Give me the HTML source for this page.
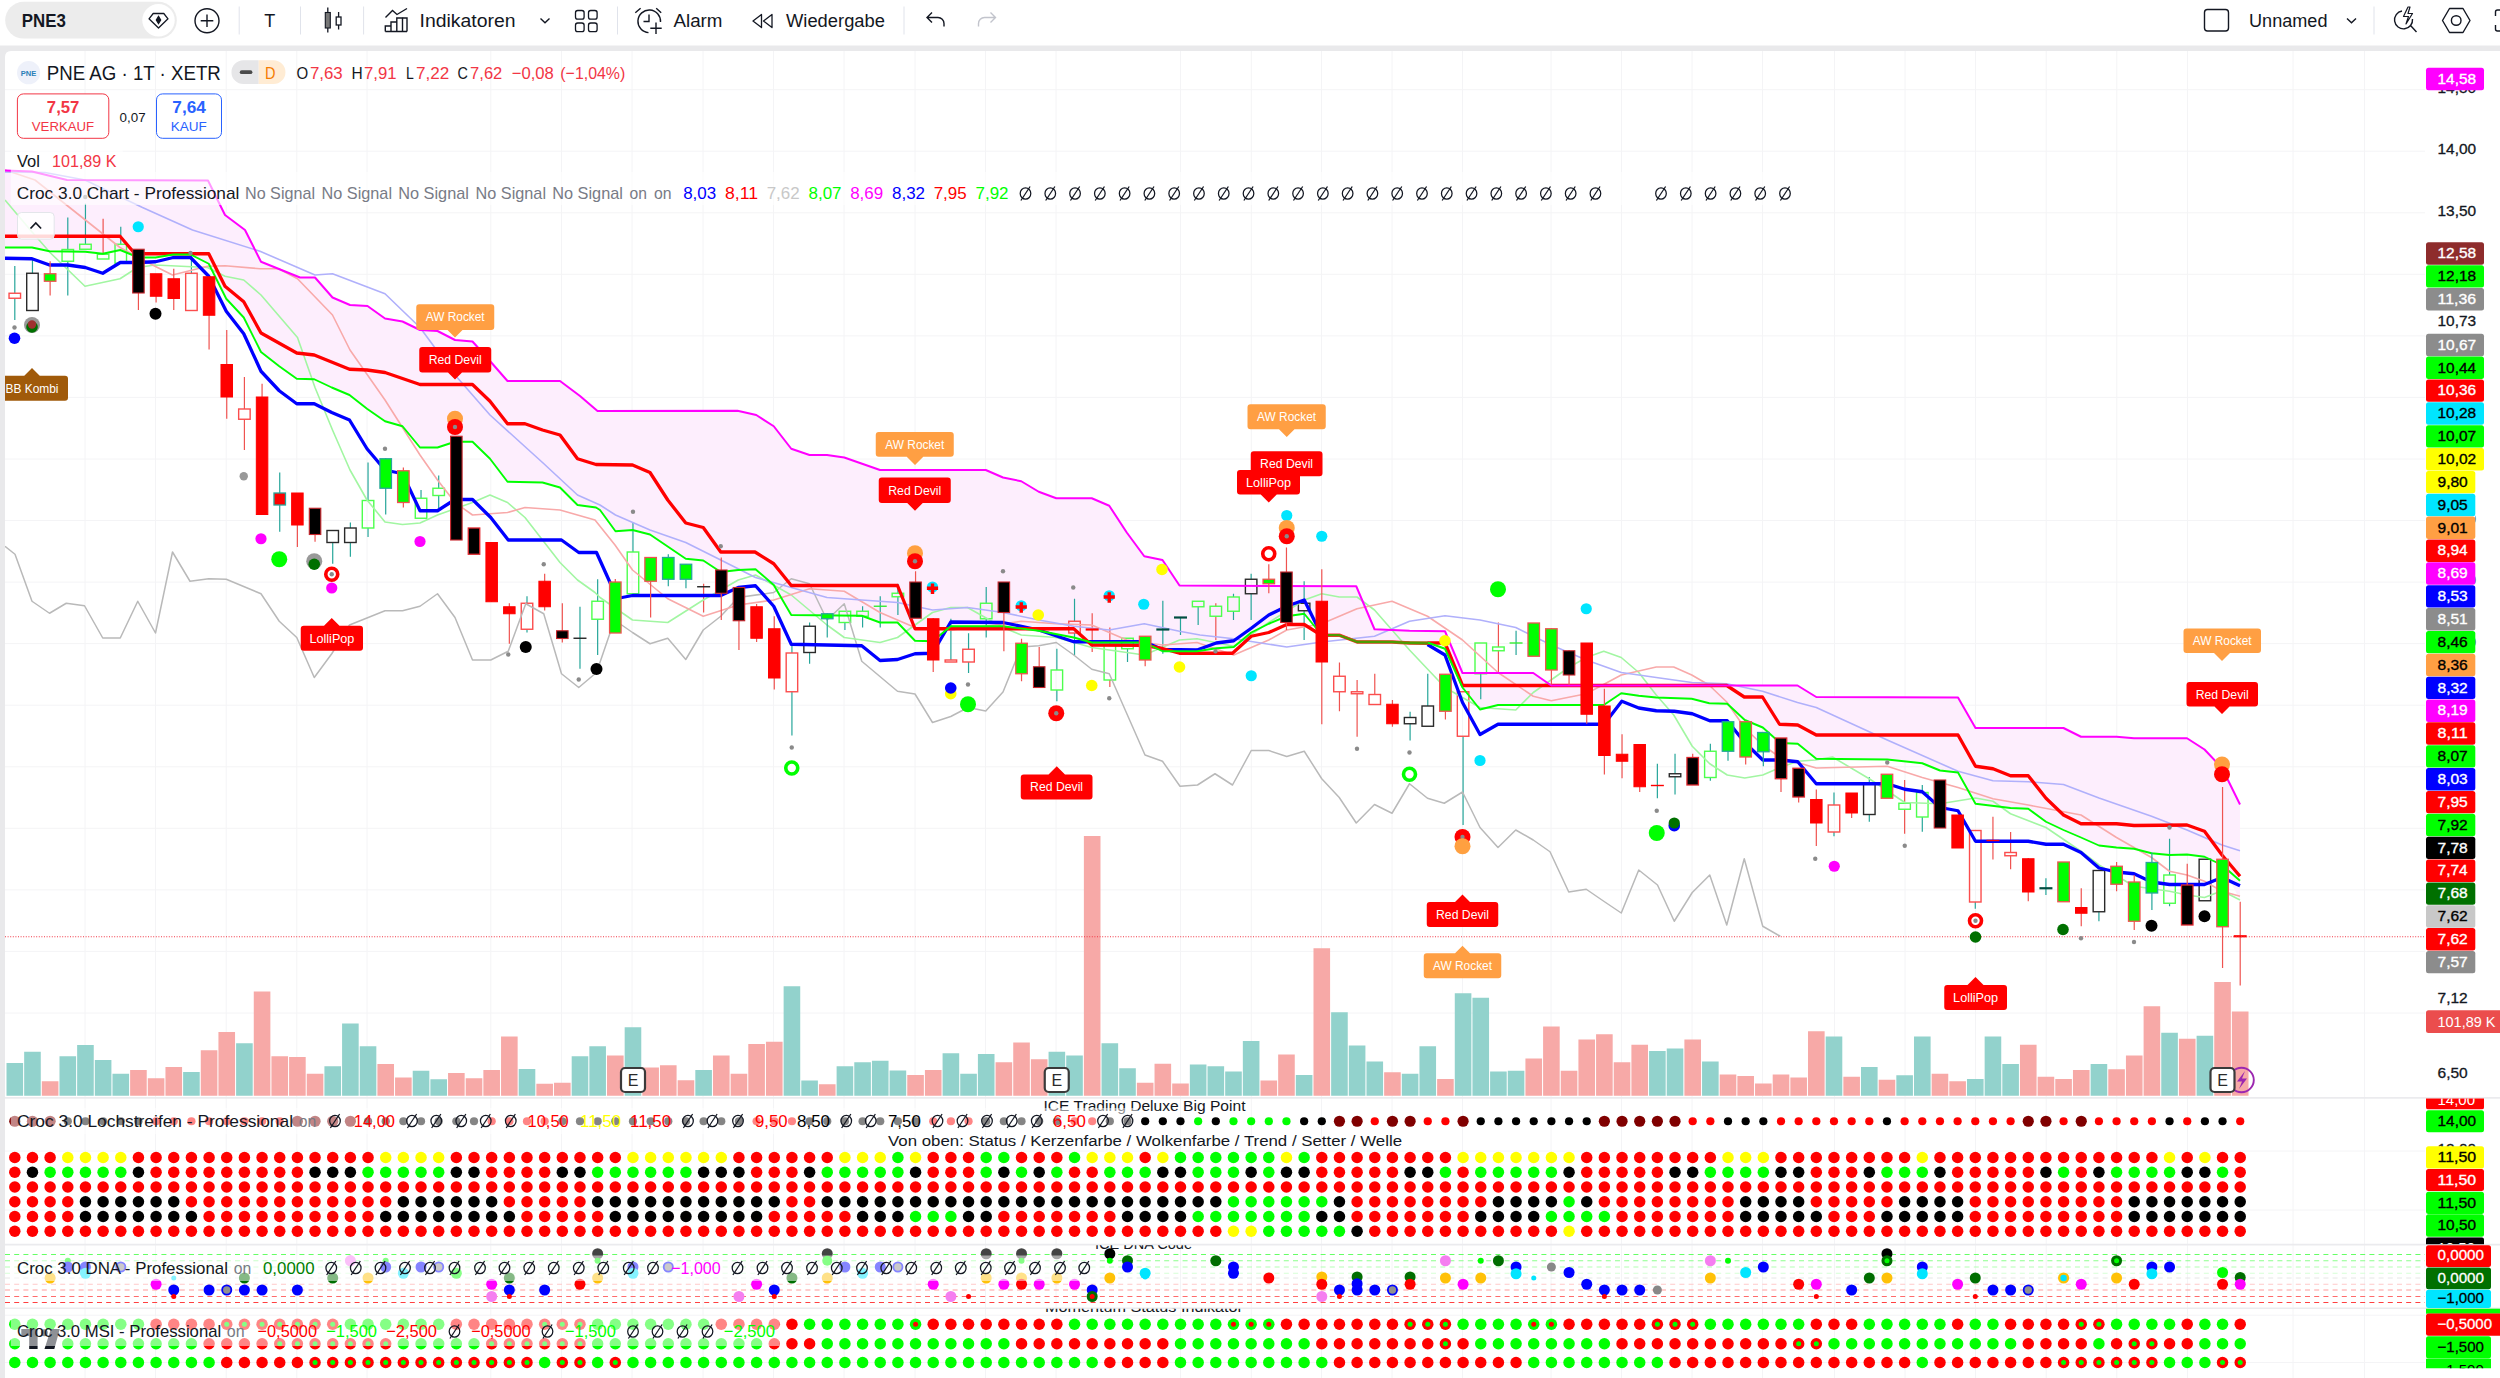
<!DOCTYPE html>
<html><head><meta charset="utf-8"><title>PNE3</title><style>html,body{margin:0;padding:0;background:#fff;overflow:hidden}svg{display:block}svg text{font-family:"Liberation Sans",sans-serif}</style></head><body><svg width="2500" height="1378" viewBox="0 0 2500 1378" font-family='"Liberation Sans", sans-serif' shape-rendering="auto">
<rect width="2500" height="1378" fill="#e9e9eb"/>
<rect width="2500" height="45.5" fill="#ffffff"/>
<path d="M5 1378 V57 Q5 51 11 51 H2500 V1378 Z" fill="#ffffff"/>
<defs><clipPath id="cp"><rect x="5" y="51" width="2420" height="1327"/></clipPath><clipPath id="cpm"><rect x="5" y="51" width="2420" height="1046"/></clipPath></defs>
<path d="M85.0 51V1378M155.5 51V1378M226.2 51V1378M296.8 51V1378M367.0 51V1378M490.8 51V1378M561.5 51V1378M632.0 51V1378M703.0 51V1378M773.5 51V1378M844.0 51V1378M915.0 51V1378M985.5 51V1378M1056.0 51V1378M1180.5 51V1378M1251.3 51V1378M1321.5 51V1378M1392.0 51V1378M1462.5 51V1378M1551.0 51V1378M1621.5 51V1378M1692.0 51V1378M1762.5 51V1378M1834.5 51V1378M1905.0 51V1378M1975.5 51V1378M2046.2 51V1378M2116.8 51V1378M2187.5 51V1378M2293.0 51V1378M2364.5 51V1378M5 89.7H2425M5 151.2H2425M5 212.8H2425M5 274.3H2425M5 335.9H2425M5 397.4H2425M5 459.0H2425M5 520.5H2425M5 582.1H2425M5 643.6H2425M5 705.2H2425M5 766.8H2425M5 828.3H2425M5 889.9H2425M5 951.4H2425M5 1013.0H2425M5 1151.0H2425M5 1210.0H2425M5 1315.2H2425M5 1362.5H2425" stroke="#f4f4f6" stroke-width="1" fill="none"/>
<g clip-path="url(#cpm)">
<polygon points="5.00,170.50 8.86,170.64 12.71,170.79 16.57,170.93 20.43,171.07 24.29,171.21 28.14,171.36 32.00,171.50 35.25,172.29 38.50,173.08 41.75,173.87 45.00,174.66 47.25,175.20 49.50,175.75 53.00,176.60 56.50,177.45 60.00,178.30 63.50,179.15 67.00,180.00 70.60,180.01 74.20,180.03 77.80,180.04 81.40,180.05 85.00,180.06 85.25,180.06 88.75,180.08 92.25,180.09 95.75,180.10 99.25,180.11 102.75,180.13 106.20,180.14 109.65,180.15 113.10,180.16 116.55,180.18 120.00,180.19 120.25,180.19 123.94,180.20 127.62,180.21 131.31,180.23 135.00,180.24 138.25,180.25 140.38,180.26 142.50,180.27 145.75,180.28 149.00,180.29 152.25,180.30 155.50,180.31 159.05,180.33 162.60,180.34 166.15,180.35 169.70,180.36 173.25,180.38 176.70,180.39 180.15,180.40 183.60,180.41 187.05,180.43 190.50,180.44 192.50,180.45 196.38,180.46 200.25,180.47 204.12,180.49 208.00,180.50 208.75,182.02 212.00,188.62 215.25,195.21 218.50,201.81 221.75,208.40 225.00,215.00 226.25,215.94 229.75,218.56 233.25,221.19 236.75,223.81 240.25,226.44 243.75,229.06 245.00,230.00 248.75,237.44 252.50,244.88 256.25,252.32 260.00,259.77 261.00,261.75 264.65,263.22 268.30,264.70 271.95,266.17 275.60,267.65 279.25,269.12 282.75,270.53 286.25,271.95 289.75,273.36 293.25,274.77 296.75,276.19 300.00,277.50 303.56,277.50 307.12,277.50 310.69,277.50 314.25,277.50 315.00,277.50 318.35,281.33 321.70,285.16 325.05,288.99 328.40,292.81 331.75,296.64 332.50,297.50 335.90,298.96 339.30,300.41 342.70,301.87 346.10,303.33 349.50,304.79 350.00,305.00 353.40,305.19 356.80,305.39 360.20,305.58 363.60,305.78 367.00,305.97 367.50,306.00 371.00,308.50 374.50,311.00 378.00,313.50 381.50,316.00 385.00,318.50 388.50,319.10 392.00,319.70 395.50,320.30 399.00,320.90 402.50,321.50 406.00,323.20 409.50,324.90 413.00,326.60 416.50,328.30 420.00,330.00 423.50,330.20 427.00,330.40 430.50,330.60 434.00,330.80 437.50,331.00 441.00,332.80 444.50,334.60 448.00,336.40 451.50,338.20 455.00,340.00 458.50,340.30 462.00,340.60 465.50,340.90 469.00,341.20 472.50,341.50 476.00,345.40 479.50,349.30 483.00,353.20 486.50,357.10 490.00,361.00 493.50,365.00 497.00,369.00 500.50,373.00 504.00,377.00 507.50,381.00 511.00,381.00 514.50,381.00 518.00,381.00 521.50,381.00 525.00,381.00 528.50,381.00 532.00,381.00 535.50,381.00 539.00,381.00 542.50,381.00 546.00,381.00 549.50,381.00 553.00,381.00 556.50,381.00 560.00,381.00 563.50,383.62 567.00,386.25 570.50,388.88 574.00,391.50 577.50,394.12 580.00,396.00 583.20,398.74 586.40,401.49 589.60,404.23 592.80,406.97 596.00,409.71 597.50,411.00 600.00,411.00 603.88,410.99 607.75,410.98 611.62,410.97 615.50,410.97 618.90,410.96 622.30,410.96 625.70,410.95 629.10,410.94 632.50,410.94 636.00,410.93 639.50,410.93 643.00,410.92 646.50,410.91 650.00,410.91 653.55,410.90 657.10,410.89 660.65,410.89 664.20,410.88 667.75,410.87 671.35,410.87 674.95,410.86 678.55,410.86 682.15,410.85 685.75,410.84 689.25,410.84 692.75,410.83 696.25,410.82 699.75,410.82 703.25,410.81 706.75,410.80 710.25,410.80 713.75,410.79 717.25,410.79 720.75,410.78 724.10,410.77 727.45,410.77 730.80,410.76 734.15,410.76 737.50,410.75 738.25,410.92 741.60,411.68 744.95,412.44 748.30,413.20 751.65,413.96 755.00,414.72 755.50,414.83 756.25,415.00 759.75,417.25 763.25,419.50 766.75,421.75 770.25,424.00 773.75,426.25 777.25,430.75 780.75,435.25 784.25,439.75 787.75,444.25 791.25,448.75 794.90,450.00 798.55,451.25 802.20,452.50 805.85,453.75 809.50,455.00 813.00,455.00 816.50,455.00 820.00,455.00 823.50,455.00 827.00,455.00 830.45,455.50 833.90,456.00 837.35,456.50 840.80,457.00 844.25,457.50 847.75,458.72 851.25,459.95 854.75,461.17 858.25,462.40 861.75,463.62 865.40,464.90 869.05,466.17 872.70,467.45 876.35,468.72 880.00,470.00 883.50,470.00 887.00,470.00 890.50,470.00 894.00,470.00 897.50,470.00 901.00,470.00 904.50,470.00 908.00,470.00 911.50,470.00 915.00,470.00 918.50,470.00 922.00,470.00 925.50,470.00 929.00,470.00 932.50,470.00 936.15,470.00 939.80,470.00 943.45,470.00 947.10,470.00 950.75,470.00 954.10,470.00 957.45,470.00 960.80,470.00 964.15,470.00 967.50,470.00 971.15,470.00 974.80,470.00 978.45,470.00 982.10,470.00 985.75,470.00 989.20,471.50 992.65,473.00 996.10,474.50 999.55,476.00 1003.00,477.50 1006.65,478.25 1010.30,479.00 1013.95,479.75 1017.60,480.50 1021.25,481.25 1024.75,483.35 1028.25,485.45 1031.75,487.55 1035.25,489.65 1038.75,491.75 1042.25,493.05 1045.75,494.35 1049.25,495.65 1052.75,496.95 1056.25,498.25 1059.75,498.25 1063.25,498.25 1066.75,498.25 1070.25,498.25 1073.75,498.25 1077.35,498.25 1080.95,498.25 1084.55,498.25 1088.15,498.25 1091.75,498.25 1095.25,499.75 1098.75,501.25 1102.25,502.75 1105.75,504.25 1109.25,505.75 1112.75,511.10 1116.25,516.45 1119.75,521.80 1123.25,527.15 1126.75,532.50 1130.25,537.25 1133.75,542.00 1137.25,546.75 1140.75,551.50 1144.25,556.25 1147.90,557.00 1151.55,557.75 1155.20,558.50 1158.85,559.25 1162.50,560.00 1165.90,565.10 1169.30,570.20 1172.70,575.30 1176.10,580.40 1179.50,585.50 1183.00,585.51 1186.50,585.53 1190.00,585.54 1193.50,585.56 1197.00,585.57 1200.00,585.59 1203.25,585.60 1206.50,585.61 1209.75,585.63 1213.00,585.64 1216.25,585.66 1219.50,585.67 1222.75,585.68 1226.00,585.70 1229.25,585.71 1232.50,585.72 1233.75,585.73 1237.25,585.75 1240.75,585.76 1244.25,585.77 1247.75,585.79 1251.25,585.80 1254.75,585.82 1258.25,585.83 1261.75,585.85 1265.25,585.86 1268.75,585.88 1272.35,585.89 1275.95,585.91 1279.55,585.92 1283.15,585.94 1286.75,585.96 1290.25,585.97 1293.75,585.98 1297.25,586.00 1300.75,586.01 1304.25,586.03 1307.75,586.04 1311.25,586.06 1314.75,586.07 1318.25,586.09 1321.75,586.10 1325.25,586.12 1328.75,586.13 1332.25,586.15 1335.75,586.16 1339.25,586.18 1342.65,586.19 1346.05,586.21 1349.45,586.22 1352.85,586.24 1356.25,586.25 1357.00,588.02 1360.50,596.26 1364.00,604.51 1367.50,612.76 1371.00,621.00 1374.50,629.25 1378.00,629.40 1381.50,629.55 1385.00,629.70 1388.50,629.85 1392.00,630.00 1395.50,630.15 1399.00,630.30 1402.50,630.45 1406.00,630.60 1409.50,630.75 1413.10,630.80 1416.70,630.85 1420.30,630.90 1423.90,630.95 1427.50,631.00 1431.00,631.05 1434.50,631.10 1438.00,631.15 1441.50,631.20 1445.00,631.25 1448.50,639.60 1452.00,647.95 1455.50,656.30 1459.00,664.65 1462.50,673.00 1466.00,673.00 1469.50,673.00 1473.00,673.00 1476.50,673.00 1480.00,673.00 1483.60,673.00 1487.20,673.00 1490.80,673.00 1494.40,673.00 1498.00,673.00 1501.55,673.00 1505.10,673.00 1508.65,673.00 1512.20,673.00 1515.75,673.00 1519.25,673.00 1522.75,673.00 1526.25,673.00 1529.75,673.00 1533.25,673.00 1536.85,675.50 1540.45,678.00 1544.05,680.50 1547.65,683.00 1551.25,685.50 1555.14,685.50 1559.03,685.50 1562.92,685.50 1566.81,685.50 1570.69,685.50 1574.58,685.50 1578.47,685.50 1582.36,685.50 1586.25,685.50 1589.75,685.50 1593.25,685.50 1596.75,685.50 1600.25,685.50 1603.75,685.50 1607.25,685.50 1610.75,685.50 1614.25,685.50 1617.75,685.50 1621.25,685.50 1624.75,685.50 1628.25,685.50 1631.75,685.50 1635.25,685.50 1638.75,685.50 1642.25,685.50 1645.75,685.50 1649.25,685.50 1652.75,685.50 1656.25,685.50 1660.19,685.50 1664.14,685.50 1668.08,685.50 1672.03,685.50 1675.97,685.50 1679.92,685.50 1683.86,685.50 1687.81,685.50 1691.75,685.50 1695.25,685.50 1698.75,685.50 1702.25,685.50 1705.75,685.50 1709.25,685.50 1712.75,685.50 1716.25,685.50 1719.75,685.50 1723.25,685.50 1726.75,685.50 1727.25,685.50 1730.65,685.50 1734.05,685.50 1737.45,685.50 1740.85,685.50 1744.25,685.50 1744.75,685.50 1748.30,685.50 1751.85,685.50 1755.40,685.50 1758.95,685.50 1762.50,685.50 1762.75,685.50 1766.10,685.50 1769.45,685.50 1772.80,685.50 1776.15,685.50 1779.50,685.50 1780.25,685.50 1783.70,685.50 1787.15,685.50 1790.60,685.50 1794.05,685.50 1797.50,685.50 1797.75,685.65 1801.45,687.92 1805.15,690.19 1808.85,692.46 1812.55,694.73 1816.25,697.00 1820.19,697.01 1824.14,697.03 1828.08,697.04 1832.03,697.06 1835.97,697.07 1839.92,697.08 1843.86,697.10 1847.81,697.11 1851.75,697.13 1855.69,697.14 1859.64,697.15 1863.58,697.17 1867.53,697.18 1871.47,697.19 1875.42,697.21 1879.36,697.22 1883.31,697.24 1887.25,697.25 1891.14,697.26 1895.03,697.28 1898.92,697.29 1902.81,697.31 1906.69,697.32 1910.58,697.33 1914.47,697.35 1918.36,697.36 1922.25,697.37 1925.80,697.39 1929.35,697.40 1932.90,697.41 1936.45,697.42 1940.00,697.44 1943.60,697.45 1947.20,697.46 1950.80,697.47 1954.40,697.49 1958.00,697.50 1961.50,703.60 1965.00,709.70 1968.50,715.80 1972.00,721.90 1975.50,728.00 1979.00,728.00 1982.50,728.00 1986.00,728.00 1989.50,728.00 1993.00,728.00 1996.50,728.00 2000.00,728.00 2003.50,728.00 2007.00,728.00 2010.50,728.00 2014.05,728.00 2017.60,728.00 2021.15,728.00 2024.70,728.00 2028.25,728.00 2031.80,728.00 2035.35,728.00 2038.90,728.00 2042.45,728.00 2046.00,728.00 2049.50,728.00 2053.00,728.00 2056.50,728.00 2060.00,728.00 2063.50,728.00 2067.00,729.75 2070.50,731.50 2074.00,733.25 2077.50,735.00 2081.00,736.75 2084.60,736.75 2088.20,736.75 2091.80,736.75 2095.40,736.75 2099.00,736.75 2102.50,736.75 2106.00,736.75 2109.50,736.75 2113.00,736.75 2116.50,736.75 2120.00,737.05 2123.50,737.35 2127.00,737.65 2130.50,737.95 2134.00,738.25 2137.50,738.25 2141.00,738.25 2144.50,738.25 2148.00,738.25 2151.50,738.25 2155.10,738.25 2158.70,738.25 2162.30,738.25 2165.90,738.25 2169.50,738.25 2173.00,738.25 2176.50,738.25 2180.00,738.25 2183.50,738.25 2187.00,738.25 2190.50,740.50 2194.00,742.75 2197.50,745.00 2201.00,747.25 2204.50,749.50 2208.00,753.20 2211.50,756.90 2215.00,760.60 2218.50,764.30 2222.00,768.00 2225.60,775.30 2229.20,782.60 2232.80,789.90 2236.40,797.20 2240.00,804.50 2240.00,900.00 2236.40,893.00 2232.80,886.00 2229.20,879.00 2225.60,872.00 2222.00,865.00 2218.50,863.35 2215.00,861.70 2211.50,860.05 2208.00,858.40 2204.50,856.75 2201.00,856.30 2197.50,855.85 2194.00,855.40 2190.50,854.95 2187.00,854.50 2183.50,854.60 2180.00,854.70 2176.50,854.80 2173.00,854.90 2169.50,855.00 2165.90,854.65 2162.30,854.30 2158.70,853.95 2155.10,853.60 2151.50,853.25 2148.00,852.35 2144.50,851.45 2141.00,850.55 2137.50,849.65 2134.00,848.75 2130.50,848.50 2127.00,848.25 2123.50,848.00 2120.00,847.75 2116.50,847.50 2113.00,847.10 2109.50,846.70 2106.00,846.30 2102.50,845.90 2099.00,845.50 2095.40,843.90 2091.80,842.30 2088.20,840.70 2084.60,839.10 2081.00,837.50 2077.50,836.00 2074.00,834.50 2070.50,833.00 2067.00,831.50 2063.50,830.00 2060.00,828.35 2056.50,826.70 2053.00,825.05 2049.50,823.40 2046.00,821.75 2042.45,819.15 2038.90,816.55 2035.35,813.95 2031.80,811.35 2028.25,808.75 2024.70,808.60 2021.15,808.45 2017.60,808.30 2014.05,808.15 2010.50,808.00 2007.00,807.58 2003.50,807.15 2000.00,806.73 1996.50,806.30 1993.00,805.88 1989.50,805.45 1986.00,805.02 1982.50,804.60 1979.00,804.17 1975.50,803.75 1972.00,797.50 1968.50,791.25 1965.00,785.00 1961.50,778.75 1958.00,772.50 1954.40,772.10 1950.80,771.70 1947.20,771.30 1943.60,770.90 1940.00,770.50 1936.45,769.05 1932.90,767.60 1929.35,766.15 1925.80,764.70 1922.25,763.25 1918.36,762.83 1914.47,762.42 1910.58,762.00 1906.69,761.58 1902.81,761.17 1898.92,760.75 1895.03,760.33 1891.14,759.92 1887.25,759.50 1883.31,759.46 1879.36,759.42 1875.42,759.38 1871.47,759.33 1867.53,759.29 1863.58,759.25 1859.64,759.21 1855.69,759.17 1851.75,759.12 1847.81,759.08 1843.86,759.04 1839.92,759.00 1835.97,758.96 1832.03,758.92 1828.08,758.88 1824.14,758.83 1820.19,758.79 1816.25,758.75 1812.55,755.75 1808.85,752.75 1805.15,749.75 1801.45,746.75 1797.75,743.75 1797.50,743.74 1794.05,743.59 1790.60,743.44 1787.15,743.30 1783.70,743.15 1780.25,743.00 1779.50,742.34 1776.15,739.37 1772.80,736.40 1769.45,733.43 1766.10,730.47 1762.75,727.50 1762.50,727.40 1758.95,725.92 1755.40,724.44 1751.85,722.96 1748.30,721.48 1744.75,720.00 1744.25,719.54 1740.85,716.38 1737.45,713.22 1734.05,710.06 1730.65,706.91 1727.25,703.75 1726.75,703.74 1723.25,703.64 1719.75,703.54 1716.25,703.44 1712.75,703.35 1709.25,703.25 1705.75,702.35 1702.25,701.45 1698.75,700.55 1695.25,699.65 1691.75,698.75 1687.81,698.61 1683.86,698.47 1679.92,698.33 1675.97,698.19 1672.03,698.06 1668.08,697.92 1664.14,697.78 1660.19,697.64 1656.25,697.50 1652.75,697.15 1649.25,696.80 1645.75,696.45 1642.25,696.10 1638.75,695.75 1635.25,695.25 1631.75,694.75 1628.25,694.25 1624.75,693.75 1621.25,693.25 1617.75,695.60 1614.25,697.95 1610.75,700.30 1607.25,702.65 1603.75,705.00 1600.25,705.00 1596.75,705.00 1593.25,705.00 1589.75,705.00 1586.25,705.00 1582.36,705.00 1578.47,705.00 1574.58,705.00 1570.69,705.00 1566.81,705.00 1562.92,705.00 1559.03,705.00 1555.14,705.00 1551.25,705.00 1547.65,705.00 1544.05,705.00 1540.45,705.00 1536.85,705.00 1533.25,705.00 1529.75,705.00 1526.25,705.00 1522.75,705.00 1519.25,705.00 1515.75,705.00 1512.20,705.00 1508.65,705.00 1505.10,705.00 1501.55,705.00 1498.00,705.00 1494.40,705.90 1490.80,706.80 1487.20,707.70 1483.60,708.60 1480.00,709.50 1476.50,705.10 1473.00,700.70 1469.50,696.30 1466.00,691.90 1462.50,687.50 1459.00,679.75 1455.50,672.00 1452.00,664.25 1448.50,656.50 1445.00,648.75 1441.50,647.50 1438.00,646.25 1434.50,645.00 1431.00,643.75 1427.50,642.50 1423.90,642.44 1420.30,642.37 1416.70,642.31 1413.10,642.24 1409.50,642.18 1406.00,642.12 1402.50,642.06 1399.00,641.99 1395.50,641.93 1392.00,641.87 1388.50,641.81 1385.00,641.75 1381.50,641.68 1378.00,641.62 1374.50,641.56 1371.00,641.50 1367.50,641.44 1364.00,641.37 1360.50,641.31 1357.00,641.25 1356.25,640.99 1352.85,639.79 1349.45,638.59 1346.05,637.39 1342.65,636.20 1339.25,635.00 1335.75,635.00 1332.25,635.00 1328.75,635.00 1325.25,635.00 1321.75,635.00 1318.25,630.75 1314.75,626.50 1311.25,622.25 1307.75,618.00 1304.25,613.75 1300.75,614.25 1297.25,614.75 1293.75,615.25 1290.25,615.75 1286.75,616.25 1283.15,617.75 1279.55,619.25 1275.95,620.75 1272.35,622.25 1268.75,623.75 1265.25,625.50 1261.75,627.25 1258.25,629.00 1254.75,630.75 1251.25,632.50 1247.75,635.40 1244.25,638.30 1240.75,641.20 1237.25,644.10 1233.75,647.00 1232.50,647.09 1229.25,647.32 1226.00,647.55 1222.75,647.79 1219.50,648.02 1216.25,648.25 1213.00,648.76 1209.75,649.26 1206.50,649.77 1203.25,650.28 1200.00,650.78 1197.00,651.25 1193.50,651.25 1190.00,651.25 1186.50,651.25 1183.00,651.25 1179.50,651.25 1176.10,651.25 1172.70,651.25 1169.30,651.25 1165.90,651.25 1162.50,651.25 1158.85,649.50 1155.20,647.75 1151.55,646.00 1147.90,644.25 1144.25,642.50 1140.75,642.50 1137.25,642.50 1133.75,642.50 1130.25,642.50 1126.75,642.50 1123.25,642.50 1119.75,642.50 1116.25,642.50 1112.75,642.50 1109.25,642.50 1105.75,642.50 1102.25,642.50 1098.75,642.50 1095.25,642.50 1091.75,642.50 1088.15,641.50 1084.55,640.50 1080.95,639.50 1077.35,638.50 1073.75,637.50 1070.25,636.83 1066.75,636.15 1063.25,635.48 1059.75,634.80 1056.25,634.12 1052.75,633.45 1049.25,632.77 1045.75,632.10 1042.25,631.42 1038.75,630.75 1035.25,630.31 1031.75,629.87 1028.25,629.43 1024.75,628.99 1021.25,628.55 1017.60,628.09 1013.95,627.63 1010.30,627.17 1006.65,626.71 1003.00,626.25 999.55,626.25 996.10,626.25 992.65,626.25 989.20,626.25 985.75,626.25 982.10,626.25 978.45,626.25 974.80,626.25 971.15,626.25 967.50,626.25 964.15,626.25 960.80,626.25 957.45,626.25 954.10,626.25 950.75,626.25 947.10,629.25 943.45,632.25 939.80,635.25 936.15,638.25 932.50,641.25 929.00,641.15 925.50,641.05 922.00,640.95 918.50,640.85 915.00,640.75 911.50,637.10 908.00,633.45 904.50,629.80 901.00,626.15 897.50,622.50 894.00,622.50 890.50,622.50 887.00,622.50 883.50,622.50 880.00,622.50 876.35,621.15 872.70,619.80 869.05,618.45 865.40,617.10 861.75,615.75 858.25,615.71 854.75,615.68 851.25,615.64 847.75,615.60 844.25,615.56 840.80,615.53 837.35,615.49 833.90,615.45 830.45,615.42 827.00,615.38 823.50,615.34 820.00,615.31 816.50,615.27 813.00,615.23 809.50,615.19 805.85,615.16 802.20,615.12 798.55,615.08 794.90,615.04 791.25,615.00 787.75,609.00 784.25,603.00 780.75,597.00 777.25,591.00 773.75,585.00 770.25,581.98 766.75,578.96 763.25,575.94 759.75,572.92 756.25,569.90 755.50,569.25 755.00,569.27 751.65,569.42 748.30,569.56 744.95,569.71 741.60,569.85 738.25,570.00 737.50,570.09 734.15,570.47 730.80,570.85 727.45,571.23 724.10,571.62 720.75,572.00 717.25,569.70 713.75,567.40 710.25,565.10 706.75,562.80 703.25,560.50 699.75,560.15 696.25,559.80 692.75,559.45 689.25,559.10 685.75,558.75 682.15,556.31 678.55,553.87 674.95,551.42 671.35,548.98 667.75,546.54 664.20,544.13 660.65,541.72 657.10,539.32 653.55,536.91 650.00,534.50 646.50,533.60 643.00,532.70 639.50,531.80 636.00,530.90 632.50,530.00 629.10,530.25 625.70,530.50 622.30,530.75 618.90,531.00 615.50,531.25 611.62,525.94 607.75,520.62 603.88,515.31 600.00,510.00 597.50,508.44 596.00,507.50 592.80,507.07 589.60,506.64 586.40,506.20 583.20,505.77 580.00,505.34 577.50,505.00 574.00,501.50 570.50,498.00 567.00,494.50 563.50,491.00 560.00,487.50 556.50,486.50 553.00,485.50 549.50,484.50 546.00,483.50 542.50,482.50 539.00,482.43 535.50,482.35 532.00,482.27 528.50,482.20 525.00,482.12 521.50,482.05 518.00,481.98 514.50,481.90 511.00,481.82 507.50,481.75 504.00,477.15 500.50,472.55 497.00,467.95 493.50,463.35 490.00,458.75 486.50,455.35 483.00,451.95 479.50,448.55 476.00,445.15 472.50,441.75 469.00,441.75 465.50,441.75 462.00,441.75 458.50,441.75 455.00,441.75 451.50,442.90 448.00,444.05 444.50,445.20 441.00,446.35 437.50,447.50 434.00,447.50 430.50,447.50 427.00,447.50 423.50,447.50 420.00,447.50 416.50,443.25 413.00,439.00 409.50,434.75 406.00,430.50 402.50,426.25 399.00,425.25 395.50,424.25 392.00,423.25 388.50,422.25 385.00,421.25 381.50,418.82 378.00,416.39 374.50,413.96 371.00,411.53 367.50,409.10 367.00,408.75 363.60,406.08 360.20,403.41 356.80,400.74 353.40,398.06 350.00,395.39 349.50,395.00 346.10,393.56 342.70,392.13 339.30,390.69 335.90,389.25 332.50,387.82 331.75,387.50 328.40,385.92 325.05,384.34 321.70,382.76 318.35,381.18 315.00,379.60 314.25,379.25 310.69,379.15 307.12,379.05 303.56,378.94 300.00,378.84 296.75,378.75 293.25,376.25 289.75,373.75 286.25,371.25 282.75,368.75 279.25,366.25 275.60,363.40 271.95,360.55 268.30,357.70 264.65,354.85 261.00,352.00 260.00,350.00 256.25,342.50 252.50,335.00 248.75,327.50 245.00,320.00 243.75,317.50 240.25,313.75 236.75,310.00 233.25,306.25 229.75,302.50 226.25,298.75 225.00,296.25 221.75,289.75 218.50,283.25 215.25,276.75 212.00,270.25 208.75,263.75 208.00,263.37 204.12,261.41 200.25,259.44 196.38,257.48 192.50,255.51 190.50,254.50 187.05,254.50 183.60,254.50 180.15,254.50 176.70,254.50 173.25,254.50 169.70,255.10 166.15,255.70 162.60,256.30 159.05,256.90 155.50,257.50 152.25,257.50 149.00,257.50 145.75,257.50 142.50,257.50 140.38,257.50 138.25,257.50 135.00,256.15 131.31,254.61 127.62,253.07 123.94,251.54 120.25,250.00 120.00,250.05 116.55,250.79 113.10,251.53 109.65,252.27 106.20,253.01 102.75,253.75 99.25,253.35 95.75,252.95 92.25,252.55 88.75,252.15 85.25,251.75 85.00,251.75 81.40,251.70 77.80,251.65 74.20,251.60 70.60,251.55 67.00,251.49 63.50,251.45 60.00,251.40 56.50,251.35 53.00,251.30 49.50,251.25 47.25,250.77 45.00,250.29 41.75,249.59 38.50,248.89 35.25,248.20 32.00,247.50 28.14,247.50 24.29,247.50 20.43,247.50 16.57,247.50 12.71,247.50 8.86,247.50 5.00,247.50" fill="#fdeefd"/>
<rect x="6.50" y="1063.00" width="16.6" height="32.75" fill="#92d2cc"/>
<rect x="24.16" y="1051.75" width="16.6" height="44.00" fill="#92d2cc"/>
<rect x="41.82" y="1081.25" width="16.6" height="14.50" fill="#f7a9a7"/>
<rect x="59.49" y="1056.25" width="16.6" height="39.50" fill="#92d2cc"/>
<rect x="77.15" y="1045.00" width="16.6" height="50.75" fill="#92d2cc"/>
<rect x="94.81" y="1060.00" width="16.6" height="35.75" fill="#92d2cc"/>
<rect x="112.47" y="1073.75" width="16.6" height="22.00" fill="#92d2cc"/>
<rect x="130.13" y="1070.00" width="16.6" height="25.75" fill="#f7a9a7"/>
<rect x="147.80" y="1078.25" width="16.6" height="17.50" fill="#f7a9a7"/>
<rect x="165.46" y="1067.00" width="16.6" height="28.75" fill="#f7a9a7"/>
<rect x="183.12" y="1072.00" width="16.6" height="23.75" fill="#92d2cc"/>
<rect x="200.78" y="1050.25" width="16.6" height="45.50" fill="#f7a9a7"/>
<rect x="218.44" y="1032.00" width="16.6" height="63.75" fill="#f7a9a7"/>
<rect x="236.11" y="1043.25" width="16.6" height="52.50" fill="#92d2cc"/>
<rect x="253.77" y="991.50" width="16.6" height="104.25" fill="#f7a9a7"/>
<rect x="271.43" y="1056.25" width="16.6" height="39.50" fill="#f7a9a7"/>
<rect x="289.09" y="1057.00" width="16.6" height="38.75" fill="#f7a9a7"/>
<rect x="306.75" y="1073.75" width="16.6" height="22.00" fill="#f7a9a7"/>
<rect x="324.42" y="1066.25" width="16.6" height="29.50" fill="#92d2cc"/>
<rect x="342.08" y="1023.50" width="16.6" height="72.25" fill="#92d2cc"/>
<rect x="359.74" y="1046.25" width="16.6" height="49.50" fill="#92d2cc"/>
<rect x="377.40" y="1064.00" width="16.6" height="31.75" fill="#f7a9a7"/>
<rect x="395.06" y="1077.50" width="16.6" height="18.25" fill="#f7a9a7"/>
<rect x="412.73" y="1070.75" width="16.6" height="25.00" fill="#92d2cc"/>
<rect x="430.39" y="1079.25" width="16.6" height="16.50" fill="#92d2cc"/>
<rect x="448.05" y="1073.00" width="16.6" height="22.75" fill="#f7a9a7"/>
<rect x="465.71" y="1078.25" width="16.6" height="17.50" fill="#f7a9a7"/>
<rect x="483.37" y="1070.00" width="16.6" height="25.75" fill="#f7a9a7"/>
<rect x="501.04" y="1036.50" width="16.6" height="59.25" fill="#f7a9a7"/>
<rect x="518.70" y="1069.00" width="16.6" height="26.75" fill="#92d2cc"/>
<rect x="536.36" y="1083.75" width="16.6" height="12.00" fill="#f7a9a7"/>
<rect x="554.02" y="1082.75" width="16.6" height="13.00" fill="#f7a9a7"/>
<rect x="571.68" y="1056.25" width="16.6" height="39.50" fill="#92d2cc"/>
<rect x="589.35" y="1046.25" width="16.6" height="49.50" fill="#92d2cc"/>
<rect x="607.01" y="1055.50" width="16.6" height="40.25" fill="#f7a9a7"/>
<rect x="624.67" y="1027.25" width="16.6" height="68.50" fill="#92d2cc"/>
<rect x="642.33" y="1067.50" width="16.6" height="28.25" fill="#f7a9a7"/>
<rect x="659.99" y="1065.25" width="16.6" height="30.50" fill="#f7a9a7"/>
<rect x="677.66" y="1080.25" width="16.6" height="15.50" fill="#f7a9a7"/>
<rect x="695.32" y="1070.00" width="16.6" height="25.75" fill="#92d2cc"/>
<rect x="712.98" y="1055.50" width="16.6" height="40.25" fill="#f7a9a7"/>
<rect x="730.64" y="1073.75" width="16.6" height="22.00" fill="#f7a9a7"/>
<rect x="748.30" y="1044.00" width="16.6" height="51.75" fill="#f7a9a7"/>
<rect x="765.97" y="1041.75" width="16.6" height="54.00" fill="#f7a9a7"/>
<rect x="783.63" y="986.25" width="16.6" height="109.50" fill="#92d2cc"/>
<rect x="801.29" y="1080.50" width="16.6" height="15.25" fill="#92d2cc"/>
<rect x="818.95" y="1084.25" width="16.6" height="11.50" fill="#f7a9a7"/>
<rect x="836.61" y="1066.25" width="16.6" height="29.50" fill="#92d2cc"/>
<rect x="854.28" y="1062.25" width="16.6" height="33.50" fill="#92d2cc"/>
<rect x="871.94" y="1060.75" width="16.6" height="35.00" fill="#92d2cc"/>
<rect x="889.60" y="1070.50" width="16.6" height="25.25" fill="#92d2cc"/>
<rect x="907.26" y="1075.00" width="16.6" height="20.75" fill="#f7a9a7"/>
<rect x="924.92" y="1070.00" width="16.6" height="25.75" fill="#f7a9a7"/>
<rect x="942.59" y="1053.25" width="16.6" height="42.50" fill="#92d2cc"/>
<rect x="960.25" y="1073.75" width="16.6" height="22.00" fill="#92d2cc"/>
<rect x="977.91" y="1054.00" width="16.6" height="41.75" fill="#92d2cc"/>
<rect x="995.57" y="1062.25" width="16.6" height="33.50" fill="#f7a9a7"/>
<rect x="1013.23" y="1042.50" width="16.6" height="53.25" fill="#f7a9a7"/>
<rect x="1030.90" y="1059.25" width="16.6" height="36.50" fill="#f7a9a7"/>
<rect x="1048.56" y="1051.75" width="16.6" height="44.00" fill="#92d2cc"/>
<rect x="1066.22" y="1055.50" width="16.6" height="40.25" fill="#92d2cc"/>
<rect x="1083.88" y="836.00" width="16.6" height="259.75" fill="#f7a9a7"/>
<rect x="1101.54" y="1043.25" width="16.6" height="52.50" fill="#92d2cc"/>
<rect x="1119.21" y="1068.25" width="16.6" height="27.50" fill="#92d2cc"/>
<rect x="1136.87" y="1082.75" width="16.6" height="13.00" fill="#f7a9a7"/>
<rect x="1154.53" y="1063.75" width="16.6" height="32.00" fill="#f7a9a7"/>
<rect x="1172.19" y="1083.50" width="16.6" height="12.25" fill="#f7a9a7"/>
<rect x="1189.85" y="1064.50" width="16.6" height="31.25" fill="#92d2cc"/>
<rect x="1207.52" y="1066.25" width="16.6" height="29.50" fill="#92d2cc"/>
<rect x="1225.18" y="1071.50" width="16.6" height="24.25" fill="#92d2cc"/>
<rect x="1242.84" y="1041.00" width="16.6" height="54.75" fill="#92d2cc"/>
<rect x="1260.50" y="1080.50" width="16.6" height="15.25" fill="#f7a9a7"/>
<rect x="1278.16" y="1054.50" width="16.6" height="41.25" fill="#f7a9a7"/>
<rect x="1295.83" y="1075.00" width="16.6" height="20.75" fill="#92d2cc"/>
<rect x="1313.49" y="948.25" width="16.6" height="147.50" fill="#f7a9a7"/>
<rect x="1331.15" y="1012.25" width="16.6" height="83.50" fill="#92d2cc"/>
<rect x="1348.81" y="1045.50" width="16.6" height="50.25" fill="#92d2cc"/>
<rect x="1366.47" y="1061.50" width="16.6" height="34.25" fill="#92d2cc"/>
<rect x="1384.14" y="1072.25" width="16.6" height="23.50" fill="#f7a9a7"/>
<rect x="1401.80" y="1073.75" width="16.6" height="22.00" fill="#92d2cc"/>
<rect x="1419.46" y="1046.25" width="16.6" height="49.50" fill="#92d2cc"/>
<rect x="1437.12" y="1079.00" width="16.6" height="16.75" fill="#f7a9a7"/>
<rect x="1454.78" y="993.25" width="16.6" height="102.50" fill="#92d2cc"/>
<rect x="1472.45" y="997.75" width="16.6" height="98.00" fill="#92d2cc"/>
<rect x="1490.11" y="1071.50" width="16.6" height="24.25" fill="#92d2cc"/>
<rect x="1507.77" y="1070.75" width="16.6" height="25.00" fill="#92d2cc"/>
<rect x="1525.43" y="1058.50" width="16.6" height="37.25" fill="#f7a9a7"/>
<rect x="1543.09" y="1026.50" width="16.6" height="69.25" fill="#f7a9a7"/>
<rect x="1560.76" y="1070.75" width="16.6" height="25.00" fill="#f7a9a7"/>
<rect x="1578.42" y="1039.50" width="16.6" height="56.25" fill="#f7a9a7"/>
<rect x="1596.08" y="1034.25" width="16.6" height="61.50" fill="#f7a9a7"/>
<rect x="1613.74" y="1062.25" width="16.6" height="33.50" fill="#f7a9a7"/>
<rect x="1631.40" y="1044.75" width="16.6" height="51.00" fill="#f7a9a7"/>
<rect x="1649.07" y="1051.00" width="16.6" height="44.75" fill="#92d2cc"/>
<rect x="1666.73" y="1048.50" width="16.6" height="47.25" fill="#92d2cc"/>
<rect x="1684.39" y="1039.50" width="16.6" height="56.25" fill="#f7a9a7"/>
<rect x="1702.05" y="1061.50" width="16.6" height="34.25" fill="#92d2cc"/>
<rect x="1719.71" y="1074.50" width="16.6" height="21.25" fill="#f7a9a7"/>
<rect x="1737.38" y="1076.00" width="16.6" height="19.75" fill="#f7a9a7"/>
<rect x="1755.04" y="1083.50" width="16.6" height="12.25" fill="#f7a9a7"/>
<rect x="1772.70" y="1074.50" width="16.6" height="21.25" fill="#f7a9a7"/>
<rect x="1790.36" y="1077.50" width="16.6" height="18.25" fill="#f7a9a7"/>
<rect x="1808.02" y="1031.25" width="16.6" height="64.50" fill="#f7a9a7"/>
<rect x="1825.69" y="1036.50" width="16.6" height="59.25" fill="#92d2cc"/>
<rect x="1843.35" y="1076.75" width="16.6" height="19.00" fill="#f7a9a7"/>
<rect x="1861.01" y="1067.00" width="16.6" height="28.75" fill="#92d2cc"/>
<rect x="1878.67" y="1079.75" width="16.6" height="16.00" fill="#f7a9a7"/>
<rect x="1896.33" y="1075.25" width="16.6" height="20.50" fill="#92d2cc"/>
<rect x="1914.00" y="1036.50" width="16.6" height="59.25" fill="#92d2cc"/>
<rect x="1931.66" y="1073.75" width="16.6" height="22.00" fill="#f7a9a7"/>
<rect x="1949.32" y="1081.25" width="16.6" height="14.50" fill="#f7a9a7"/>
<rect x="1966.98" y="1079.00" width="16.6" height="16.75" fill="#92d2cc"/>
<rect x="1984.64" y="1036.50" width="16.6" height="59.25" fill="#92d2cc"/>
<rect x="2002.31" y="1064.00" width="16.6" height="31.75" fill="#92d2cc"/>
<rect x="2019.97" y="1044.75" width="16.6" height="51.00" fill="#f7a9a7"/>
<rect x="2037.63" y="1076.75" width="16.6" height="19.00" fill="#f7a9a7"/>
<rect x="2055.29" y="1079.00" width="16.6" height="16.75" fill="#f7a9a7"/>
<rect x="2072.95" y="1070.00" width="16.6" height="25.75" fill="#f7a9a7"/>
<rect x="2090.62" y="1064.00" width="16.6" height="31.75" fill="#92d2cc"/>
<rect x="2108.28" y="1069.25" width="16.6" height="26.50" fill="#f7a9a7"/>
<rect x="2125.94" y="1055.50" width="16.6" height="40.25" fill="#f7a9a7"/>
<rect x="2143.60" y="1006.25" width="16.6" height="89.50" fill="#f7a9a7"/>
<rect x="2161.26" y="1032.75" width="16.6" height="63.00" fill="#92d2cc"/>
<rect x="2178.93" y="1038.75" width="16.6" height="57.00" fill="#f7a9a7"/>
<rect x="2196.59" y="1035.75" width="16.6" height="60.00" fill="#92d2cc"/>
<rect x="2214.25" y="982.00" width="16.6" height="113.75" fill="#f7a9a7"/>
<rect x="2231.91" y="1011.50" width="16.6" height="84.25" fill="#f7a9a7"/>
<path d="M14.80 266.00V293.25" stroke="#26a69a" stroke-width="1.2"/>
<path d="M14.80 298.25V320.00" stroke="#26a69a" stroke-width="1.2"/>
<path d="M32.46 260.00V273.25" stroke="#26a69a" stroke-width="1.2"/>
<path d="M67.79 217.50V249.50" stroke="#26a69a" stroke-width="1.2"/>
<path d="M67.79 261.25V295.50" stroke="#26a69a" stroke-width="1.2"/>
<path d="M85.45 203.75V244.25" stroke="#26a69a" stroke-width="1.2"/>
<path d="M103.11 218.75V254.25" stroke="#ef5350" stroke-width="1.2"/>
<path d="M120.77 226.75V244.25" stroke="#26a69a" stroke-width="1.2"/>
<path d="M191.42 253.75V273.25" stroke="#26a69a" stroke-width="1.2"/>
<path d="M244.41 377.00V409.00" stroke="#ef5350" stroke-width="1.2"/>
<path d="M244.41 419.25V450.00" stroke="#ef5350" stroke-width="1.2"/>
<path d="M332.72 542.50V563.75" stroke="#26a69a" stroke-width="1.2"/>
<path d="M350.38 522.50V528.00" stroke="#26a69a" stroke-width="1.2"/>
<path d="M350.38 542.50V556.75" stroke="#26a69a" stroke-width="1.2"/>
<path d="M368.04 462.50V500.50" stroke="#26a69a" stroke-width="1.2"/>
<path d="M368.04 528.00V537.00" stroke="#26a69a" stroke-width="1.2"/>
<path d="M421.03 490.00V498.25" stroke="#26a69a" stroke-width="1.2"/>
<path d="M438.69 475.50V488.25" stroke="#26a69a" stroke-width="1.2"/>
<path d="M438.69 495.50V508.00" stroke="#26a69a" stroke-width="1.2"/>
<path d="M527.00 596.25V603.25" stroke="#26a69a" stroke-width="1.2"/>
<path d="M527.00 629.25V632.50" stroke="#26a69a" stroke-width="1.2"/>
<path d="M579.98 606.75V668.75" stroke="#26a69a" stroke-width="1.2"/>
<path d="M597.65 579.25V601.25" stroke="#26a69a" stroke-width="1.2"/>
<path d="M597.65 619.25V655.00" stroke="#26a69a" stroke-width="1.2"/>
<path d="M632.97 522.50V552.00" stroke="#26a69a" stroke-width="1.2"/>
<path d="M703.62 583.75V612.50" stroke="#ef5350" stroke-width="1.2"/>
<path d="M791.93 645.00V653.00" stroke="#26a69a" stroke-width="1.2"/>
<path d="M791.93 691.75V735.50" stroke="#26a69a" stroke-width="1.2"/>
<path d="M809.59 622.50V626.25" stroke="#26a69a" stroke-width="1.2"/>
<path d="M809.59 652.50V663.75" stroke="#26a69a" stroke-width="1.2"/>
<path d="M844.91 622.50V630.00" stroke="#26a69a" stroke-width="1.2"/>
<path d="M862.58 606.25V611.25" stroke="#26a69a" stroke-width="1.2"/>
<path d="M862.58 616.25V627.50" stroke="#26a69a" stroke-width="1.2"/>
<path d="M880.24 596.25V627.50" stroke="#26a69a" stroke-width="1.2"/>
<path d="M897.90 583.75V593.25" stroke="#26a69a" stroke-width="1.2"/>
<path d="M897.90 596.75V615.00" stroke="#26a69a" stroke-width="1.2"/>
<path d="M950.89 618.75V660.00" stroke="#26a69a" stroke-width="1.2"/>
<path d="M968.55 633.25V649.25" stroke="#26a69a" stroke-width="1.2"/>
<path d="M968.55 662.00V673.00" stroke="#26a69a" stroke-width="1.2"/>
<path d="M986.21 587.00V603.25" stroke="#26a69a" stroke-width="1.2"/>
<path d="M986.21 618.75V637.50" stroke="#26a69a" stroke-width="1.2"/>
<path d="M1056.86 648.75V670.00" stroke="#26a69a" stroke-width="1.2"/>
<path d="M1056.86 690.00V701.25" stroke="#26a69a" stroke-width="1.2"/>
<path d="M1074.52 598.75V621.25" stroke="#26a69a" stroke-width="1.2"/>
<path d="M1074.52 633.00V655.00" stroke="#26a69a" stroke-width="1.2"/>
<path d="M1092.18 613.25V652.00" stroke="#ef5350" stroke-width="1.2"/>
<path d="M1109.84 627.50V645.00" stroke="#ef5350" stroke-width="1.2"/>
<path d="M1109.84 680.00V687.00" stroke="#ef5350" stroke-width="1.2"/>
<path d="M1127.51 648.75V662.00" stroke="#26a69a" stroke-width="1.2"/>
<path d="M1162.83 600.75V653.75" stroke="#26a69a" stroke-width="1.2"/>
<path d="M1180.49 617.00V635.00" stroke="#26a69a" stroke-width="1.2"/>
<path d="M1198.15 606.75V625.00" stroke="#26a69a" stroke-width="1.2"/>
<path d="M1215.82 603.25V606.25" stroke="#ef5350" stroke-width="1.2"/>
<path d="M1215.82 616.25V640.00" stroke="#ef5350" stroke-width="1.2"/>
<path d="M1233.48 593.75V597.00" stroke="#26a69a" stroke-width="1.2"/>
<path d="M1233.48 611.25V620.00" stroke="#26a69a" stroke-width="1.2"/>
<path d="M1251.14 573.75V579.25" stroke="#26a69a" stroke-width="1.2"/>
<path d="M1251.14 593.75V620.00" stroke="#26a69a" stroke-width="1.2"/>
<path d="M1304.13 581.25V603.25" stroke="#26a69a" stroke-width="1.2"/>
<path d="M1304.13 610.75V640.00" stroke="#26a69a" stroke-width="1.2"/>
<path d="M1339.45 662.50V676.25" stroke="#ef5350" stroke-width="1.2"/>
<path d="M1339.45 691.75V711.25" stroke="#ef5350" stroke-width="1.2"/>
<path d="M1357.11 680.00V691.75" stroke="#ef5350" stroke-width="1.2"/>
<path d="M1357.11 693.75V736.75" stroke="#ef5350" stroke-width="1.2"/>
<path d="M1374.77 673.75V694.50" stroke="#ef5350" stroke-width="1.2"/>
<path d="M1410.10 711.75V717.50" stroke="#26a69a" stroke-width="1.2"/>
<path d="M1410.10 723.75V740.50" stroke="#26a69a" stroke-width="1.2"/>
<path d="M1427.76 673.75V706.00" stroke="#26a69a" stroke-width="1.2"/>
<path d="M1463.08 691.00V691.75" stroke="#26a69a" stroke-width="1.2"/>
<path d="M1463.08 736.25V825.00" stroke="#26a69a" stroke-width="1.2"/>
<path d="M1480.75 673.75V699.25" stroke="#26a69a" stroke-width="1.2"/>
<path d="M1498.41 622.50V647.00" stroke="#ef5350" stroke-width="1.2"/>
<path d="M1498.41 650.75V672.50" stroke="#ef5350" stroke-width="1.2"/>
<path d="M1516.07 630.75V655.00" stroke="#26a69a" stroke-width="1.2"/>
<path d="M1657.37 763.75V798.25" stroke="#26a69a" stroke-width="1.2"/>
<path d="M1675.03 753.75V773.75" stroke="#26a69a" stroke-width="1.2"/>
<path d="M1675.03 776.75V794.50" stroke="#26a69a" stroke-width="1.2"/>
<path d="M1710.35 743.75V751.25" stroke="#26a69a" stroke-width="1.2"/>
<path d="M1710.35 777.50V780.75" stroke="#26a69a" stroke-width="1.2"/>
<path d="M1833.99 792.50V805.00" stroke="#26a69a" stroke-width="1.2"/>
<path d="M1833.99 832.00V836.25" stroke="#26a69a" stroke-width="1.2"/>
<path d="M1869.31 777.00V783.75" stroke="#26a69a" stroke-width="1.2"/>
<path d="M1869.31 814.50V821.75" stroke="#26a69a" stroke-width="1.2"/>
<path d="M1904.63 780.00V803.25" stroke="#ef5350" stroke-width="1.2"/>
<path d="M1904.63 809.25V833.75" stroke="#ef5350" stroke-width="1.2"/>
<path d="M1922.30 785.00V792.50" stroke="#26a69a" stroke-width="1.2"/>
<path d="M1922.30 817.00V831.75" stroke="#26a69a" stroke-width="1.2"/>
<path d="M1975.28 902.00V908.75" stroke="#26a69a" stroke-width="1.2"/>
<path d="M1992.94 816.75V859.50" stroke="#ef5350" stroke-width="1.2"/>
<path d="M2010.61 832.00V852.50" stroke="#ef5350" stroke-width="1.2"/>
<path d="M2010.61 855.75V869.25" stroke="#ef5350" stroke-width="1.2"/>
<path d="M2045.93 878.25V895.00" stroke="#26a69a" stroke-width="1.2"/>
<path d="M2098.92 911.75V921.25" stroke="#26a69a" stroke-width="1.2"/>
<path d="M2169.56 838.75V875.00" stroke="#26a69a" stroke-width="1.2"/>
<path d="M2169.56 903.25V906.25" stroke="#26a69a" stroke-width="1.2"/>
<path d="M2240.21 901.75V985.50" stroke="#ef5350" stroke-width="1.2"/>
<rect x="9.05" y="293.25" width="11.50" height="5.00" fill="none" stroke="#fb4d4d" stroke-width="1.4"/>
<rect x="26.71" y="273.25" width="11.50" height="37.25" fill="none" stroke="#2a2a2a" stroke-width="1.4"/>
<rect x="62.04" y="249.50" width="11.50" height="11.75" fill="none" stroke="#4dff4d" stroke-width="1.4"/>
<rect x="79.70" y="244.25" width="11.50" height="5.00" fill="none" stroke="#4dff4d" stroke-width="1.4"/>
<rect x="97.36" y="254.25" width="11.50" height="4.75" fill="none" stroke="#4dff4d" stroke-width="1.4"/>
<rect x="115.02" y="244.25" width="11.50" height="19.00" fill="none" stroke="#4dff4d" stroke-width="1.4"/>
<rect x="185.67" y="273.25" width="11.50" height="37.25" fill="none" stroke="#fb4d4d" stroke-width="1.4"/>
<rect x="238.66" y="409.00" width="11.50" height="10.25" fill="none" stroke="#fb4d4d" stroke-width="1.4"/>
<rect x="326.97" y="530.50" width="11.50" height="12.00" fill="none" stroke="#2a2a2a" stroke-width="1.4"/>
<rect x="344.63" y="528.00" width="11.50" height="14.50" fill="none" stroke="#2a2a2a" stroke-width="1.4"/>
<rect x="362.29" y="500.50" width="11.50" height="27.50" fill="none" stroke="#4dff4d" stroke-width="1.4"/>
<rect x="415.28" y="498.25" width="11.50" height="20.00" fill="none" stroke="#4dff4d" stroke-width="1.4"/>
<rect x="432.94" y="488.25" width="11.50" height="7.25" fill="none" stroke="#4dff4d" stroke-width="1.4"/>
<rect x="521.25" y="603.25" width="11.50" height="26.00" fill="none" stroke="#fb4d4d" stroke-width="1.4"/>
<rect x="591.90" y="601.25" width="11.50" height="18.00" fill="none" stroke="#4dff4d" stroke-width="1.4"/>
<rect x="627.22" y="552.00" width="11.50" height="41.75" fill="none" stroke="#4dff4d" stroke-width="1.4"/>
<rect x="786.18" y="653.00" width="11.50" height="38.75" fill="none" stroke="#fb4d4d" stroke-width="1.4"/>
<rect x="803.84" y="626.25" width="11.50" height="26.25" fill="none" stroke="#2a2a2a" stroke-width="1.4"/>
<rect x="839.16" y="611.25" width="11.50" height="11.25" fill="none" stroke="#4dff4d" stroke-width="1.4"/>
<rect x="856.83" y="611.25" width="11.50" height="5.00" fill="none" stroke="#4dff4d" stroke-width="1.4"/>
<rect x="892.15" y="593.25" width="11.50" height="3.50" fill="none" stroke="#4dff4d" stroke-width="1.4"/>
<rect x="945.14" y="660.00" width="11.50" height="2.00" fill="none" stroke="#fb4d4d" stroke-width="1.4"/>
<rect x="962.80" y="649.25" width="11.50" height="12.75" fill="none" stroke="#fb4d4d" stroke-width="1.4"/>
<rect x="980.46" y="603.25" width="11.50" height="15.50" fill="none" stroke="#4dff4d" stroke-width="1.4"/>
<rect x="1051.11" y="670.00" width="11.50" height="20.00" fill="none" stroke="#4dff4d" stroke-width="1.4"/>
<rect x="1068.77" y="621.25" width="11.50" height="11.75" fill="none" stroke="#fb4d4d" stroke-width="1.4"/>
<rect x="1104.09" y="645.00" width="11.50" height="35.00" fill="none" stroke="#4dff4d" stroke-width="1.4"/>
<rect x="1121.76" y="638.25" width="11.50" height="10.50" fill="none" stroke="#4dff4d" stroke-width="1.4"/>
<rect x="1192.40" y="601.25" width="11.50" height="5.50" fill="none" stroke="#4dff4d" stroke-width="1.4"/>
<rect x="1210.07" y="606.25" width="11.50" height="10.00" fill="none" stroke="#4dff4d" stroke-width="1.4"/>
<rect x="1227.73" y="597.00" width="11.50" height="14.25" fill="none" stroke="#4dff4d" stroke-width="1.4"/>
<rect x="1245.39" y="579.25" width="11.50" height="14.50" fill="none" stroke="#2a2a2a" stroke-width="1.4"/>
<rect x="1298.38" y="603.25" width="11.50" height="7.50" fill="none" stroke="#2a2a2a" stroke-width="1.4"/>
<rect x="1333.70" y="676.25" width="11.50" height="15.50" fill="none" stroke="#fb4d4d" stroke-width="1.4"/>
<rect x="1351.36" y="691.75" width="11.50" height="2.00" fill="none" stroke="#fb4d4d" stroke-width="1.4"/>
<rect x="1369.02" y="694.50" width="11.50" height="10.00" fill="none" stroke="#fb4d4d" stroke-width="1.4"/>
<rect x="1404.35" y="717.50" width="11.50" height="6.25" fill="none" stroke="#2a2a2a" stroke-width="1.4"/>
<rect x="1422.01" y="706.00" width="11.50" height="20.25" fill="none" stroke="#2a2a2a" stroke-width="1.4"/>
<rect x="1457.33" y="691.75" width="11.50" height="44.50" fill="none" stroke="#fb4d4d" stroke-width="1.4"/>
<rect x="1475.00" y="643.00" width="11.50" height="30.75" fill="none" stroke="#4dff4d" stroke-width="1.4"/>
<rect x="1492.66" y="647.00" width="11.50" height="3.75" fill="none" stroke="#4dff4d" stroke-width="1.4"/>
<rect x="1669.28" y="773.75" width="11.50" height="3.00" fill="none" stroke="#2a2a2a" stroke-width="1.4"/>
<rect x="1704.60" y="751.25" width="11.50" height="26.25" fill="none" stroke="#4dff4d" stroke-width="1.4"/>
<rect x="1828.24" y="805.00" width="11.50" height="27.00" fill="none" stroke="#fb4d4d" stroke-width="1.4"/>
<rect x="1863.56" y="783.75" width="11.50" height="30.75" fill="none" stroke="#2a2a2a" stroke-width="1.4"/>
<rect x="1898.88" y="803.25" width="11.50" height="6.00" fill="none" stroke="#4dff4d" stroke-width="1.4"/>
<rect x="1916.55" y="792.50" width="11.50" height="24.50" fill="none" stroke="#4dff4d" stroke-width="1.4"/>
<rect x="1969.53" y="830.50" width="11.50" height="71.50" fill="none" stroke="#fb4d4d" stroke-width="1.4"/>
<rect x="2004.86" y="852.50" width="11.50" height="3.25" fill="none" stroke="#fb4d4d" stroke-width="1.4"/>
<rect x="2093.17" y="870.50" width="11.50" height="41.25" fill="none" stroke="#2a2a2a" stroke-width="1.4"/>
<rect x="2163.81" y="875.00" width="11.50" height="28.25" fill="none" stroke="#4dff4d" stroke-width="1.4"/>
<rect x="2199.14" y="859.25" width="11.50" height="41.50" fill="none" stroke="#2a2a2a" stroke-width="1.4"/>
<polyline points="5.00,546.25 15.00,554.25 32.00,601.25 49.50,613.25 66.25,603.25 84.50,605.75 102.75,638.00 120.25,638.00 137.75,601.25 155.50,633.00 172.50,552.00 190.00,581.25 208.75,578.75 226.25,579.25 261.00,593.75 279.25,621.25 296.75,637.50 314.25,677.50 331.75,653.75 349.50,625.00 385.00,610.75 402.50,610.75 420.00,606.25 437.50,593.75 455.00,617.50 472.50,660.00 490.75,660.00 508.25,651.25 525.75,603.75 543.75,613.75 561.50,673.75 578.75,687.50 596.50,672.50 614.50,620.00 632.50,632.50 650.00,643.75 667.75,638.25 685.75,659.50 703.25,630.00 720.75,616.25 738.25,597.50 773.75,592.50 791.25,578.75 809.50,583.75 827.00,620.00 844.25,603.75 861.75,661.25 897.50,691.25 915.00,694.00 932.50,722.50 950.75,716.50 968.00,707.50 985.75,711.00 1003.00,692.00 1021.25,647.00 1038.75,645.75 1056.25,642.50 1073.75,655.00 1091.75,669.25 1109.25,673.75 1145.00,755.00 1162.50,761.25 1180.00,786.25 1197.50,785.00 1215.00,773.75 1232.50,785.00 1251.25,750.50 1268.75,750.50 1286.75,756.50 1304.25,751.25 1321.75,778.75 1339.25,797.50 1356.25,823.00 1374.50,804.50 1392.00,813.25 1409.50,783.75 1427.50,798.25 1444.25,803.25 1462.50,792.00 1480.00,827.50 1498.00,847.50 1515.75,830.00 1533.25,840.00 1550.00,851.75 1568.75,892.00 1586.25,889.25 1603.75,901.25 1621.25,913.00 1638.75,870.00 1657.50,885.00 1674.25,921.25 1692.25,892.50 1709.75,875.00 1726.75,925.00 1744.25,858.75 1762.75,926.25 1780.25,936.25" fill="none" stroke="#b9b9b9" stroke-width="1.5" stroke-linejoin="round" stroke-linecap="butt"/>
<polyline points="5.00,200.00 32.50,232.50 50.00,252.50 85.00,286.25 120.00,278.75 137.50,267.50 155.00,265.00 207.50,267.50 225.00,276.25 243.75,280.00 261.00,295.00 297.50,337.50 315.00,387.50 332.50,430.00 350.00,470.00 367.00,500.00 385.00,522.00 402.50,524.50 420.00,523.00 437.50,515.00 472.50,502.50 490.00,495.00 507.50,502.50 525.00,517.50 542.50,540.00 560.00,562.50 577.50,580.00 595.00,592.50 600.00,597.50 632.50,620.00 667.75,622.50 703.25,600.00 738.25,580.00 755.50,575.00 791.25,595.00 827.00,625.00 844.25,637.50 880.00,642.50 897.50,637.50 932.50,612.50 950.75,607.50 967.50,607.50 1003.00,627.50 1021.25,635.00 1056.25,637.50 1091.75,647.50 1126.75,652.50 1144.25,655.00 1179.50,640.00 1197.00,638.75 1233.75,646.25 1268.75,622.50 1304.25,600.00 1321.75,593.75 1339.25,597.00 1357.00,597.00 1374.50,610.00 1409.50,650.00 1445.00,687.50 1480.00,707.50 1515.75,710.00 1533.25,692.50 1568.75,667.50 1586.25,657.50 1603.75,651.25 1621.25,657.50 1638.75,672.50 1656.25,695.00 1673.75,715.00 1692.25,746.25 1709.75,763.75 1727.25,775.00 1744.75,778.00 1762.75,775.00 1780.25,767.50 1797.75,761.25 1815.25,760.00 1832.50,757.00 1869.25,778.75 1904.75,802.50 1940.00,803.75 1975.50,798.00 1993.00,801.25 2010.50,813.75 2046.00,827.50 2081.00,851.25 2099.00,865.00 2134.00,886.25 2169.50,891.25 2187.00,895.00 2204.50,897.50 2222.00,890.75 2240.00,900.00" fill="none" stroke="#a2f6a2" stroke-width="1.6" stroke-linejoin="round" stroke-linecap="butt"/>
<polyline points="5.00,170.00 35.00,180.00 120.00,247.50 155.00,266.25 172.50,275.00 207.50,266.25 225.00,265.75 260.00,268.75 278.75,268.75 297.50,278.75 332.50,315.00 350.00,350.00 385.00,400.00 402.50,427.50 420.00,455.00 437.50,480.00 455.00,502.50 472.50,515.00 507.50,512.50 525.00,507.50 560.00,510.00 595.00,520.00 615.00,545.00 632.50,570.00 667.75,598.75 703.25,616.25 738.25,605.00 773.75,600.00 809.50,588.75 844.25,591.25 880.00,612.50 915.00,627.50 950.75,630.00 985.75,626.25 1021.25,621.25 1056.25,623.75 1091.75,625.00 1126.75,640.00 1162.50,645.00 1197.00,642.50 1233.75,655.00 1268.75,640.00 1286.75,630.00 1321.75,623.75 1357.00,608.75 1392.00,601.25 1427.50,616.25 1462.50,640.00 1498.00,672.50 1533.25,696.25 1551.25,700.75 1586.25,693.75 1621.25,675.00 1656.25,667.00 1673.75,667.00 1691.75,675.00 1709.00,685.00 1726.75,702.00 1744.75,728.00 1762.50,745.00 1780.25,757.50 1816.25,768.00 1887.25,766.25 1922.25,777.50 1958.00,787.50 1993.00,798.75 2028.25,805.00 2081.00,815.00 2116.50,837.50 2151.50,857.50 2169.50,871.25 2187.00,875.00 2204.50,881.25 2222.00,891.25 2240.00,896.25" fill="none" stroke="#f8a9a9" stroke-width="1.6" stroke-linejoin="round" stroke-linecap="butt"/>
<polyline points="5.00,172.00 45.00,172.50 85.00,180.00 142.50,207.50 192.50,230.00 260.00,251.25 315.00,275.00 332.50,273.75 385.00,293.75 420.00,327.50 455.00,375.00 490.00,415.00 542.50,462.50 577.50,495.00 600.00,505.00 615.50,515.00 650.00,530.00 685.75,542.50 720.75,560.00 755.50,577.50 791.25,587.50 827.00,597.50 861.75,600.00 897.50,602.50 932.50,610.00 967.50,607.50 1003.00,612.50 1038.75,620.00 1073.75,626.25 1109.25,630.00 1144.25,623.75 1179.50,631.25 1200.00,635.00 1233.75,638.75 1286.75,647.00 1321.75,642.00 1374.50,636.25 1409.50,621.25 1445.00,615.75 1480.00,620.00 1515.75,627.50 1551.25,645.00 1586.25,660.00 1621.25,672.50 1656.25,677.50 1691.75,682.50 1726.75,683.75 1762.50,691.25 1797.50,702.50 1816.25,707.50 1887.25,740.00 1958.00,771.25 1993.00,780.75 2028.25,781.75 2063.50,784.50 2099.00,798.00 2151.50,816.25 2187.00,830.00 2222.00,845.00 2240.00,850.75" fill="none" stroke="#b0b0fb" stroke-width="1.6" stroke-linejoin="round" stroke-linecap="butt"/>
<polyline points="5.00,258.25 32.00,258.75 49.50,265.00 67.75,265.00 85.25,267.50 102.75,273.25 120.25,262.50 138.25,262.50 155.50,261.75 173.25,257.50 190.50,257.50 208.75,276.25 226.25,311.25 243.75,333.75 261.00,371.25 279.25,390.75 296.75,403.75 314.25,403.75 331.75,412.50 349.50,420.00 367.00,448.75 385.00,470.00 402.50,473.75 420.00,510.75 437.50,510.75 455.00,499.50 472.50,499.50 490.75,517.50 508.25,540.00 561.50,540.00 578.75,552.50 596.50,552.50 610.00,582.50 615.50,598.75 632.50,595.50 720.75,595.50 738.25,587.50 755.50,585.75 773.75,606.25 791.25,644.25 861.75,645.75 880.00,660.50 897.50,659.50 915.00,653.75 932.50,653.25 950.75,622.00 1003.00,622.50 1038.75,630.00 1073.75,641.75 1144.25,641.75 1162.50,649.50 1197.00,650.00 1216.25,643.00 1233.75,640.75 1251.25,628.25 1268.75,615.00 1286.75,606.25 1304.25,600.00 1321.75,635.50" fill="none" stroke="#0000ff" stroke-width="3.3" stroke-linejoin="round" stroke-linecap="butt"/>
<polyline points="1427.50,644.50 1445.00,655.00 1462.50,702.50 1480.00,734.50 1498.00,724.25 1604.00,724.25 1621.80,701.25 1638.75,708.00 1656.25,710.75 1674.25,711.25 1692.25,713.75 1709.75,720.75 1727.25,720.75 1744.75,742.50 1762.75,760.00 1780.25,760.00 1797.75,761.75 1816.25,783.75 1887.25,783.75 1904.75,789.25 1922.25,791.75 1940.00,807.50 1958.00,810.75 1975.50,841.25 2028.25,841.25 2046.00,844.25 2063.50,844.25 2081.00,852.50 2099.00,868.00 2116.50,872.00 2134.00,873.75 2151.50,882.00 2169.50,884.50 2204.50,884.50 2222.00,877.50 2240.00,885.75" fill="none" stroke="#0000ff" stroke-width="3.3" stroke-linejoin="round" stroke-linecap="butt"/>
<polyline points="5.00,236.25 120.00,236.25 135.00,253.75 208.75,253.75 225.00,286.25 243.75,301.75 261.00,333.00 296.75,353.00 314.25,355.00 349.50,369.25 367.00,370.00 385.00,372.50 420.00,384.50 472.50,384.50 490.00,401.25 507.50,423.75 525.00,423.75 542.50,430.00 560.00,435.00 577.50,458.75 596.00,464.50 632.50,465.00 650.00,472.50 667.75,500.00 685.75,523.00 703.25,527.50 720.75,552.00 755.00,552.00 773.75,563.75 791.25,585.50 897.50,585.50 915.00,628.75 1073.75,628.75 1091.75,645.00 1144.25,645.30 1162.50,648.50 1179.50,653.25 1232.50,653.25 1251.25,636.25 1268.75,632.50 1286.75,624.50 1304.25,624.50 1321.75,635.50" fill="none" stroke="#ff0000" stroke-width="3.3" stroke-linejoin="round" stroke-linecap="butt"/>
<polyline points="1427.50,643.00 1445.00,643.00 1462.50,685.50 1726.75,685.50 1744.25,697.00 1762.50,697.00 1779.50,724.25 1797.75,725.00 1816.25,735.00 1958.00,735.00 1975.50,766.25 1993.00,768.75 2010.50,775.75 2028.25,775.75 2046.00,798.25 2063.50,815.00 2081.00,823.75 2116.50,823.75 2134.00,825.50 2187.00,825.00 2204.50,831.25 2222.00,855.00 2240.00,876.25" fill="none" stroke="#ff0000" stroke-width="3.3" stroke-linejoin="round" stroke-linecap="butt"/>
<polyline points="5.00,247.50 32.00,247.50 49.50,251.25 85.25,251.75 102.75,253.75 120.25,250.00 138.25,257.50 155.50,257.50 173.25,254.50 190.50,254.50 208.75,263.75 226.25,298.75 243.75,317.50 261.00,352.00 279.25,366.25 296.75,378.75 314.25,379.25 331.75,387.50 349.50,395.00 367.00,408.75 385.00,421.25 402.50,426.25 420.00,447.50 437.50,447.50 455.00,441.75 472.50,441.75 490.00,458.75 507.50,481.75 542.50,482.50 560.00,487.50 577.50,505.00 596.00,507.50 600.00,510.00 615.50,531.25 632.50,530.00 650.00,534.50 685.75,558.75 703.25,560.50 720.75,572.00 738.25,570.00 755.50,569.25 773.75,585.00 791.25,615.00 861.75,615.75 880.00,622.50 897.50,622.50 915.00,640.75 932.50,641.25 950.75,626.25 1003.00,626.25 1038.75,630.75 1073.75,637.50 1091.75,642.50 1144.25,642.50 1162.50,651.25 1197.00,651.25 1216.25,648.25 1233.75,647.00 1251.25,632.50 1268.75,623.75 1286.75,616.25 1304.25,613.75 1321.75,635.00 1339.25,635.00 1357.00,641.25 1427.50,642.50 1445.00,648.75 1462.50,687.50 1480.00,709.50 1498.00,705.00 1603.75,705.00 1621.25,693.25 1638.75,695.75 1656.25,697.50 1691.75,698.75 1709.25,703.25 1727.25,703.75 1744.75,720.00 1762.75,727.50 1780.25,743.00 1797.75,743.75 1816.25,758.75 1887.25,759.50 1922.25,763.25 1940.00,770.50 1958.00,772.50 1975.50,803.75 2010.50,808.00 2028.25,808.75 2046.00,821.75 2063.50,830.00 2081.00,837.50 2099.00,845.50 2116.50,847.50 2134.00,848.75 2151.50,853.25 2169.50,855.00 2187.00,854.50 2204.50,856.75 2222.00,865.00 2240.00,880.75" fill="none" stroke="#00ff00" stroke-width="1.9" stroke-linejoin="round" stroke-linecap="butt"/>
<polyline points="1321.75,635.20 1339.25,635.20 1357.00,642.00 1392.00,642.00 1409.50,643.00 1428.00,643.30" fill="none" stroke="#ff3030" stroke-width="3.4" stroke-linejoin="round" stroke-linecap="butt"/>
<polyline points="1321.75,635.20 1339.25,635.20 1357.00,642.00 1392.00,642.00 1409.50,643.00 1428.00,643.30" fill="none" stroke="#4c9c00" stroke-width="2.3" stroke-linejoin="round" stroke-linecap="butt"/>
<polyline points="5.00,170.50 32.00,171.50 67.00,180.00 208.00,180.50 225.00,215.00 245.00,230.00 261.00,261.75 300.00,277.50 315.00,277.50 332.50,297.50 350.00,305.00 367.50,306.00 385.00,318.50 402.50,321.50 420.00,330.00 437.50,331.00 455.00,340.00 472.50,341.50 490.00,361.00 507.50,381.00 560.00,381.00 580.00,396.00 597.50,411.00 737.50,410.75 756.25,415.00 773.75,426.25 791.25,448.75 809.50,455.00 827.00,455.00 844.25,457.50 880.00,470.00 985.75,470.00 1003.00,477.50 1021.25,481.25 1038.75,491.75 1056.25,498.25 1091.75,498.25 1109.25,505.75 1126.75,532.50 1144.25,556.25 1162.50,560.00 1179.50,585.50 1356.25,586.25 1374.50,629.25 1409.50,630.75 1445.00,631.25 1462.50,673.00 1533.25,673.00 1551.25,685.50 1797.50,685.50 1816.25,697.00 1958.00,697.50 1975.50,728.00 2063.50,728.00 2081.00,736.75 2116.50,736.75 2134.00,738.25 2187.00,738.25 2204.50,749.50 2222.00,768.00 2240.00,804.50" fill="none" stroke="#ff00ff" stroke-width="2" stroke-linejoin="round" stroke-linecap="butt"/>
<path d="M50.12 261.25V295.50" stroke="#ef5350" stroke-width="1.2"/>
<path d="M138.43 293.00V310.00" stroke="#ef5350" stroke-width="1.2"/>
<path d="M156.10 296.00V302.50" stroke="#ef5350" stroke-width="1.2"/>
<path d="M173.76 268.75V310.00" stroke="#ef5350" stroke-width="1.2"/>
<path d="M209.08 315.00V349.50" stroke="#ef5350" stroke-width="1.2"/>
<path d="M226.74 330.00V418.75" stroke="#ef5350" stroke-width="1.2"/>
<path d="M262.07 383.75V397.00" stroke="#ef5350" stroke-width="1.2"/>
<path d="M279.73 472.50V531.75" stroke="#26a69a" stroke-width="1.2"/>
<path d="M297.39 525.00V547.00" stroke="#ef5350" stroke-width="1.2"/>
<path d="M315.05 534.00V541.75" stroke="#ef5350" stroke-width="1.2"/>
<path d="M385.70 458.00V514.50" stroke="#26a69a" stroke-width="1.2"/>
<path d="M403.36 467.50V507.50" stroke="#ef5350" stroke-width="1.2"/>
<path d="M456.35 436.00V540.00" stroke="#ef5350" stroke-width="1.2"/>
<path d="M474.01 528.00V554.00" stroke="#ef5350" stroke-width="1.2"/>
<path d="M491.67 542.00V602.00" stroke="#ef5350" stroke-width="1.2"/>
<path d="M509.34 603.25V643.75" stroke="#ef5350" stroke-width="1.2"/>
<path d="M544.66 573.75V610.50" stroke="#ef5350" stroke-width="1.2"/>
<path d="M562.32 603.25V642.50" stroke="#ef5350" stroke-width="1.2"/>
<path d="M615.31 579.00V633.00" stroke="#ef5350" stroke-width="1.2"/>
<path d="M650.63 557.00V617.50" stroke="#ef5350" stroke-width="1.2"/>
<path d="M668.29 554.25V586.25" stroke="#26a69a" stroke-width="1.2"/>
<path d="M685.96 564.00V588.25" stroke="#26a69a" stroke-width="1.2"/>
<path d="M721.28 557.50V620.00" stroke="#ef5350" stroke-width="1.2"/>
<path d="M738.94 587.00V650.00" stroke="#ef5350" stroke-width="1.2"/>
<path d="M756.60 604.00V642.00" stroke="#ef5350" stroke-width="1.2"/>
<path d="M774.27 616.25V689.50" stroke="#ef5350" stroke-width="1.2"/>
<path d="M827.25 613.00V637.50" stroke="#26a69a" stroke-width="1.2"/>
<path d="M915.56 571.25V618.00" stroke="#ef5350" stroke-width="1.2"/>
<path d="M933.22 618.00V672.00" stroke="#ef5350" stroke-width="1.2"/>
<path d="M1003.87 582.00V651.25" stroke="#ef5350" stroke-width="1.2"/>
<path d="M1021.53 638.75V681.25" stroke="#ef5350" stroke-width="1.2"/>
<path d="M1039.20 647.00V687.00" stroke="#ef5350" stroke-width="1.2"/>
<path d="M1145.17 636.00V666.25" stroke="#ef5350" stroke-width="1.2"/>
<path d="M1268.80 564.25V593.25" stroke="#ef5350" stroke-width="1.2"/>
<path d="M1286.46 547.50V630.00" stroke="#ef5350" stroke-width="1.2"/>
<path d="M1321.79 569.25V724.25" stroke="#ef5350" stroke-width="1.2"/>
<path d="M1392.44 700.00V726.75" stroke="#ef5350" stroke-width="1.2"/>
<path d="M1445.42 674.00V719.50" stroke="#ef5350" stroke-width="1.2"/>
<path d="M1533.73 623.00V656.00" stroke="#ef5350" stroke-width="1.2"/>
<path d="M1551.39 628.00V685.00" stroke="#ef5350" stroke-width="1.2"/>
<path d="M1569.06 650.00V685.00" stroke="#ef5350" stroke-width="1.2"/>
<path d="M1586.72 643.00V723.75" stroke="#ef5350" stroke-width="1.2"/>
<path d="M1604.38 688.75V774.50" stroke="#ef5350" stroke-width="1.2"/>
<path d="M1622.04 734.25V778.25" stroke="#ef5350" stroke-width="1.2"/>
<path d="M1639.70 744.00V792.00" stroke="#ef5350" stroke-width="1.2"/>
<path d="M1692.69 753.75V785.00" stroke="#ef5350" stroke-width="1.2"/>
<path d="M1728.01 721.00V760.75" stroke="#26a69a" stroke-width="1.2"/>
<path d="M1745.68 721.00V764.50" stroke="#ef5350" stroke-width="1.2"/>
<path d="M1763.34 732.00V766.25" stroke="#26a69a" stroke-width="1.2"/>
<path d="M1781.00 738.00V792.00" stroke="#ef5350" stroke-width="1.2"/>
<path d="M1798.66 768.00V802.50" stroke="#ef5350" stroke-width="1.2"/>
<path d="M1816.32 789.50V846.00" stroke="#ef5350" stroke-width="1.2"/>
<path d="M1851.65 793.00V818.00" stroke="#ef5350" stroke-width="1.2"/>
<path d="M1886.97 774.00V798.00" stroke="#ef5350" stroke-width="1.2"/>
<path d="M1939.96 780.00V828.00" stroke="#ef5350" stroke-width="1.2"/>
<path d="M1957.62 815.00V848.00" stroke="#ef5350" stroke-width="1.2"/>
<path d="M2028.27 858.00V901.25" stroke="#ef5350" stroke-width="1.2"/>
<path d="M2063.59 862.00V901.00" stroke="#ef5350" stroke-width="1.2"/>
<path d="M2081.25 888.25V926.25" stroke="#ef5350" stroke-width="1.2"/>
<path d="M2116.58 862.00V891.25" stroke="#ef5350" stroke-width="1.2"/>
<path d="M2134.24 875.00V930.00" stroke="#ef5350" stroke-width="1.2"/>
<path d="M2151.90 852.50V910.00" stroke="#26a69a" stroke-width="1.2"/>
<path d="M2187.23 863.75V925.00" stroke="#ef5350" stroke-width="1.2"/>
<path d="M2222.55 787.00V968.00" stroke="#ef5350" stroke-width="1.2"/>
<rect x="44.37" y="273.75" width="11.50" height="7.50" fill="#00ff00" stroke="#ef5350" stroke-width="1.3"/>
<rect x="132.68" y="249.25" width="11.50" height="43.75" fill="#000000" stroke="#c8262c" stroke-width="1.1"/>
<rect x="150.35" y="273.75" width="11.50" height="22.50" fill="#ff0000" stroke="#ff0000" stroke-width="1"/>
<rect x="168.01" y="278.75" width="11.50" height="19.75" fill="#ff0000" stroke="#ff0000" stroke-width="1"/>
<rect x="203.33" y="276.75" width="11.50" height="38.50" fill="#ff0000" stroke="#ff0000" stroke-width="1"/>
<rect x="220.99" y="364.50" width="11.50" height="32.50" fill="#ff0000" stroke="#ff0000" stroke-width="1"/>
<rect x="256.32" y="397.00" width="11.50" height="117.50" fill="#ff0000" stroke="#ff0000" stroke-width="1"/>
<rect x="273.98" y="493.00" width="11.50" height="12.00" fill="#ff0000" stroke="#26a69a" stroke-width="1.3"/>
<rect x="291.64" y="493.00" width="11.50" height="32.00" fill="#ff0000" stroke="#ff0000" stroke-width="1"/>
<rect x="309.30" y="508.25" width="11.50" height="26.25" fill="#000000" stroke="#c8262c" stroke-width="1.1"/>
<rect x="379.95" y="458.75" width="11.50" height="29.50" fill="#00ff00" stroke="#26a69a" stroke-width="1.3"/>
<rect x="397.61" y="470.75" width="11.50" height="31.75" fill="#00ff00" stroke="#ef5350" stroke-width="1.3"/>
<rect x="450.60" y="436.25" width="11.50" height="103.75" fill="#000000" stroke="#c8262c" stroke-width="1.1"/>
<rect x="468.26" y="528.00" width="11.50" height="26.25" fill="#000000" stroke="#e0282e" stroke-width="1.3"/>
<rect x="485.92" y="542.50" width="11.50" height="59.25" fill="#ff0000" stroke="#ff0000" stroke-width="1"/>
<rect x="503.59" y="606.75" width="11.50" height="7.00" fill="#ff0000" stroke="#ff0000" stroke-width="1"/>
<rect x="538.91" y="581.25" width="11.50" height="25.50" fill="#ff0000" stroke="#ff0000" stroke-width="1"/>
<rect x="556.57" y="630.75" width="11.50" height="7.75" fill="#000000" stroke="#c8262c" stroke-width="1.1"/>
<path d="M573.48 638.25H586.48" stroke="#222222" stroke-width="1.4"/>
<rect x="609.56" y="582.00" width="11.50" height="51.00" fill="#00ff00" stroke="#ef5350" stroke-width="1.3"/>
<rect x="644.88" y="557.50" width="11.50" height="23.75" fill="#00ff00" stroke="#ef5350" stroke-width="1.3"/>
<rect x="662.54" y="557.50" width="11.50" height="21.75" fill="#00ff00" stroke="#26a69a" stroke-width="1.3"/>
<rect x="680.21" y="564.25" width="11.50" height="15.00" fill="#00ff00" stroke="#26a69a" stroke-width="1.3"/>
<path d="M697.12 586.75H710.12" stroke="#222222" stroke-width="1.4"/>
<rect x="715.53" y="570.00" width="11.50" height="23.25" fill="#000000" stroke="#c8262c" stroke-width="1.1"/>
<rect x="733.19" y="587.50" width="11.50" height="33.25" fill="#000000" stroke="#c8262c" stroke-width="1.1"/>
<rect x="750.85" y="606.75" width="11.50" height="31.50" fill="#ff0000" stroke="#ff0000" stroke-width="1"/>
<rect x="768.52" y="628.75" width="11.50" height="49.25" fill="#ff0000" stroke="#ff0000" stroke-width="1"/>
<rect x="821.50" y="613.75" width="11.50" height="5.00" fill="#00ff00" stroke="#26a69a" stroke-width="1.3"/>
<path d="M873.74 606.25H886.74" stroke="#33ee33" stroke-width="1.4"/>
<rect x="909.81" y="582.00" width="11.50" height="36.25" fill="#000000" stroke="#c8262c" stroke-width="1.1"/>
<rect x="927.47" y="618.75" width="11.50" height="41.25" fill="#ff0000" stroke="#ff0000" stroke-width="1"/>
<rect x="998.12" y="582.00" width="11.50" height="30.50" fill="#000000" stroke="#c8262c" stroke-width="1.1"/>
<rect x="1015.78" y="643.25" width="11.50" height="30.50" fill="#00ff00" stroke="#ef5350" stroke-width="1.3"/>
<rect x="1033.45" y="666.75" width="11.50" height="20.75" fill="#000000" stroke="#c8262c" stroke-width="1.1"/>
<path d="M1085.68 629.50H1098.68" stroke="#ff0000" stroke-width="2.2"/>
<rect x="1139.42" y="636.25" width="11.50" height="23.75" fill="#00ff00" stroke="#ef5350" stroke-width="1.3"/>
<path d="M1156.33 629.50H1169.33" stroke="#004d40" stroke-width="2.2"/>
<path d="M1173.99 617.50H1186.99" stroke="#004d40" stroke-width="2.2"/>
<rect x="1263.05" y="579.25" width="11.50" height="4.50" fill="#00ff00" stroke="#ef5350" stroke-width="1.3"/>
<rect x="1280.71" y="572.00" width="11.50" height="50.50" fill="#000000" stroke="#c8262c" stroke-width="1.1"/>
<rect x="1316.04" y="601.25" width="11.50" height="60.75" fill="#ff0000" stroke="#ff0000" stroke-width="1"/>
<rect x="1386.69" y="704.25" width="11.50" height="19.50" fill="#ff0000" stroke="#ff0000" stroke-width="1"/>
<rect x="1439.67" y="674.25" width="11.50" height="37.00" fill="#00ff00" stroke="#ef5350" stroke-width="1.3"/>
<path d="M1509.57 643.00H1522.57" stroke="#33ee33" stroke-width="1.4"/>
<rect x="1527.98" y="623.00" width="11.50" height="33.25" fill="#00ff00" stroke="#ef5350" stroke-width="1.3"/>
<rect x="1545.64" y="628.75" width="11.50" height="41.25" fill="#00ff00" stroke="#ef5350" stroke-width="1.3"/>
<rect x="1563.31" y="650.75" width="11.50" height="24.25" fill="#000000" stroke="#c8262c" stroke-width="1.1"/>
<rect x="1580.97" y="643.00" width="11.50" height="71.25" fill="#ff0000" stroke="#ff0000" stroke-width="1"/>
<rect x="1598.63" y="706.00" width="11.50" height="49.50" fill="#ff0000" stroke="#ff0000" stroke-width="1"/>
<rect x="1616.29" y="754.25" width="11.50" height="7.00" fill="#ff0000" stroke="#ff0000" stroke-width="1"/>
<rect x="1633.95" y="744.50" width="11.50" height="42.25" fill="#ff0000" stroke="#ff0000" stroke-width="1"/>
<path d="M1650.87 785.50H1663.87" stroke="#ff0000" stroke-width="1.4"/>
<rect x="1686.94" y="757.50" width="11.50" height="27.50" fill="#000000" stroke="#e0282e" stroke-width="1.3"/>
<rect x="1722.26" y="721.75" width="11.50" height="29.50" fill="#00ff00" stroke="#26a69a" stroke-width="1.3"/>
<rect x="1739.93" y="721.75" width="11.50" height="35.25" fill="#00ff00" stroke="#ef5350" stroke-width="1.3"/>
<rect x="1757.59" y="732.50" width="11.50" height="19.25" fill="#00ff00" stroke="#26a69a" stroke-width="1.3"/>
<rect x="1775.25" y="738.00" width="11.50" height="40.75" fill="#000000" stroke="#e0282e" stroke-width="1.3"/>
<rect x="1792.91" y="768.25" width="11.50" height="28.75" fill="#000000" stroke="#e0282e" stroke-width="1.3"/>
<rect x="1810.57" y="799.50" width="11.50" height="23.50" fill="#ff0000" stroke="#ff0000" stroke-width="1"/>
<rect x="1845.90" y="793.00" width="11.50" height="20.00" fill="#ff0000" stroke="#ff0000" stroke-width="1"/>
<rect x="1881.22" y="774.25" width="11.50" height="24.00" fill="#00ff00" stroke="#ef5350" stroke-width="1.3"/>
<rect x="1934.21" y="780.00" width="11.50" height="48.00" fill="#000000" stroke="#c8262c" stroke-width="1.1"/>
<rect x="1951.87" y="815.00" width="11.50" height="33.00" fill="#ff0000" stroke="#ff0000" stroke-width="1"/>
<path d="M1986.44 840.50H1999.44" stroke="#ff0000" stroke-width="1.4"/>
<rect x="2022.52" y="858.75" width="11.50" height="33.25" fill="#ff0000" stroke="#ff0000" stroke-width="1"/>
<path d="M2039.43 888.25H2052.43" stroke="#004d40" stroke-width="2.2"/>
<rect x="2057.84" y="862.00" width="11.50" height="39.75" fill="#00ff00" stroke="#ef5350" stroke-width="1.3"/>
<rect x="2075.50" y="907.50" width="11.50" height="5.75" fill="#ff0000" stroke="#ff0000" stroke-width="1"/>
<rect x="2110.83" y="866.25" width="11.50" height="18.00" fill="#00ff00" stroke="#ef5350" stroke-width="1.3"/>
<rect x="2128.49" y="882.00" width="11.50" height="39.25" fill="#00ff00" stroke="#ef5350" stroke-width="1.3"/>
<rect x="2146.15" y="862.50" width="11.50" height="30.50" fill="#00ff00" stroke="#26a69a" stroke-width="1.3"/>
<rect x="2181.48" y="885.00" width="11.50" height="40.00" fill="#000000" stroke="#e0282e" stroke-width="1.3"/>
<rect x="2216.80" y="859.25" width="11.50" height="67.50" fill="#00ff00" stroke="#ef5350" stroke-width="1.3"/>
<path d="M2233.71 936.25H2246.71" stroke="#ff0000" stroke-width="2.2"/>
<path d="M5 936.75H2425" stroke="#f23645" stroke-width="1" stroke-dasharray="1 1.6"/>
</g>
<g clip-path="url(#cpm)">
<circle cx="14.50" cy="327.50" r="2.2" fill="#8a8a8a"/>
<circle cx="190.50" cy="253.00" r="2.2" fill="#8a8a8a"/>
<circle cx="85.25" cy="197.00" r="2.2" fill="#8a8a8a"/>
<circle cx="385.00" cy="448.75" r="2.2" fill="#8a8a8a"/>
<circle cx="543.75" cy="564.25" r="2.2" fill="#8a8a8a"/>
<circle cx="508.25" cy="654.50" r="2.2" fill="#8a8a8a"/>
<circle cx="578.75" cy="679.50" r="2.2" fill="#8a8a8a"/>
<circle cx="633.00" cy="511.75" r="2.2" fill="#8a8a8a"/>
<circle cx="720.75" cy="546.25" r="2.2" fill="#8a8a8a"/>
<circle cx="1003.00" cy="571.25" r="2.2" fill="#8a8a8a"/>
<circle cx="1073.25" cy="587.50" r="2.2" fill="#8a8a8a"/>
<circle cx="968.00" cy="684.50" r="2.2" fill="#8a8a8a"/>
<circle cx="1109.25" cy="698.25" r="2.2" fill="#8a8a8a"/>
<circle cx="1215.50" cy="651.25" r="2.2" fill="#8a8a8a"/>
<circle cx="791.75" cy="747.50" r="2.2" fill="#8a8a8a"/>
<circle cx="1357.00" cy="748.75" r="2.2" fill="#8a8a8a"/>
<circle cx="1409.50" cy="752.50" r="2.2" fill="#8a8a8a"/>
<circle cx="1656.75" cy="810.75" r="2.2" fill="#8a8a8a"/>
<circle cx="1815.25" cy="858.75" r="2.2" fill="#8a8a8a"/>
<circle cx="1887.25" cy="762.50" r="2.2" fill="#8a8a8a"/>
<circle cx="1904.75" cy="845.75" r="2.2" fill="#8a8a8a"/>
<circle cx="2081.00" cy="938.25" r="2.2" fill="#8a8a8a"/>
<circle cx="2134.00" cy="942.00" r="2.2" fill="#8a8a8a"/>
<circle cx="2169.50" cy="827.50" r="2.2" fill="#8a8a8a"/>
<circle cx="243.75" cy="476.25" r="4.2" fill="#999999"/>
<circle cx="138.25" cy="226.75" r="5.6" fill="#00e5ff"/>
<circle cx="1286.75" cy="515.50" r="5.6" fill="#00e5ff"/>
<circle cx="1321.75" cy="536.25" r="5.6" fill="#00e5ff"/>
<circle cx="1251.25" cy="675.75" r="5.6" fill="#00e5ff"/>
<circle cx="1586.25" cy="608.75" r="5.6" fill="#00e5ff"/>
<circle cx="1480.00" cy="760.50" r="5.6" fill="#00e5ff"/>
<circle cx="1143.75" cy="604.25" r="5.6" fill="#00e5ff"/>
<circle cx="932.50" cy="587.00" r="5.6" fill="#00e5ff"/>
<path d="M926.90 588.30H938.10M932.50 583.50V594.10" stroke="#ff0000" stroke-width="3.4"/>
<circle cx="1021.25" cy="605.75" r="5.6" fill="#00e5ff"/>
<path d="M1015.65 607.05H1026.85M1021.25 602.25V612.85" stroke="#ff0000" stroke-width="3.4"/>
<circle cx="1109.25" cy="595.75" r="5.6" fill="#00e5ff"/>
<path d="M1103.65 597.05H1114.85M1109.25 592.25V602.85" stroke="#ff0000" stroke-width="3.4"/>
<circle cx="155.50" cy="313.75" r="6" fill="#000000"/>
<circle cx="525.75" cy="647.00" r="6" fill="#000000"/>
<circle cx="596.50" cy="669.00" r="6" fill="#000000"/>
<circle cx="2151.50" cy="925.75" r="6" fill="#000000"/>
<circle cx="2204.50" cy="916.25" r="6" fill="#000000"/>
<circle cx="14.50" cy="338.25" r="5.8" fill="#0000ff"/>
<circle cx="950.75" cy="693.75" r="5.8" fill="#ffff00"/>
<circle cx="950.75" cy="688.00" r="5.8" fill="#0000ff"/>
<circle cx="1674.25" cy="825.75" r="5.8" fill="#0000ff"/>
<circle cx="1674.25" cy="823.00" r="5.6" fill="#007000"/>
<circle cx="32.00" cy="325.00" r="8" fill="#999999"/>
<circle cx="32.00" cy="327.00" r="5.8" fill="#007000"/>
<circle cx="32.00" cy="324.50" r="4.2" fill="#a03030"/>
<circle cx="314.25" cy="561.25" r="8" fill="#999999"/>
<circle cx="314.25" cy="564.25" r="5.8" fill="#007000"/>
<circle cx="279.25" cy="559.25" r="8" fill="#00ff00"/>
<circle cx="968.00" cy="704.25" r="8" fill="#00ff00"/>
<circle cx="1498.00" cy="589.25" r="8" fill="#00ff00"/>
<circle cx="1656.75" cy="833.00" r="8" fill="#00ff00"/>
<circle cx="261.00" cy="538.75" r="5.6" fill="#ff00ff"/>
<circle cx="331.75" cy="588.00" r="5.6" fill="#ff00ff"/>
<circle cx="420.00" cy="541.50" r="5.6" fill="#ff00ff"/>
<circle cx="1834.25" cy="866.25" r="5.6" fill="#ff00ff"/>
<circle cx="331.75" cy="574.25" r="6.0" fill="#ffffff" stroke="#ff0000" stroke-width="3.6"/>
<circle cx="331.75" cy="574.25" r="2.2" fill="#8a8a8a"/>
<circle cx="1268.75" cy="553.75" r="6.0" fill="#ffffff" stroke="#ff0000" stroke-width="3.6"/>
<circle cx="1975.50" cy="920.75" r="6.0" fill="#ffffff" stroke="#ff0000" stroke-width="3.6"/>
<circle cx="1975.50" cy="920.75" r="2.2" fill="#8a8a8a"/>
<circle cx="455.00" cy="418.75" r="8" fill="#ffa040"/>
<circle cx="455.00" cy="427.00" r="8" fill="#ff0000"/>
<circle cx="455.00" cy="427.00" r="2.2" fill="#8a8a8a"/>
<circle cx="915.00" cy="553.25" r="8" fill="#ffa040"/>
<circle cx="915.00" cy="561.25" r="8" fill="#ff0000"/>
<circle cx="915.00" cy="561.25" r="2.2" fill="#8a8a8a"/>
<circle cx="1286.75" cy="528.00" r="8" fill="#ffa040"/>
<circle cx="1286.75" cy="536.25" r="8" fill="#ff0000"/>
<circle cx="1286.75" cy="536.25" r="2.2" fill="#8a8a8a"/>
<circle cx="2222.00" cy="764.50" r="8" fill="#ffa040"/>
<circle cx="2222.00" cy="774.25" r="8" fill="#ff0000"/>
<circle cx="1462.50" cy="837.00" r="8" fill="#ff0000"/>
<circle cx="1462.50" cy="837.00" r="2.2" fill="#8a8a8a"/>
<circle cx="1462.50" cy="846.25" r="8" fill="#ffa040"/>
<circle cx="1056.25" cy="713.25" r="8" fill="#ff0000"/>
<circle cx="1056.25" cy="713.25" r="2.2" fill="#8a8a8a"/>
<circle cx="1038.25" cy="615.00" r="5.8" fill="#ffff00"/>
<circle cx="1162.00" cy="569.50" r="5.8" fill="#ffff00"/>
<circle cx="1179.50" cy="667.00" r="5.8" fill="#ffff00"/>
<circle cx="1091.75" cy="685.50" r="5.8" fill="#ffff00"/>
<circle cx="1445.00" cy="640.75" r="5.8" fill="#ffff00"/>
<circle cx="791.75" cy="768.00" r="6.0" fill="#ffffff" stroke="#00ff00" stroke-width="3.6"/>
<circle cx="1409.50" cy="774.25" r="6.0" fill="#ffffff" stroke="#00ff00" stroke-width="3.6"/>
<circle cx="1975.50" cy="937.00" r="5.8" fill="#007000"/>
<circle cx="2063.00" cy="929.50" r="5.8" fill="#007000"/>
<path d="M-1.00 375.75 H24.25 L32.00 368.00 L39.75 375.75 H65.00 Q68.00 375.75 68.00 378.75 V397.75 Q68.00 400.75 65.00 400.75 H-1.00 Q-4.00 400.75 -4.00 397.75 V378.75 Q-4.00 375.75 -1.00 375.75 Z" fill="#a05a0a"/>
<text x="32.0" y="392.6" font-size="12" fill="#ffffff" text-anchor="middle" textLength="53.0" lengthAdjust="spacingAndGlyphs" >BB Kombi</text>
<path d="M419.25 304.25 H491.25 Q494.25 304.25 494.25 307.25 V327.00 Q494.25 330.00 491.25 330.00 H462.50 L455.00 337.50 L447.50 330.00 H419.25 Q416.25 330.00 416.25 327.00 V307.25 Q416.25 304.25 419.25 304.25 Z" fill="#ff9f43"/>
<text x="455.2" y="321.4" font-size="12" fill="#ffffff" text-anchor="middle" textLength="59.0" lengthAdjust="spacingAndGlyphs" >AW Rocket</text>
<path d="M422.25 347.00 H488.25 Q491.25 347.00 491.25 350.00 V369.50 Q491.25 372.50 488.25 372.50 H462.00 L455.00 379.50 L448.00 372.50 H422.25 Q419.25 372.50 419.25 369.50 V350.00 Q419.25 347.00 422.25 347.00 Z" fill="#ff0000"/>
<text x="455.2" y="364.1" font-size="12" fill="#ffffff" text-anchor="middle" textLength="53.0" lengthAdjust="spacingAndGlyphs" >Red Devil</text>
<path d="M303.75 625.75 H324.00 L331.75 618.00 L339.50 625.75 H360.00 Q363.00 625.75 363.00 628.75 V647.75 Q363.00 650.75 360.00 650.75 H303.75 Q300.75 650.75 300.75 647.75 V628.75 Q300.75 625.75 303.75 625.75 Z" fill="#ff0000"/>
<text x="331.9" y="642.5" font-size="12" fill="#ffffff" text-anchor="middle" textLength="45.0" lengthAdjust="spacingAndGlyphs" >LolliPop</text>
<path d="M878.75 432.00 H950.75 Q953.75 432.00 953.75 435.00 V453.75 Q953.75 456.75 950.75 456.75 H923.25 L915.00 465.00 L906.75 456.75 H878.75 Q875.75 456.75 875.75 453.75 V435.00 Q875.75 432.00 878.75 432.00 Z" fill="#ff9f43"/>
<text x="914.8" y="448.7" font-size="12" fill="#ffffff" text-anchor="middle" textLength="59.0" lengthAdjust="spacingAndGlyphs" >AW Rocket</text>
<path d="M881.75 477.50 H947.75 Q950.75 477.50 950.75 480.50 V500.00 Q950.75 503.00 947.75 503.00 H922.75 L915.00 510.75 L907.25 503.00 H881.75 Q878.75 503.00 878.75 500.00 V480.50 Q878.75 477.50 881.75 477.50 Z" fill="#ff0000"/>
<text x="914.8" y="494.6" font-size="12" fill="#ffffff" text-anchor="middle" textLength="53.0" lengthAdjust="spacingAndGlyphs" >Red Devil</text>
<path d="M1023.75 774.50 H1048.50 L1056.75 766.25 L1065.00 774.50 H1089.50 Q1092.50 774.50 1092.50 777.50 V796.50 Q1092.50 799.50 1089.50 799.50 H1023.75 Q1020.75 799.50 1020.75 796.50 V777.50 Q1020.75 774.50 1023.75 774.50 Z" fill="#ff0000"/>
<text x="1056.6" y="791.3" font-size="12" fill="#ffffff" text-anchor="middle" textLength="53.0" lengthAdjust="spacingAndGlyphs" >Red Devil</text>
<path d="M1250.50 404.25 H1322.75 Q1325.75 404.25 1325.75 407.25 V426.25 Q1325.75 429.25 1322.75 429.25 H1294.50 L1286.75 437.00 L1279.00 429.25 H1250.50 Q1247.50 429.25 1247.50 426.25 V407.25 Q1247.50 404.25 1250.50 404.25 Z" fill="#ff9f43"/>
<text x="1286.6" y="421.1" font-size="12" fill="#ffffff" text-anchor="middle" textLength="59.0" lengthAdjust="spacingAndGlyphs" >AW Rocket</text>
<path d="M1253.75 451.25 H1319.50 Q1322.50 451.25 1322.50 454.25 V473.25 Q1322.50 476.25 1319.50 476.25 H1294.50 L1286.75 484.00 L1279.00 476.25 H1253.75 Q1250.75 476.25 1250.75 473.25 V454.25 Q1250.75 451.25 1253.75 451.25 Z" fill="#ff0000"/>
<text x="1286.6" y="468.1" font-size="12" fill="#ffffff" text-anchor="middle" textLength="53.0" lengthAdjust="spacingAndGlyphs" >Red Devil</text>
<path d="M1240.00 470.00 H1297.00 Q1300.00 470.00 1300.00 473.00 V491.50 Q1300.00 494.50 1297.00 494.50 H1276.75 L1268.75 502.50 L1260.75 494.50 H1240.00 Q1237.00 494.50 1237.00 491.50 V473.00 Q1237.00 470.00 1240.00 470.00 Z" fill="#ff0000"/>
<text x="1268.5" y="486.6" font-size="12" fill="#ffffff" text-anchor="middle" textLength="45.0" lengthAdjust="spacingAndGlyphs" >LolliPop</text>
<path d="M1429.75 902.00 H1455.00 L1462.50 894.50 L1470.00 902.00 H1495.25 Q1498.25 902.00 1498.25 905.00 V924.00 Q1498.25 927.00 1495.25 927.00 H1429.75 Q1426.75 927.00 1426.75 924.00 V905.00 Q1426.75 902.00 1429.75 902.00 Z" fill="#ff0000"/>
<text x="1462.5" y="918.8" font-size="12" fill="#ffffff" text-anchor="middle" textLength="53.0" lengthAdjust="spacingAndGlyphs" >Red Devil</text>
<path d="M1426.75 953.25 H1455.00 L1462.50 945.75 L1470.00 953.25 H1498.25 Q1501.25 953.25 1501.25 956.25 V975.25 Q1501.25 978.25 1498.25 978.25 H1426.75 Q1423.75 978.25 1423.75 975.25 V956.25 Q1423.75 953.25 1426.75 953.25 Z" fill="#ff9f43"/>
<text x="1462.5" y="970.0" font-size="12" fill="#ffffff" text-anchor="middle" textLength="59.0" lengthAdjust="spacingAndGlyphs" >AW Rocket</text>
<path d="M1947.25 985.00 H1967.50 L1975.50 977.00 L1983.50 985.00 H2004.00 Q2007.00 985.00 2007.00 988.00 V1007.00 Q2007.00 1010.00 2004.00 1010.00 H1947.25 Q1944.25 1010.00 1944.25 1007.00 V988.00 Q1944.25 985.00 1947.25 985.00 Z" fill="#ff0000"/>
<text x="1975.6" y="1001.8" font-size="12" fill="#ffffff" text-anchor="middle" textLength="45.0" lengthAdjust="spacingAndGlyphs" >LolliPop</text>
<path d="M2186.50 628.50 H2258.00 Q2261.00 628.50 2261.00 631.50 V650.00 Q2261.00 653.00 2258.00 653.00 H2230.00 L2222.00 661.00 L2214.00 653.00 H2186.50 Q2183.50 653.00 2183.50 650.00 V631.50 Q2183.50 628.50 2186.50 628.50 Z" fill="#ff9f43"/>
<text x="2222.2" y="645.0" font-size="12" fill="#ffffff" text-anchor="middle" textLength="59.0" lengthAdjust="spacingAndGlyphs" >AW Rocket</text>
<path d="M2189.50 682.00 H2255.00 Q2258.00 682.00 2258.00 685.00 V703.50 Q2258.00 706.50 2255.00 706.50 H2229.50 L2222.00 714.00 L2214.50 706.50 H2189.50 Q2186.50 706.50 2186.50 703.50 V685.00 Q2186.50 682.00 2189.50 682.00 Z" fill="#ff0000"/>
<text x="2222.2" y="698.5" font-size="12" fill="#ffffff" text-anchor="middle" textLength="53.0" lengthAdjust="spacingAndGlyphs" >Red Devil</text>
<circle cx="2241.5" cy="1080" r="12.3" fill="none" stroke="#9c27b0" stroke-width="1.9"/>
<path d="M2245 1071 L2237 1081.5 H2242 L2239 1089 L2247 1078.5 H2242 Z" fill="#9c27b0"/>
<rect x="621.00" y="1068" width="24" height="24" rx="4" fill="#ffffff" stroke="#3a3a3a" stroke-width="2.2"/>
<text x="633.0" y="1086.0" font-size="16" fill="#2a2a2a" text-anchor="middle" >E</text>
<rect x="1044.75" y="1068" width="24" height="24" rx="4" fill="#ffffff" stroke="#3a3a3a" stroke-width="2.2"/>
<text x="1056.8" y="1086.0" font-size="16" fill="#2a2a2a" text-anchor="middle" >E</text>
<rect x="2210.50" y="1068" width="24" height="24" rx="4" fill="#ffffff" stroke="#3a3a3a" stroke-width="2.2"/>
<text x="2222.5" y="1086.0" font-size="16" fill="#2a2a2a" text-anchor="middle" >E</text>
</g>
<path d="M5 1097.9H2500" stroke="#ebebee" stroke-width="1.6"/>
<path d="M5 1244.6H2500" stroke="#ebebee" stroke-width="1.6"/>
<path d="M5 1308.2H2500" stroke="#ebebee" stroke-width="1.6"/>
<g clip-path="url(#cp)">
<g fill="#ff0000"><circle cx="14.80" cy="1157.50" r="5.75"/><circle cx="32.46" cy="1157.50" r="5.75"/><circle cx="50.12" cy="1157.50" r="5.75"/><circle cx="138.43" cy="1157.50" r="5.75"/><circle cx="156.10" cy="1157.50" r="5.75"/><circle cx="173.76" cy="1157.50" r="5.75"/><circle cx="191.42" cy="1157.50" r="5.75"/><circle cx="209.08" cy="1157.50" r="5.75"/><circle cx="226.74" cy="1157.50" r="5.75"/><circle cx="244.41" cy="1157.50" r="5.75"/><circle cx="262.07" cy="1157.50" r="5.75"/><circle cx="279.73" cy="1157.50" r="5.75"/><circle cx="297.39" cy="1157.50" r="5.75"/><circle cx="315.05" cy="1157.50" r="5.75"/><circle cx="332.72" cy="1157.50" r="5.75"/><circle cx="350.38" cy="1157.50" r="5.75"/><circle cx="368.04" cy="1157.50" r="5.75"/><circle cx="456.35" cy="1157.50" r="5.75"/><circle cx="474.01" cy="1157.50" r="5.75"/><circle cx="491.67" cy="1157.50" r="5.75"/><circle cx="509.34" cy="1157.50" r="5.75"/><circle cx="527.00" cy="1157.50" r="5.75"/><circle cx="544.66" cy="1157.50" r="5.75"/><circle cx="562.32" cy="1157.50" r="5.75"/><circle cx="579.98" cy="1157.50" r="5.75"/><circle cx="597.65" cy="1157.50" r="5.75"/><circle cx="615.31" cy="1157.50" r="5.75"/><circle cx="738.94" cy="1157.50" r="5.75"/><circle cx="756.60" cy="1157.50" r="5.75"/><circle cx="774.27" cy="1157.50" r="5.75"/><circle cx="791.93" cy="1157.50" r="5.75"/><circle cx="809.59" cy="1157.50" r="5.75"/><circle cx="827.25" cy="1157.50" r="5.75"/><circle cx="933.22" cy="1157.50" r="5.75"/><circle cx="950.89" cy="1157.50" r="5.75"/><circle cx="968.55" cy="1157.50" r="5.75"/><circle cx="1021.53" cy="1157.50" r="5.75"/><circle cx="1039.20" cy="1157.50" r="5.75"/><circle cx="1056.86" cy="1157.50" r="5.75"/><circle cx="1145.17" cy="1157.50" r="5.75"/><circle cx="1321.79" cy="1157.50" r="5.75"/><circle cx="1339.45" cy="1157.50" r="5.75"/><circle cx="1357.11" cy="1157.50" r="5.75"/><circle cx="1374.77" cy="1157.50" r="5.75"/><circle cx="1392.44" cy="1157.50" r="5.75"/><circle cx="1410.10" cy="1157.50" r="5.75"/><circle cx="1427.76" cy="1157.50" r="5.75"/><circle cx="1445.42" cy="1157.50" r="5.75"/><circle cx="1586.72" cy="1157.50" r="5.75"/><circle cx="1604.38" cy="1157.50" r="5.75"/><circle cx="1622.04" cy="1157.50" r="5.75"/><circle cx="1639.70" cy="1157.50" r="5.75"/><circle cx="1657.37" cy="1157.50" r="5.75"/><circle cx="1675.03" cy="1157.50" r="5.75"/><circle cx="1692.69" cy="1157.50" r="5.75"/><circle cx="1710.35" cy="1157.50" r="5.75"/><circle cx="1781.00" cy="1157.50" r="5.75"/><circle cx="1798.66" cy="1157.50" r="5.75"/><circle cx="1816.32" cy="1157.50" r="5.75"/><circle cx="1833.99" cy="1157.50" r="5.75"/><circle cx="1851.65" cy="1157.50" r="5.75"/><circle cx="1869.31" cy="1157.50" r="5.75"/><circle cx="1886.97" cy="1157.50" r="5.75"/><circle cx="1904.63" cy="1157.50" r="5.75"/><circle cx="1939.96" cy="1157.50" r="5.75"/><circle cx="1957.62" cy="1157.50" r="5.75"/><circle cx="1975.28" cy="1157.50" r="5.75"/><circle cx="1992.94" cy="1157.50" r="5.75"/><circle cx="2010.61" cy="1157.50" r="5.75"/><circle cx="2028.27" cy="1157.50" r="5.75"/><circle cx="2045.93" cy="1157.50" r="5.75"/><circle cx="2063.59" cy="1157.50" r="5.75"/><circle cx="2081.25" cy="1157.50" r="5.75"/><circle cx="2098.92" cy="1157.50" r="5.75"/><circle cx="2116.58" cy="1157.50" r="5.75"/><circle cx="2134.24" cy="1157.50" r="5.75"/><circle cx="2151.90" cy="1157.50" r="5.75"/><circle cx="2187.23" cy="1157.50" r="5.75"/><circle cx="2222.55" cy="1157.50" r="5.75"/><circle cx="2240.21" cy="1157.50" r="5.75"/></g>
<g fill="#ffff00"><circle cx="67.79" cy="1157.50" r="5.75"/><circle cx="85.45" cy="1157.50" r="5.75"/><circle cx="103.11" cy="1157.50" r="5.75"/><circle cx="120.77" cy="1157.50" r="5.75"/><circle cx="385.70" cy="1157.50" r="5.75"/><circle cx="403.36" cy="1157.50" r="5.75"/><circle cx="421.03" cy="1157.50" r="5.75"/><circle cx="438.69" cy="1157.50" r="5.75"/><circle cx="632.97" cy="1157.50" r="5.75"/><circle cx="650.63" cy="1157.50" r="5.75"/><circle cx="668.29" cy="1157.50" r="5.75"/><circle cx="685.96" cy="1157.50" r="5.75"/><circle cx="703.62" cy="1157.50" r="5.75"/><circle cx="721.28" cy="1157.50" r="5.75"/><circle cx="844.91" cy="1157.50" r="5.75"/><circle cx="862.58" cy="1157.50" r="5.75"/><circle cx="880.24" cy="1157.50" r="5.75"/><circle cx="915.56" cy="1157.50" r="5.75"/><circle cx="1092.18" cy="1157.50" r="5.75"/><circle cx="1109.84" cy="1157.50" r="5.75"/><circle cx="1127.51" cy="1157.50" r="5.75"/><circle cx="1162.83" cy="1157.50" r="5.75"/><circle cx="1286.46" cy="1157.50" r="5.75"/><circle cx="1463.08" cy="1157.50" r="5.75"/><circle cx="1480.75" cy="1157.50" r="5.75"/><circle cx="1498.41" cy="1157.50" r="5.75"/><circle cx="1516.07" cy="1157.50" r="5.75"/><circle cx="1533.73" cy="1157.50" r="5.75"/><circle cx="1551.39" cy="1157.50" r="5.75"/><circle cx="1569.06" cy="1157.50" r="5.75"/><circle cx="1728.01" cy="1157.50" r="5.75"/><circle cx="1745.68" cy="1157.50" r="5.75"/><circle cx="1763.34" cy="1157.50" r="5.75"/><circle cx="1922.30" cy="1157.50" r="5.75"/><circle cx="2169.56" cy="1157.50" r="5.75"/><circle cx="2204.89" cy="1157.50" r="5.75"/></g>
<g fill="#00ff00"><circle cx="897.90" cy="1157.50" r="5.75"/><circle cx="986.21" cy="1157.50" r="5.75"/><circle cx="1003.87" cy="1157.50" r="5.75"/><circle cx="1074.52" cy="1157.50" r="5.75"/><circle cx="1180.49" cy="1157.50" r="5.75"/><circle cx="1198.15" cy="1157.50" r="5.75"/><circle cx="1215.82" cy="1157.50" r="5.75"/><circle cx="1233.48" cy="1157.50" r="5.75"/><circle cx="1251.14" cy="1157.50" r="5.75"/><circle cx="1268.80" cy="1157.50" r="5.75"/><circle cx="1304.13" cy="1157.50" r="5.75"/></g>
<g fill="#ff0000"><circle cx="14.80" cy="1172.25" r="5.75"/><circle cx="156.10" cy="1172.25" r="5.75"/><circle cx="173.76" cy="1172.25" r="5.75"/><circle cx="191.42" cy="1172.25" r="5.75"/><circle cx="209.08" cy="1172.25" r="5.75"/><circle cx="226.74" cy="1172.25" r="5.75"/><circle cx="244.41" cy="1172.25" r="5.75"/><circle cx="262.07" cy="1172.25" r="5.75"/><circle cx="279.73" cy="1172.25" r="5.75"/><circle cx="297.39" cy="1172.25" r="5.75"/><circle cx="491.67" cy="1172.25" r="5.75"/><circle cx="509.34" cy="1172.25" r="5.75"/><circle cx="527.00" cy="1172.25" r="5.75"/><circle cx="544.66" cy="1172.25" r="5.75"/><circle cx="756.60" cy="1172.25" r="5.75"/><circle cx="774.27" cy="1172.25" r="5.75"/><circle cx="791.93" cy="1172.25" r="5.75"/><circle cx="933.22" cy="1172.25" r="5.75"/><circle cx="950.89" cy="1172.25" r="5.75"/><circle cx="968.55" cy="1172.25" r="5.75"/><circle cx="1074.52" cy="1172.25" r="5.75"/><circle cx="1092.18" cy="1172.25" r="5.75"/><circle cx="1321.79" cy="1172.25" r="5.75"/><circle cx="1339.45" cy="1172.25" r="5.75"/><circle cx="1357.11" cy="1172.25" r="5.75"/><circle cx="1374.77" cy="1172.25" r="5.75"/><circle cx="1392.44" cy="1172.25" r="5.75"/><circle cx="1463.08" cy="1172.25" r="5.75"/><circle cx="1586.72" cy="1172.25" r="5.75"/><circle cx="1604.38" cy="1172.25" r="5.75"/><circle cx="1622.04" cy="1172.25" r="5.75"/><circle cx="1639.70" cy="1172.25" r="5.75"/><circle cx="1657.37" cy="1172.25" r="5.75"/><circle cx="1816.32" cy="1172.25" r="5.75"/><circle cx="1833.99" cy="1172.25" r="5.75"/><circle cx="1851.65" cy="1172.25" r="5.75"/><circle cx="1957.62" cy="1172.25" r="5.75"/><circle cx="1975.28" cy="1172.25" r="5.75"/><circle cx="1992.94" cy="1172.25" r="5.75"/><circle cx="2010.61" cy="1172.25" r="5.75"/><circle cx="2028.27" cy="1172.25" r="5.75"/><circle cx="2081.25" cy="1172.25" r="5.75"/><circle cx="2240.21" cy="1172.25" r="5.75"/></g>
<g fill="#000000"><circle cx="32.46" cy="1172.25" r="5.75"/><circle cx="138.43" cy="1172.25" r="5.75"/><circle cx="315.05" cy="1172.25" r="5.75"/><circle cx="332.72" cy="1172.25" r="5.75"/><circle cx="350.38" cy="1172.25" r="5.75"/><circle cx="456.35" cy="1172.25" r="5.75"/><circle cx="474.01" cy="1172.25" r="5.75"/><circle cx="562.32" cy="1172.25" r="5.75"/><circle cx="579.98" cy="1172.25" r="5.75"/><circle cx="703.62" cy="1172.25" r="5.75"/><circle cx="721.28" cy="1172.25" r="5.75"/><circle cx="738.94" cy="1172.25" r="5.75"/><circle cx="809.59" cy="1172.25" r="5.75"/><circle cx="915.56" cy="1172.25" r="5.75"/><circle cx="1003.87" cy="1172.25" r="5.75"/><circle cx="1039.20" cy="1172.25" r="5.75"/><circle cx="1162.83" cy="1172.25" r="5.75"/><circle cx="1180.49" cy="1172.25" r="5.75"/><circle cx="1251.14" cy="1172.25" r="5.75"/><circle cx="1286.46" cy="1172.25" r="5.75"/><circle cx="1304.13" cy="1172.25" r="5.75"/><circle cx="1410.10" cy="1172.25" r="5.75"/><circle cx="1427.76" cy="1172.25" r="5.75"/><circle cx="1569.06" cy="1172.25" r="5.75"/><circle cx="1675.03" cy="1172.25" r="5.75"/><circle cx="1692.69" cy="1172.25" r="5.75"/><circle cx="1781.00" cy="1172.25" r="5.75"/><circle cx="1798.66" cy="1172.25" r="5.75"/><circle cx="1869.31" cy="1172.25" r="5.75"/><circle cx="1939.96" cy="1172.25" r="5.75"/><circle cx="2045.93" cy="1172.25" r="5.75"/><circle cx="2098.92" cy="1172.25" r="5.75"/><circle cx="2187.23" cy="1172.25" r="5.75"/><circle cx="2204.89" cy="1172.25" r="5.75"/></g>
<g fill="#00ff00"><circle cx="50.12" cy="1172.25" r="5.75"/><circle cx="67.79" cy="1172.25" r="5.75"/><circle cx="85.45" cy="1172.25" r="5.75"/><circle cx="103.11" cy="1172.25" r="5.75"/><circle cx="120.77" cy="1172.25" r="5.75"/><circle cx="368.04" cy="1172.25" r="5.75"/><circle cx="385.70" cy="1172.25" r="5.75"/><circle cx="403.36" cy="1172.25" r="5.75"/><circle cx="421.03" cy="1172.25" r="5.75"/><circle cx="438.69" cy="1172.25" r="5.75"/><circle cx="597.65" cy="1172.25" r="5.75"/><circle cx="615.31" cy="1172.25" r="5.75"/><circle cx="632.97" cy="1172.25" r="5.75"/><circle cx="650.63" cy="1172.25" r="5.75"/><circle cx="668.29" cy="1172.25" r="5.75"/><circle cx="685.96" cy="1172.25" r="5.75"/><circle cx="827.25" cy="1172.25" r="5.75"/><circle cx="844.91" cy="1172.25" r="5.75"/><circle cx="862.58" cy="1172.25" r="5.75"/><circle cx="880.24" cy="1172.25" r="5.75"/><circle cx="897.90" cy="1172.25" r="5.75"/><circle cx="986.21" cy="1172.25" r="5.75"/><circle cx="1021.53" cy="1172.25" r="5.75"/><circle cx="1056.86" cy="1172.25" r="5.75"/><circle cx="1109.84" cy="1172.25" r="5.75"/><circle cx="1127.51" cy="1172.25" r="5.75"/><circle cx="1145.17" cy="1172.25" r="5.75"/><circle cx="1198.15" cy="1172.25" r="5.75"/><circle cx="1215.82" cy="1172.25" r="5.75"/><circle cx="1233.48" cy="1172.25" r="5.75"/><circle cx="1268.80" cy="1172.25" r="5.75"/><circle cx="1445.42" cy="1172.25" r="5.75"/><circle cx="1480.75" cy="1172.25" r="5.75"/><circle cx="1498.41" cy="1172.25" r="5.75"/><circle cx="1516.07" cy="1172.25" r="5.75"/><circle cx="1533.73" cy="1172.25" r="5.75"/><circle cx="1551.39" cy="1172.25" r="5.75"/><circle cx="1710.35" cy="1172.25" r="5.75"/><circle cx="1728.01" cy="1172.25" r="5.75"/><circle cx="1745.68" cy="1172.25" r="5.75"/><circle cx="1763.34" cy="1172.25" r="5.75"/><circle cx="1886.97" cy="1172.25" r="5.75"/><circle cx="1904.63" cy="1172.25" r="5.75"/><circle cx="1922.30" cy="1172.25" r="5.75"/><circle cx="2063.59" cy="1172.25" r="5.75"/><circle cx="2116.58" cy="1172.25" r="5.75"/><circle cx="2134.24" cy="1172.25" r="5.75"/><circle cx="2151.90" cy="1172.25" r="5.75"/><circle cx="2169.56" cy="1172.25" r="5.75"/><circle cx="2222.55" cy="1172.25" r="5.75"/></g>
<g fill="#ff0000"><circle cx="14.80" cy="1187.00" r="5.75"/><circle cx="32.46" cy="1187.00" r="5.75"/><circle cx="50.12" cy="1187.00" r="5.75"/><circle cx="67.79" cy="1187.00" r="5.75"/><circle cx="85.45" cy="1187.00" r="5.75"/><circle cx="103.11" cy="1187.00" r="5.75"/><circle cx="120.77" cy="1187.00" r="5.75"/><circle cx="138.43" cy="1187.00" r="5.75"/><circle cx="156.10" cy="1187.00" r="5.75"/><circle cx="173.76" cy="1187.00" r="5.75"/><circle cx="191.42" cy="1187.00" r="5.75"/><circle cx="209.08" cy="1187.00" r="5.75"/><circle cx="226.74" cy="1187.00" r="5.75"/><circle cx="244.41" cy="1187.00" r="5.75"/><circle cx="262.07" cy="1187.00" r="5.75"/><circle cx="279.73" cy="1187.00" r="5.75"/><circle cx="297.39" cy="1187.00" r="5.75"/><circle cx="315.05" cy="1187.00" r="5.75"/><circle cx="332.72" cy="1187.00" r="5.75"/><circle cx="350.38" cy="1187.00" r="5.75"/><circle cx="368.04" cy="1187.00" r="5.75"/><circle cx="385.70" cy="1187.00" r="5.75"/><circle cx="403.36" cy="1187.00" r="5.75"/><circle cx="421.03" cy="1187.00" r="5.75"/><circle cx="438.69" cy="1187.00" r="5.75"/><circle cx="456.35" cy="1187.00" r="5.75"/><circle cx="474.01" cy="1187.00" r="5.75"/><circle cx="491.67" cy="1187.00" r="5.75"/><circle cx="509.34" cy="1187.00" r="5.75"/><circle cx="527.00" cy="1187.00" r="5.75"/><circle cx="544.66" cy="1187.00" r="5.75"/><circle cx="562.32" cy="1187.00" r="5.75"/><circle cx="579.98" cy="1187.00" r="5.75"/><circle cx="597.65" cy="1187.00" r="5.75"/><circle cx="615.31" cy="1187.00" r="5.75"/><circle cx="632.97" cy="1187.00" r="5.75"/><circle cx="650.63" cy="1187.00" r="5.75"/><circle cx="668.29" cy="1187.00" r="5.75"/><circle cx="685.96" cy="1187.00" r="5.75"/><circle cx="703.62" cy="1187.00" r="5.75"/><circle cx="721.28" cy="1187.00" r="5.75"/><circle cx="738.94" cy="1187.00" r="5.75"/><circle cx="756.60" cy="1187.00" r="5.75"/><circle cx="774.27" cy="1187.00" r="5.75"/><circle cx="791.93" cy="1187.00" r="5.75"/><circle cx="809.59" cy="1187.00" r="5.75"/><circle cx="827.25" cy="1187.00" r="5.75"/><circle cx="844.91" cy="1187.00" r="5.75"/><circle cx="862.58" cy="1187.00" r="5.75"/><circle cx="880.24" cy="1187.00" r="5.75"/><circle cx="897.90" cy="1187.00" r="5.75"/><circle cx="915.56" cy="1187.00" r="5.75"/><circle cx="933.22" cy="1187.00" r="5.75"/><circle cx="950.89" cy="1187.00" r="5.75"/><circle cx="968.55" cy="1187.00" r="5.75"/><circle cx="986.21" cy="1187.00" r="5.75"/><circle cx="1003.87" cy="1187.00" r="5.75"/><circle cx="1021.53" cy="1187.00" r="5.75"/><circle cx="1039.20" cy="1187.00" r="5.75"/><circle cx="1056.86" cy="1187.00" r="5.75"/><circle cx="1074.52" cy="1187.00" r="5.75"/><circle cx="1092.18" cy="1187.00" r="5.75"/><circle cx="1109.84" cy="1187.00" r="5.75"/><circle cx="1127.51" cy="1187.00" r="5.75"/><circle cx="1145.17" cy="1187.00" r="5.75"/><circle cx="1162.83" cy="1187.00" r="5.75"/><circle cx="1180.49" cy="1187.00" r="5.75"/><circle cx="1198.15" cy="1187.00" r="5.75"/><circle cx="1215.82" cy="1187.00" r="5.75"/><circle cx="1233.48" cy="1187.00" r="5.75"/><circle cx="1251.14" cy="1187.00" r="5.75"/><circle cx="1268.80" cy="1187.00" r="5.75"/><circle cx="1286.46" cy="1187.00" r="5.75"/><circle cx="1304.13" cy="1187.00" r="5.75"/><circle cx="1321.79" cy="1187.00" r="5.75"/><circle cx="1339.45" cy="1187.00" r="5.75"/><circle cx="1357.11" cy="1187.00" r="5.75"/><circle cx="1374.77" cy="1187.00" r="5.75"/><circle cx="1392.44" cy="1187.00" r="5.75"/><circle cx="1410.10" cy="1187.00" r="5.75"/><circle cx="1427.76" cy="1187.00" r="5.75"/><circle cx="1445.42" cy="1187.00" r="5.75"/><circle cx="1463.08" cy="1187.00" r="5.75"/><circle cx="1480.75" cy="1187.00" r="5.75"/><circle cx="1498.41" cy="1187.00" r="5.75"/><circle cx="1516.07" cy="1187.00" r="5.75"/><circle cx="1533.73" cy="1187.00" r="5.75"/><circle cx="1551.39" cy="1187.00" r="5.75"/><circle cx="1569.06" cy="1187.00" r="5.75"/><circle cx="1586.72" cy="1187.00" r="5.75"/><circle cx="1604.38" cy="1187.00" r="5.75"/><circle cx="1622.04" cy="1187.00" r="5.75"/><circle cx="1639.70" cy="1187.00" r="5.75"/><circle cx="1657.37" cy="1187.00" r="5.75"/><circle cx="1675.03" cy="1187.00" r="5.75"/><circle cx="1692.69" cy="1187.00" r="5.75"/><circle cx="1710.35" cy="1187.00" r="5.75"/><circle cx="1728.01" cy="1187.00" r="5.75"/><circle cx="1745.68" cy="1187.00" r="5.75"/><circle cx="1763.34" cy="1187.00" r="5.75"/><circle cx="1781.00" cy="1187.00" r="5.75"/><circle cx="1798.66" cy="1187.00" r="5.75"/><circle cx="1816.32" cy="1187.00" r="5.75"/><circle cx="1833.99" cy="1187.00" r="5.75"/><circle cx="1851.65" cy="1187.00" r="5.75"/><circle cx="1869.31" cy="1187.00" r="5.75"/><circle cx="1886.97" cy="1187.00" r="5.75"/><circle cx="1904.63" cy="1187.00" r="5.75"/><circle cx="1922.30" cy="1187.00" r="5.75"/><circle cx="1939.96" cy="1187.00" r="5.75"/><circle cx="1957.62" cy="1187.00" r="5.75"/><circle cx="1975.28" cy="1187.00" r="5.75"/><circle cx="1992.94" cy="1187.00" r="5.75"/><circle cx="2010.61" cy="1187.00" r="5.75"/><circle cx="2028.27" cy="1187.00" r="5.75"/><circle cx="2045.93" cy="1187.00" r="5.75"/><circle cx="2063.59" cy="1187.00" r="5.75"/><circle cx="2081.25" cy="1187.00" r="5.75"/><circle cx="2098.92" cy="1187.00" r="5.75"/><circle cx="2116.58" cy="1187.00" r="5.75"/><circle cx="2134.24" cy="1187.00" r="5.75"/><circle cx="2151.90" cy="1187.00" r="5.75"/><circle cx="2169.56" cy="1187.00" r="5.75"/><circle cx="2187.23" cy="1187.00" r="5.75"/><circle cx="2204.89" cy="1187.00" r="5.75"/><circle cx="2222.55" cy="1187.00" r="5.75"/><circle cx="2240.21" cy="1187.00" r="5.75"/></g>
<g fill="#ff0000"><circle cx="14.80" cy="1201.75" r="5.75"/><circle cx="32.46" cy="1201.75" r="5.75"/><circle cx="50.12" cy="1201.75" r="5.75"/><circle cx="67.79" cy="1201.75" r="5.75"/><circle cx="191.42" cy="1201.75" r="5.75"/><circle cx="209.08" cy="1201.75" r="5.75"/><circle cx="226.74" cy="1201.75" r="5.75"/><circle cx="244.41" cy="1201.75" r="5.75"/><circle cx="262.07" cy="1201.75" r="5.75"/><circle cx="279.73" cy="1201.75" r="5.75"/><circle cx="297.39" cy="1201.75" r="5.75"/><circle cx="315.05" cy="1201.75" r="5.75"/><circle cx="332.72" cy="1201.75" r="5.75"/><circle cx="350.38" cy="1201.75" r="5.75"/><circle cx="368.04" cy="1201.75" r="5.75"/><circle cx="385.70" cy="1201.75" r="5.75"/><circle cx="509.34" cy="1201.75" r="5.75"/><circle cx="527.00" cy="1201.75" r="5.75"/><circle cx="544.66" cy="1201.75" r="5.75"/><circle cx="562.32" cy="1201.75" r="5.75"/><circle cx="579.98" cy="1201.75" r="5.75"/><circle cx="791.93" cy="1201.75" r="5.75"/><circle cx="809.59" cy="1201.75" r="5.75"/><circle cx="1357.11" cy="1201.75" r="5.75"/><circle cx="1374.77" cy="1201.75" r="5.75"/><circle cx="1392.44" cy="1201.75" r="5.75"/><circle cx="1410.10" cy="1201.75" r="5.75"/><circle cx="1427.76" cy="1201.75" r="5.75"/><circle cx="1445.42" cy="1201.75" r="5.75"/><circle cx="1463.08" cy="1201.75" r="5.75"/><circle cx="1480.75" cy="1201.75" r="5.75"/><circle cx="1604.38" cy="1201.75" r="5.75"/><circle cx="1622.04" cy="1201.75" r="5.75"/><circle cx="1639.70" cy="1201.75" r="5.75"/><circle cx="1657.37" cy="1201.75" r="5.75"/><circle cx="1675.03" cy="1201.75" r="5.75"/><circle cx="1692.69" cy="1201.75" r="5.75"/><circle cx="1710.35" cy="1201.75" r="5.75"/><circle cx="1728.01" cy="1201.75" r="5.75"/><circle cx="1816.32" cy="1201.75" r="5.75"/><circle cx="1833.99" cy="1201.75" r="5.75"/><circle cx="1851.65" cy="1201.75" r="5.75"/><circle cx="1869.31" cy="1201.75" r="5.75"/><circle cx="1886.97" cy="1201.75" r="5.75"/><circle cx="1975.28" cy="1201.75" r="5.75"/><circle cx="1992.94" cy="1201.75" r="5.75"/><circle cx="2010.61" cy="1201.75" r="5.75"/><circle cx="2028.27" cy="1201.75" r="5.75"/><circle cx="2045.93" cy="1201.75" r="5.75"/><circle cx="2063.59" cy="1201.75" r="5.75"/><circle cx="2081.25" cy="1201.75" r="5.75"/><circle cx="2098.92" cy="1201.75" r="5.75"/><circle cx="2116.58" cy="1201.75" r="5.75"/></g>
<g fill="#000000"><circle cx="85.45" cy="1201.75" r="5.75"/><circle cx="103.11" cy="1201.75" r="5.75"/><circle cx="120.77" cy="1201.75" r="5.75"/><circle cx="138.43" cy="1201.75" r="5.75"/><circle cx="156.10" cy="1201.75" r="5.75"/><circle cx="173.76" cy="1201.75" r="5.75"/><circle cx="403.36" cy="1201.75" r="5.75"/><circle cx="421.03" cy="1201.75" r="5.75"/><circle cx="438.69" cy="1201.75" r="5.75"/><circle cx="456.35" cy="1201.75" r="5.75"/><circle cx="474.01" cy="1201.75" r="5.75"/><circle cx="491.67" cy="1201.75" r="5.75"/><circle cx="597.65" cy="1201.75" r="5.75"/><circle cx="615.31" cy="1201.75" r="5.75"/><circle cx="632.97" cy="1201.75" r="5.75"/><circle cx="650.63" cy="1201.75" r="5.75"/><circle cx="668.29" cy="1201.75" r="5.75"/><circle cx="685.96" cy="1201.75" r="5.75"/><circle cx="703.62" cy="1201.75" r="5.75"/><circle cx="721.28" cy="1201.75" r="5.75"/><circle cx="738.94" cy="1201.75" r="5.75"/><circle cx="756.60" cy="1201.75" r="5.75"/><circle cx="774.27" cy="1201.75" r="5.75"/><circle cx="827.25" cy="1201.75" r="5.75"/><circle cx="844.91" cy="1201.75" r="5.75"/><circle cx="862.58" cy="1201.75" r="5.75"/><circle cx="880.24" cy="1201.75" r="5.75"/><circle cx="897.90" cy="1201.75" r="5.75"/><circle cx="915.56" cy="1201.75" r="5.75"/><circle cx="933.22" cy="1201.75" r="5.75"/><circle cx="950.89" cy="1201.75" r="5.75"/><circle cx="968.55" cy="1201.75" r="5.75"/><circle cx="986.21" cy="1201.75" r="5.75"/><circle cx="1003.87" cy="1201.75" r="5.75"/><circle cx="1021.53" cy="1201.75" r="5.75"/><circle cx="1039.20" cy="1201.75" r="5.75"/><circle cx="1056.86" cy="1201.75" r="5.75"/><circle cx="1074.52" cy="1201.75" r="5.75"/><circle cx="1092.18" cy="1201.75" r="5.75"/><circle cx="1109.84" cy="1201.75" r="5.75"/><circle cx="1127.51" cy="1201.75" r="5.75"/><circle cx="1145.17" cy="1201.75" r="5.75"/><circle cx="1162.83" cy="1201.75" r="5.75"/><circle cx="1180.49" cy="1201.75" r="5.75"/><circle cx="1198.15" cy="1201.75" r="5.75"/><circle cx="1215.82" cy="1201.75" r="5.75"/><circle cx="1339.45" cy="1201.75" r="5.75"/><circle cx="1498.41" cy="1201.75" r="5.75"/><circle cx="1516.07" cy="1201.75" r="5.75"/><circle cx="1533.73" cy="1201.75" r="5.75"/><circle cx="1551.39" cy="1201.75" r="5.75"/><circle cx="1586.72" cy="1201.75" r="5.75"/><circle cx="1745.68" cy="1201.75" r="5.75"/><circle cx="1763.34" cy="1201.75" r="5.75"/><circle cx="1781.00" cy="1201.75" r="5.75"/><circle cx="1798.66" cy="1201.75" r="5.75"/><circle cx="1904.63" cy="1201.75" r="5.75"/><circle cx="1922.30" cy="1201.75" r="5.75"/><circle cx="1939.96" cy="1201.75" r="5.75"/><circle cx="1957.62" cy="1201.75" r="5.75"/><circle cx="2134.24" cy="1201.75" r="5.75"/><circle cx="2151.90" cy="1201.75" r="5.75"/><circle cx="2169.56" cy="1201.75" r="5.75"/><circle cx="2187.23" cy="1201.75" r="5.75"/><circle cx="2204.89" cy="1201.75" r="5.75"/><circle cx="2222.55" cy="1201.75" r="5.75"/><circle cx="2240.21" cy="1201.75" r="5.75"/></g>
<g fill="#00ff00"><circle cx="1233.48" cy="1201.75" r="5.75"/><circle cx="1251.14" cy="1201.75" r="5.75"/><circle cx="1268.80" cy="1201.75" r="5.75"/><circle cx="1286.46" cy="1201.75" r="5.75"/><circle cx="1304.13" cy="1201.75" r="5.75"/><circle cx="1321.79" cy="1201.75" r="5.75"/><circle cx="1569.06" cy="1201.75" r="5.75"/></g>
<g fill="#ff0000"><circle cx="14.80" cy="1216.50" r="5.75"/><circle cx="32.46" cy="1216.50" r="5.75"/><circle cx="50.12" cy="1216.50" r="5.75"/><circle cx="67.79" cy="1216.50" r="5.75"/><circle cx="209.08" cy="1216.50" r="5.75"/><circle cx="226.74" cy="1216.50" r="5.75"/><circle cx="244.41" cy="1216.50" r="5.75"/><circle cx="262.07" cy="1216.50" r="5.75"/><circle cx="279.73" cy="1216.50" r="5.75"/><circle cx="297.39" cy="1216.50" r="5.75"/><circle cx="315.05" cy="1216.50" r="5.75"/><circle cx="332.72" cy="1216.50" r="5.75"/><circle cx="350.38" cy="1216.50" r="5.75"/><circle cx="368.04" cy="1216.50" r="5.75"/><circle cx="527.00" cy="1216.50" r="5.75"/><circle cx="544.66" cy="1216.50" r="5.75"/><circle cx="562.32" cy="1216.50" r="5.75"/><circle cx="579.98" cy="1216.50" r="5.75"/><circle cx="597.65" cy="1216.50" r="5.75"/><circle cx="774.27" cy="1216.50" r="5.75"/><circle cx="791.93" cy="1216.50" r="5.75"/><circle cx="809.59" cy="1216.50" r="5.75"/><circle cx="827.25" cy="1216.50" r="5.75"/><circle cx="844.91" cy="1216.50" r="5.75"/><circle cx="1003.87" cy="1216.50" r="5.75"/><circle cx="1021.53" cy="1216.50" r="5.75"/><circle cx="1039.20" cy="1216.50" r="5.75"/><circle cx="1056.86" cy="1216.50" r="5.75"/><circle cx="1074.52" cy="1216.50" r="5.75"/><circle cx="1092.18" cy="1216.50" r="5.75"/><circle cx="1109.84" cy="1216.50" r="5.75"/><circle cx="1357.11" cy="1216.50" r="5.75"/><circle cx="1374.77" cy="1216.50" r="5.75"/><circle cx="1392.44" cy="1216.50" r="5.75"/><circle cx="1410.10" cy="1216.50" r="5.75"/><circle cx="1427.76" cy="1216.50" r="5.75"/><circle cx="1445.42" cy="1216.50" r="5.75"/><circle cx="1463.08" cy="1216.50" r="5.75"/><circle cx="1622.04" cy="1216.50" r="5.75"/><circle cx="1639.70" cy="1216.50" r="5.75"/><circle cx="1657.37" cy="1216.50" r="5.75"/><circle cx="1675.03" cy="1216.50" r="5.75"/><circle cx="1692.69" cy="1216.50" r="5.75"/><circle cx="1710.35" cy="1216.50" r="5.75"/><circle cx="1728.01" cy="1216.50" r="5.75"/><circle cx="1833.99" cy="1216.50" r="5.75"/><circle cx="1851.65" cy="1216.50" r="5.75"/><circle cx="1869.31" cy="1216.50" r="5.75"/><circle cx="1975.28" cy="1216.50" r="5.75"/><circle cx="1992.94" cy="1216.50" r="5.75"/><circle cx="2010.61" cy="1216.50" r="5.75"/><circle cx="2028.27" cy="1216.50" r="5.75"/><circle cx="2045.93" cy="1216.50" r="5.75"/><circle cx="2063.59" cy="1216.50" r="5.75"/><circle cx="2081.25" cy="1216.50" r="5.75"/><circle cx="2098.92" cy="1216.50" r="5.75"/><circle cx="2116.58" cy="1216.50" r="5.75"/></g>
<g fill="#000000"><circle cx="85.45" cy="1216.50" r="5.75"/><circle cx="103.11" cy="1216.50" r="5.75"/><circle cx="120.77" cy="1216.50" r="5.75"/><circle cx="138.43" cy="1216.50" r="5.75"/><circle cx="156.10" cy="1216.50" r="5.75"/><circle cx="173.76" cy="1216.50" r="5.75"/><circle cx="191.42" cy="1216.50" r="5.75"/><circle cx="385.70" cy="1216.50" r="5.75"/><circle cx="403.36" cy="1216.50" r="5.75"/><circle cx="421.03" cy="1216.50" r="5.75"/><circle cx="438.69" cy="1216.50" r="5.75"/><circle cx="456.35" cy="1216.50" r="5.75"/><circle cx="474.01" cy="1216.50" r="5.75"/><circle cx="491.67" cy="1216.50" r="5.75"/><circle cx="509.34" cy="1216.50" r="5.75"/><circle cx="615.31" cy="1216.50" r="5.75"/><circle cx="632.97" cy="1216.50" r="5.75"/><circle cx="650.63" cy="1216.50" r="5.75"/><circle cx="668.29" cy="1216.50" r="5.75"/><circle cx="685.96" cy="1216.50" r="5.75"/><circle cx="703.62" cy="1216.50" r="5.75"/><circle cx="721.28" cy="1216.50" r="5.75"/><circle cx="738.94" cy="1216.50" r="5.75"/><circle cx="756.60" cy="1216.50" r="5.75"/><circle cx="862.58" cy="1216.50" r="5.75"/><circle cx="880.24" cy="1216.50" r="5.75"/><circle cx="897.90" cy="1216.50" r="5.75"/><circle cx="968.55" cy="1216.50" r="5.75"/><circle cx="986.21" cy="1216.50" r="5.75"/><circle cx="1127.51" cy="1216.50" r="5.75"/><circle cx="1145.17" cy="1216.50" r="5.75"/><circle cx="1162.83" cy="1216.50" r="5.75"/><circle cx="1180.49" cy="1216.50" r="5.75"/><circle cx="1321.79" cy="1216.50" r="5.75"/><circle cx="1339.45" cy="1216.50" r="5.75"/><circle cx="1480.75" cy="1216.50" r="5.75"/><circle cx="1498.41" cy="1216.50" r="5.75"/><circle cx="1516.07" cy="1216.50" r="5.75"/><circle cx="1533.73" cy="1216.50" r="5.75"/><circle cx="1745.68" cy="1216.50" r="5.75"/><circle cx="1763.34" cy="1216.50" r="5.75"/><circle cx="1781.00" cy="1216.50" r="5.75"/><circle cx="1798.66" cy="1216.50" r="5.75"/><circle cx="1816.32" cy="1216.50" r="5.75"/><circle cx="1886.97" cy="1216.50" r="5.75"/><circle cx="1904.63" cy="1216.50" r="5.75"/><circle cx="1922.30" cy="1216.50" r="5.75"/><circle cx="1939.96" cy="1216.50" r="5.75"/><circle cx="1957.62" cy="1216.50" r="5.75"/><circle cx="2134.24" cy="1216.50" r="5.75"/><circle cx="2151.90" cy="1216.50" r="5.75"/><circle cx="2169.56" cy="1216.50" r="5.75"/><circle cx="2187.23" cy="1216.50" r="5.75"/><circle cx="2204.89" cy="1216.50" r="5.75"/><circle cx="2222.55" cy="1216.50" r="5.75"/><circle cx="2240.21" cy="1216.50" r="5.75"/></g>
<g fill="#00ff00"><circle cx="915.56" cy="1216.50" r="5.75"/><circle cx="933.22" cy="1216.50" r="5.75"/><circle cx="950.89" cy="1216.50" r="5.75"/><circle cx="1198.15" cy="1216.50" r="5.75"/><circle cx="1215.82" cy="1216.50" r="5.75"/><circle cx="1233.48" cy="1216.50" r="5.75"/><circle cx="1251.14" cy="1216.50" r="5.75"/><circle cx="1268.80" cy="1216.50" r="5.75"/><circle cx="1286.46" cy="1216.50" r="5.75"/><circle cx="1304.13" cy="1216.50" r="5.75"/><circle cx="1551.39" cy="1216.50" r="5.75"/><circle cx="1569.06" cy="1216.50" r="5.75"/><circle cx="1586.72" cy="1216.50" r="5.75"/><circle cx="1604.38" cy="1216.50" r="5.75"/></g>
<g fill="#ff0000"><circle cx="14.80" cy="1231.25" r="5.75"/><circle cx="32.46" cy="1231.25" r="5.75"/><circle cx="50.12" cy="1231.25" r="5.75"/><circle cx="67.79" cy="1231.25" r="5.75"/><circle cx="85.45" cy="1231.25" r="5.75"/><circle cx="103.11" cy="1231.25" r="5.75"/><circle cx="120.77" cy="1231.25" r="5.75"/><circle cx="138.43" cy="1231.25" r="5.75"/><circle cx="156.10" cy="1231.25" r="5.75"/><circle cx="173.76" cy="1231.25" r="5.75"/><circle cx="191.42" cy="1231.25" r="5.75"/><circle cx="209.08" cy="1231.25" r="5.75"/><circle cx="226.74" cy="1231.25" r="5.75"/><circle cx="244.41" cy="1231.25" r="5.75"/><circle cx="262.07" cy="1231.25" r="5.75"/><circle cx="279.73" cy="1231.25" r="5.75"/><circle cx="297.39" cy="1231.25" r="5.75"/><circle cx="315.05" cy="1231.25" r="5.75"/><circle cx="332.72" cy="1231.25" r="5.75"/><circle cx="350.38" cy="1231.25" r="5.75"/><circle cx="368.04" cy="1231.25" r="5.75"/><circle cx="385.70" cy="1231.25" r="5.75"/><circle cx="403.36" cy="1231.25" r="5.75"/><circle cx="421.03" cy="1231.25" r="5.75"/><circle cx="438.69" cy="1231.25" r="5.75"/><circle cx="456.35" cy="1231.25" r="5.75"/><circle cx="474.01" cy="1231.25" r="5.75"/><circle cx="491.67" cy="1231.25" r="5.75"/><circle cx="509.34" cy="1231.25" r="5.75"/><circle cx="527.00" cy="1231.25" r="5.75"/><circle cx="544.66" cy="1231.25" r="5.75"/><circle cx="562.32" cy="1231.25" r="5.75"/><circle cx="579.98" cy="1231.25" r="5.75"/><circle cx="597.65" cy="1231.25" r="5.75"/><circle cx="615.31" cy="1231.25" r="5.75"/><circle cx="632.97" cy="1231.25" r="5.75"/><circle cx="650.63" cy="1231.25" r="5.75"/><circle cx="668.29" cy="1231.25" r="5.75"/><circle cx="685.96" cy="1231.25" r="5.75"/><circle cx="703.62" cy="1231.25" r="5.75"/><circle cx="721.28" cy="1231.25" r="5.75"/><circle cx="738.94" cy="1231.25" r="5.75"/><circle cx="756.60" cy="1231.25" r="5.75"/><circle cx="774.27" cy="1231.25" r="5.75"/><circle cx="791.93" cy="1231.25" r="5.75"/><circle cx="809.59" cy="1231.25" r="5.75"/><circle cx="827.25" cy="1231.25" r="5.75"/><circle cx="844.91" cy="1231.25" r="5.75"/><circle cx="862.58" cy="1231.25" r="5.75"/><circle cx="880.24" cy="1231.25" r="5.75"/><circle cx="897.90" cy="1231.25" r="5.75"/><circle cx="915.56" cy="1231.25" r="5.75"/><circle cx="933.22" cy="1231.25" r="5.75"/><circle cx="950.89" cy="1231.25" r="5.75"/><circle cx="968.55" cy="1231.25" r="5.75"/><circle cx="986.21" cy="1231.25" r="5.75"/><circle cx="1003.87" cy="1231.25" r="5.75"/><circle cx="1021.53" cy="1231.25" r="5.75"/><circle cx="1039.20" cy="1231.25" r="5.75"/><circle cx="1056.86" cy="1231.25" r="5.75"/><circle cx="1074.52" cy="1231.25" r="5.75"/><circle cx="1092.18" cy="1231.25" r="5.75"/><circle cx="1109.84" cy="1231.25" r="5.75"/><circle cx="1127.51" cy="1231.25" r="5.75"/><circle cx="1145.17" cy="1231.25" r="5.75"/><circle cx="1162.83" cy="1231.25" r="5.75"/><circle cx="1180.49" cy="1231.25" r="5.75"/><circle cx="1198.15" cy="1231.25" r="5.75"/><circle cx="1215.82" cy="1231.25" r="5.75"/><circle cx="1374.77" cy="1231.25" r="5.75"/><circle cx="1392.44" cy="1231.25" r="5.75"/><circle cx="1410.10" cy="1231.25" r="5.75"/><circle cx="1427.76" cy="1231.25" r="5.75"/><circle cx="1445.42" cy="1231.25" r="5.75"/><circle cx="1463.08" cy="1231.25" r="5.75"/><circle cx="1480.75" cy="1231.25" r="5.75"/><circle cx="1498.41" cy="1231.25" r="5.75"/><circle cx="1516.07" cy="1231.25" r="5.75"/><circle cx="1533.73" cy="1231.25" r="5.75"/><circle cx="1551.39" cy="1231.25" r="5.75"/><circle cx="1586.72" cy="1231.25" r="5.75"/><circle cx="1604.38" cy="1231.25" r="5.75"/><circle cx="1622.04" cy="1231.25" r="5.75"/><circle cx="1639.70" cy="1231.25" r="5.75"/><circle cx="1657.37" cy="1231.25" r="5.75"/><circle cx="1675.03" cy="1231.25" r="5.75"/><circle cx="1692.69" cy="1231.25" r="5.75"/><circle cx="1710.35" cy="1231.25" r="5.75"/><circle cx="1728.01" cy="1231.25" r="5.75"/><circle cx="1745.68" cy="1231.25" r="5.75"/><circle cx="1763.34" cy="1231.25" r="5.75"/><circle cx="1781.00" cy="1231.25" r="5.75"/><circle cx="1798.66" cy="1231.25" r="5.75"/><circle cx="1816.32" cy="1231.25" r="5.75"/><circle cx="1833.99" cy="1231.25" r="5.75"/><circle cx="1851.65" cy="1231.25" r="5.75"/><circle cx="1869.31" cy="1231.25" r="5.75"/><circle cx="1886.97" cy="1231.25" r="5.75"/><circle cx="1904.63" cy="1231.25" r="5.75"/><circle cx="1922.30" cy="1231.25" r="5.75"/><circle cx="1939.96" cy="1231.25" r="5.75"/><circle cx="1957.62" cy="1231.25" r="5.75"/><circle cx="1975.28" cy="1231.25" r="5.75"/><circle cx="1992.94" cy="1231.25" r="5.75"/><circle cx="2010.61" cy="1231.25" r="5.75"/><circle cx="2028.27" cy="1231.25" r="5.75"/><circle cx="2045.93" cy="1231.25" r="5.75"/><circle cx="2063.59" cy="1231.25" r="5.75"/><circle cx="2081.25" cy="1231.25" r="5.75"/><circle cx="2098.92" cy="1231.25" r="5.75"/><circle cx="2116.58" cy="1231.25" r="5.75"/><circle cx="2134.24" cy="1231.25" r="5.75"/><circle cx="2151.90" cy="1231.25" r="5.75"/><circle cx="2169.56" cy="1231.25" r="5.75"/><circle cx="2187.23" cy="1231.25" r="5.75"/><circle cx="2204.89" cy="1231.25" r="5.75"/><circle cx="2222.55" cy="1231.25" r="5.75"/><circle cx="2240.21" cy="1231.25" r="5.75"/></g>
<g fill="#ffff00"><circle cx="1233.48" cy="1231.25" r="5.75"/><circle cx="1251.14" cy="1231.25" r="5.75"/><circle cx="1569.06" cy="1231.25" r="5.75"/></g>
<g fill="#00ff00"><circle cx="1268.80" cy="1231.25" r="5.75"/><circle cx="1286.46" cy="1231.25" r="5.75"/><circle cx="1304.13" cy="1231.25" r="5.75"/><circle cx="1321.79" cy="1231.25" r="5.75"/><circle cx="1339.45" cy="1231.25" r="5.75"/></g>
<g fill="#000000"><circle cx="1357.11" cy="1231.25" r="5.75"/></g>
<circle cx="14.80" cy="1121.25" r="5.6" fill="#800000"/>
<circle cx="32.46" cy="1121.25" r="5.6" fill="#800000"/>
<circle cx="50.12" cy="1121.25" r="5.6" fill="#800000"/>
<circle cx="67.79" cy="1121.25" r="4.1" fill="#000000"/>
<circle cx="85.45" cy="1121.25" r="4.1" fill="#000000"/>
<circle cx="103.11" cy="1121.25" r="4.1" fill="#000000"/>
<circle cx="120.77" cy="1121.25" r="4.1" fill="#000000"/>
<circle cx="138.43" cy="1121.25" r="4.1" fill="#000000"/>
<circle cx="156.10" cy="1121.25" r="4.1" fill="#ff0000"/>
<circle cx="173.76" cy="1121.25" r="4.1" fill="#ff0000"/>
<circle cx="191.42" cy="1121.25" r="4.1" fill="#ff0000"/>
<circle cx="209.08" cy="1121.25" r="4.1" fill="#ff0000"/>
<circle cx="226.74" cy="1121.25" r="4.1" fill="#ff0000"/>
<circle cx="244.41" cy="1121.25" r="4.1" fill="#ff0000"/>
<circle cx="262.07" cy="1121.25" r="4.1" fill="#ff0000"/>
<circle cx="279.73" cy="1121.25" r="4.1" fill="#ff0000"/>
<circle cx="297.39" cy="1121.25" r="5.6" fill="#800000"/>
<circle cx="315.05" cy="1121.25" r="5.6" fill="#800000"/>
<circle cx="332.72" cy="1121.25" r="5.6" fill="#800000"/>
<circle cx="350.38" cy="1121.25" r="5.6" fill="#800000"/>
<circle cx="368.04" cy="1121.25" r="4.1" fill="#000000"/>
<circle cx="385.70" cy="1121.25" r="4.1" fill="#000000"/>
<circle cx="403.36" cy="1121.25" r="4.1" fill="#000000"/>
<circle cx="421.03" cy="1121.25" r="4.1" fill="#000000"/>
<circle cx="438.69" cy="1121.25" r="4.1" fill="#000000"/>
<circle cx="456.35" cy="1121.25" r="4.1" fill="#000000"/>
<circle cx="474.01" cy="1121.25" r="4.1" fill="#000000"/>
<circle cx="491.67" cy="1121.25" r="4.1" fill="#ff0000"/>
<circle cx="509.34" cy="1121.25" r="4.1" fill="#ff0000"/>
<circle cx="527.00" cy="1121.25" r="4.1" fill="#ff0000"/>
<circle cx="544.66" cy="1121.25" r="4.1" fill="#ff0000"/>
<circle cx="562.32" cy="1121.25" r="4.1" fill="#000000"/>
<circle cx="579.98" cy="1121.25" r="4.1" fill="#000000"/>
<circle cx="597.65" cy="1121.25" r="4.1" fill="#000000"/>
<circle cx="615.31" cy="1121.25" r="4.1" fill="#000000"/>
<circle cx="632.97" cy="1121.25" r="4.1" fill="#000000"/>
<circle cx="650.63" cy="1121.25" r="4.1" fill="#000000"/>
<circle cx="668.29" cy="1121.25" r="4.1" fill="#000000"/>
<circle cx="685.96" cy="1121.25" r="4.1" fill="#000000"/>
<circle cx="703.62" cy="1121.25" r="4.1" fill="#000000"/>
<circle cx="721.28" cy="1121.25" r="4.1" fill="#000000"/>
<circle cx="738.94" cy="1121.25" r="4.1" fill="#000000"/>
<circle cx="756.60" cy="1121.25" r="4.1" fill="#ff0000"/>
<circle cx="774.27" cy="1121.25" r="4.1" fill="#ff0000"/>
<circle cx="791.93" cy="1121.25" r="4.1" fill="#ff0000"/>
<circle cx="809.59" cy="1121.25" r="4.1" fill="#000000"/>
<circle cx="827.25" cy="1121.25" r="4.1" fill="#000000"/>
<circle cx="844.91" cy="1121.25" r="4.1" fill="#000000"/>
<circle cx="862.58" cy="1121.25" r="4.1" fill="#000000"/>
<circle cx="880.24" cy="1121.25" r="4.1" fill="#000000"/>
<circle cx="897.90" cy="1121.25" r="4.1" fill="#000000"/>
<circle cx="915.56" cy="1121.25" r="4.1" fill="#000000"/>
<circle cx="933.22" cy="1121.25" r="4.1" fill="#ff0000"/>
<circle cx="950.89" cy="1121.25" r="4.1" fill="#ff0000"/>
<circle cx="968.55" cy="1121.25" r="4.1" fill="#ff0000"/>
<circle cx="986.21" cy="1121.25" r="4.1" fill="#000000"/>
<circle cx="1003.87" cy="1121.25" r="4.1" fill="#000000"/>
<circle cx="1021.53" cy="1121.25" r="4.1" fill="#000000"/>
<circle cx="1039.20" cy="1121.25" r="4.1" fill="#000000"/>
<circle cx="1056.86" cy="1121.25" r="4.1" fill="#000000"/>
<circle cx="1074.52" cy="1121.25" r="4.1" fill="#ff0000"/>
<circle cx="1092.18" cy="1121.25" r="4.1" fill="#ff0000"/>
<circle cx="1109.84" cy="1121.25" r="4.1" fill="#000000"/>
<circle cx="1127.51" cy="1121.25" r="4.1" fill="#000000"/>
<circle cx="1145.17" cy="1121.25" r="4.1" fill="#000000"/>
<circle cx="1162.83" cy="1121.25" r="4.1" fill="#000000"/>
<circle cx="1180.49" cy="1121.25" r="4.1" fill="#000000"/>
<circle cx="1198.15" cy="1121.25" r="4.1" fill="#00ff00"/>
<circle cx="1215.82" cy="1121.25" r="4.1" fill="#000000"/>
<circle cx="1233.48" cy="1121.25" r="4.1" fill="#00ff00"/>
<circle cx="1251.14" cy="1121.25" r="4.1" fill="#00ff00"/>
<circle cx="1268.80" cy="1121.25" r="4.1" fill="#00ff00"/>
<circle cx="1286.46" cy="1121.25" r="4.1" fill="#00ff00"/>
<circle cx="1304.13" cy="1121.25" r="4.1" fill="#000000"/>
<circle cx="1321.79" cy="1121.25" r="4.1" fill="#000000"/>
<circle cx="1339.45" cy="1121.25" r="5.6" fill="#800000"/>
<circle cx="1357.11" cy="1121.25" r="5.6" fill="#800000"/>
<circle cx="1374.77" cy="1121.25" r="4.1" fill="#ff0000"/>
<circle cx="1392.44" cy="1121.25" r="5.6" fill="#800000"/>
<circle cx="1410.10" cy="1121.25" r="5.6" fill="#800000"/>
<circle cx="1427.76" cy="1121.25" r="4.1" fill="#ff0000"/>
<circle cx="1445.42" cy="1121.25" r="4.1" fill="#ff0000"/>
<circle cx="1463.08" cy="1121.25" r="5.6" fill="#800000"/>
<circle cx="1480.75" cy="1121.25" r="4.1" fill="#000000"/>
<circle cx="1498.41" cy="1121.25" r="4.1" fill="#000000"/>
<circle cx="1516.07" cy="1121.25" r="4.1" fill="#000000"/>
<circle cx="1533.73" cy="1121.25" r="4.1" fill="#000000"/>
<circle cx="1551.39" cy="1121.25" r="4.1" fill="#000000"/>
<circle cx="1569.06" cy="1121.25" r="4.1" fill="#000000"/>
<circle cx="1586.72" cy="1121.25" r="4.1" fill="#000000"/>
<circle cx="1604.38" cy="1121.25" r="5.6" fill="#800000"/>
<circle cx="1622.04" cy="1121.25" r="5.6" fill="#800000"/>
<circle cx="1639.70" cy="1121.25" r="5.6" fill="#800000"/>
<circle cx="1657.37" cy="1121.25" r="5.6" fill="#800000"/>
<circle cx="1675.03" cy="1121.25" r="5.6" fill="#800000"/>
<circle cx="1692.69" cy="1121.25" r="4.1" fill="#ff0000"/>
<circle cx="1710.35" cy="1121.25" r="4.1" fill="#ff0000"/>
<circle cx="1728.01" cy="1121.25" r="4.1" fill="#000000"/>
<circle cx="1745.68" cy="1121.25" r="4.1" fill="#000000"/>
<circle cx="1763.34" cy="1121.25" r="4.1" fill="#000000"/>
<circle cx="1781.00" cy="1121.25" r="4.1" fill="#ff0000"/>
<circle cx="1798.66" cy="1121.25" r="4.1" fill="#ff0000"/>
<circle cx="1816.32" cy="1121.25" r="4.1" fill="#ff0000"/>
<circle cx="1833.99" cy="1121.25" r="4.1" fill="#ff0000"/>
<circle cx="1851.65" cy="1121.25" r="4.1" fill="#ff0000"/>
<circle cx="1869.31" cy="1121.25" r="4.1" fill="#ff0000"/>
<circle cx="1886.97" cy="1121.25" r="4.1" fill="#000000"/>
<circle cx="1904.63" cy="1121.25" r="4.1" fill="#ff0000"/>
<circle cx="1922.30" cy="1121.25" r="4.1" fill="#ff0000"/>
<circle cx="1939.96" cy="1121.25" r="4.1" fill="#ff0000"/>
<circle cx="1957.62" cy="1121.25" r="4.1" fill="#ff0000"/>
<circle cx="1975.28" cy="1121.25" r="4.1" fill="#ff0000"/>
<circle cx="1992.94" cy="1121.25" r="4.1" fill="#ff0000"/>
<circle cx="2010.61" cy="1121.25" r="4.1" fill="#ff0000"/>
<circle cx="2028.27" cy="1121.25" r="5.6" fill="#800000"/>
<circle cx="2045.93" cy="1121.25" r="5.6" fill="#800000"/>
<circle cx="2063.59" cy="1121.25" r="4.1" fill="#ff0000"/>
<circle cx="2081.25" cy="1121.25" r="5.6" fill="#800000"/>
<circle cx="2098.92" cy="1121.25" r="4.1" fill="#ff0000"/>
<circle cx="2116.58" cy="1121.25" r="4.1" fill="#ff0000"/>
<circle cx="2134.24" cy="1121.25" r="4.1" fill="#ff0000"/>
<circle cx="2151.90" cy="1121.25" r="4.1" fill="#ff0000"/>
<circle cx="2169.56" cy="1121.25" r="4.1" fill="#000000"/>
<circle cx="2187.23" cy="1121.25" r="4.1" fill="#ff0000"/>
<circle cx="2204.89" cy="1121.25" r="4.1" fill="#000000"/>
<circle cx="2222.55" cy="1121.25" r="4.1" fill="#000000"/>
<circle cx="2240.21" cy="1121.25" r="4.1" fill="#ff0000"/>
<text x="1043.5" y="1110.5" font-size="15.5" fill="#131722" textLength="202.0" lengthAdjust="spacingAndGlyphs" >ICE Trading Deluxe Big Point</text>
<text x="888.0" y="1146.0" font-size="15.5" fill="#131722" textLength="514.0" lengthAdjust="spacingAndGlyphs" >Von oben: Status / Kerzenfarbe / Wolkenfarbe / Trend / Setter / Welle</text>
<path d="M5 1254.50H2425" stroke="#66ff66" stroke-width="1" stroke-dasharray="5 4.2"/>
<path d="M5 1260.75H2425" stroke="#8cff8c" stroke-width="1" stroke-dasharray="5 4.2"/>
<path d="M5 1267.00H2425" stroke="#b3ffb3" stroke-width="1" stroke-dasharray="5 4.2"/>
<path d="M5 1273.25H2425" stroke="#d6ffd6" stroke-width="1" stroke-dasharray="5 4.2"/>
<path d="M5 1278.00H2425" stroke="#e6e6e6" stroke-width="1" stroke-dasharray="5 4.2"/>
<path d="M5 1284.25H2425" stroke="#ffc9c9" stroke-width="1" stroke-dasharray="5 4.2"/>
<path d="M5 1290.00H2425" stroke="#ff9c9c" stroke-width="1" stroke-dasharray="5 4.2"/>
<path d="M5 1296.50H2425" stroke="#ff6b6b" stroke-width="1" stroke-dasharray="5 4.2"/>
<path d="M5 1302.50H2425" stroke="#ff4040" stroke-width="1" stroke-dasharray="5 4.2"/>
<clipPath id="c1"><rect x="1000" y="1245.3" width="300" height="10"/></clipPath>
<g clip-path="url(#c1)">
<text x="1095.0" y="1249.0" font-size="15.5" fill="#131722" textLength="97.0" lengthAdjust="spacingAndGlyphs" >ICE DNA Code</text>
</g>
<clipPath id="c2"><rect x="1000" y="1308.8" width="300" height="10"/></clipPath>
<g clip-path="url(#c2)">
<text x="1045.0" y="1312.0" font-size="15.5" fill="#131722" textLength="198.0" lengthAdjust="spacingAndGlyphs" >Momentum Status Indikator</text>
</g>
<circle cx="50.12" cy="1278.00" r="5.5" fill="#ffc107"/>
<circle cx="67.79" cy="1260.75" r="3" fill="#00ff00"/>
<circle cx="67.79" cy="1267.00" r="5.5" fill="#0000ff"/>
<circle cx="85.45" cy="1267.00" r="5.5" fill="#0000ff"/>
<circle cx="85.45" cy="1273.25" r="5.5" fill="#00e5ff"/>
<circle cx="120.77" cy="1267.00" r="4.6" fill="#909090" stroke="#0000ff" stroke-width="1.8"/>
<circle cx="156.10" cy="1284.25" r="5.5" fill="#ff00ff"/>
<circle cx="173.76" cy="1278.00" r="2.5" fill="#00e5ff"/>
<circle cx="173.76" cy="1290.00" r="5.5" fill="#0000ff"/>
<circle cx="173.76" cy="1296.50" r="2.5" fill="#ff0000"/>
<circle cx="209.08" cy="1290.00" r="5.5" fill="#0000ff"/>
<circle cx="226.74" cy="1290.00" r="4.6" fill="#909090" stroke="#0000ff" stroke-width="1.8"/>
<circle cx="244.41" cy="1278.00" r="5.5" fill="#006e00"/>
<circle cx="244.41" cy="1290.00" r="5.5" fill="#0000ff"/>
<circle cx="262.07" cy="1290.00" r="5.5" fill="#0000ff"/>
<circle cx="297.39" cy="1290.00" r="5.5" fill="#0000ff"/>
<circle cx="332.72" cy="1278.00" r="5.5" fill="#006e00"/>
<circle cx="350.38" cy="1260.75" r="5.5" fill="#f57ef0"/>
<circle cx="368.04" cy="1278.00" r="5.5" fill="#ffc107"/>
<circle cx="385.70" cy="1260.75" r="3" fill="#00ff00"/>
<circle cx="385.70" cy="1267.00" r="5.5" fill="#0000ff"/>
<circle cx="403.36" cy="1273.25" r="5.5" fill="#00e5ff"/>
<circle cx="421.03" cy="1267.00" r="5.5" fill="#0000ff"/>
<circle cx="438.69" cy="1267.00" r="4.6" fill="#909090" stroke="#0000ff" stroke-width="1.8"/>
<circle cx="456.35" cy="1273.25" r="5.5" fill="#00ff00"/>
<circle cx="491.67" cy="1284.25" r="5.5" fill="#ff00ff"/>
<circle cx="491.67" cy="1296.50" r="5.5" fill="#f57ef0"/>
<circle cx="509.34" cy="1278.00" r="5.5" fill="#006e00"/>
<circle cx="509.34" cy="1290.00" r="5.5" fill="#0000ff"/>
<circle cx="509.34" cy="1296.50" r="2.5" fill="#ff0000"/>
<circle cx="544.66" cy="1290.00" r="5.5" fill="#0000ff"/>
<circle cx="579.98" cy="1284.25" r="5.5" fill="#ff0000"/>
<circle cx="597.65" cy="1253.75" r="5.5" fill="#444"/>
<circle cx="597.65" cy="1260.75" r="3" fill="#00ff00"/>
<circle cx="597.65" cy="1278.00" r="5.5" fill="#ffc107"/>
<circle cx="632.97" cy="1267.00" r="5.5" fill="#0000ff"/>
<circle cx="632.97" cy="1273.25" r="5.5" fill="#00e5ff"/>
<circle cx="668.29" cy="1267.00" r="4.6" fill="#909090" stroke="#0000ff" stroke-width="1.8"/>
<circle cx="738.94" cy="1296.50" r="5.5" fill="#f57ef0"/>
<circle cx="756.60" cy="1284.25" r="5.5" fill="#ff00ff"/>
<circle cx="774.27" cy="1290.00" r="5.5" fill="#0000ff"/>
<circle cx="774.27" cy="1296.50" r="2.5" fill="#ff0000"/>
<circle cx="791.93" cy="1278.00" r="5.5" fill="#006e00"/>
<circle cx="827.25" cy="1253.75" r="5.5" fill="#444"/>
<circle cx="827.25" cy="1260.75" r="5" fill="#00ff00"/>
<circle cx="827.25" cy="1278.00" r="5.5" fill="#ffc107"/>
<circle cx="844.91" cy="1267.00" r="5.5" fill="#0000ff"/>
<circle cx="862.58" cy="1273.25" r="5.5" fill="#00e5ff"/>
<circle cx="880.24" cy="1267.00" r="5.5" fill="#0000ff"/>
<circle cx="897.90" cy="1267.00" r="4.6" fill="#909090" stroke="#0000ff" stroke-width="1.8"/>
<circle cx="933.22" cy="1284.25" r="5.5" fill="#ff00ff"/>
<circle cx="950.89" cy="1296.50" r="5.5" fill="#f57ef0"/>
<circle cx="968.55" cy="1296.50" r="2.5" fill="#ff0000"/>
<circle cx="986.21" cy="1253.75" r="5.5" fill="#444"/>
<circle cx="986.21" cy="1278.00" r="5.5" fill="#ffc107"/>
<circle cx="1003.87" cy="1284.25" r="5.5" fill="#ff00ff"/>
<circle cx="1021.53" cy="1253.75" r="5.5" fill="#444"/>
<circle cx="1021.53" cy="1260.75" r="3" fill="#00ff00"/>
<circle cx="1021.53" cy="1278.00" r="5.5" fill="#ffc107"/>
<circle cx="1021.53" cy="1284.25" r="5.5" fill="#ff0000"/>
<circle cx="1039.20" cy="1284.25" r="5.5" fill="#ff00ff"/>
<circle cx="1056.86" cy="1253.75" r="5.5" fill="#444"/>
<circle cx="1056.86" cy="1278.00" r="5.5" fill="#ffc107"/>
<circle cx="1074.52" cy="1284.25" r="5.5" fill="#ff00ff"/>
<circle cx="1092.18" cy="1290.00" r="5.5" fill="#0000ff"/>
<circle cx="1092.18" cy="1296.50" r="5.5" fill="#006e00"/><circle cx="1092.18" cy="1296.50" r="2.5" fill="#ff0000"/>
<circle cx="1109.84" cy="1253.75" r="5.5" fill="#000000"/>
<circle cx="1109.84" cy="1260.75" r="3" fill="#00ff00"/>
<circle cx="1109.84" cy="1278.00" r="5.5" fill="#ffc107"/>
<circle cx="1127.51" cy="1260.75" r="5.5" fill="#006e00"/>
<circle cx="1127.51" cy="1267.00" r="5.5" fill="#0000ff"/>
<circle cx="1145.17" cy="1273.25" r="5.5" fill="#00e5ff"/>
<circle cx="1145.17" cy="1277.00" r="2.5" fill="#00e5ff"/>
<circle cx="1215.82" cy="1260.75" r="5.5" fill="#006e00"/>
<circle cx="1233.48" cy="1267.00" r="5.5" fill="#0000ff"/>
<circle cx="1233.48" cy="1273.25" r="5.5" fill="#0000ff"/>
<circle cx="1268.80" cy="1278.00" r="5.5" fill="#ff0000"/>
<circle cx="1321.79" cy="1277.00" r="5.5" fill="#ffc107"/>
<circle cx="1321.79" cy="1284.25" r="5.5" fill="#ff0000"/>
<circle cx="1321.79" cy="1296.50" r="5.5" fill="#f57ef0"/>
<circle cx="1339.45" cy="1290.00" r="5.5" fill="#0000ff"/>
<circle cx="1339.45" cy="1296.50" r="2.5" fill="#ff0000"/>
<circle cx="1357.11" cy="1277.00" r="5.5" fill="#006e00"/>
<circle cx="1357.11" cy="1283.75" r="5.5" fill="#0000ff"/>
<circle cx="1357.11" cy="1290.00" r="5.5" fill="#0000ff"/>
<circle cx="1374.77" cy="1290.00" r="5.5" fill="#0000ff"/>
<circle cx="1392.44" cy="1290.00" r="4.6" fill="#909090" stroke="#0000ff" stroke-width="1.8"/>
<circle cx="1410.10" cy="1277.00" r="5.5" fill="#006e00"/>
<circle cx="1410.10" cy="1284.25" r="5.5" fill="#ff0000"/>
<circle cx="1445.42" cy="1260.75" r="5.5" fill="#f57ef0"/>
<circle cx="1445.42" cy="1278.00" r="5.5" fill="#ffc107"/>
<circle cx="1463.08" cy="1284.25" r="5.5" fill="#ff00ff"/>
<circle cx="1480.75" cy="1260.75" r="3" fill="#00ff00"/>
<circle cx="1480.75" cy="1278.00" r="5.5" fill="#ffc107"/>
<circle cx="1498.41" cy="1260.75" r="5.5" fill="#006e00"/>
<circle cx="1516.07" cy="1267.00" r="5.5" fill="#0000ff"/>
<circle cx="1516.07" cy="1273.75" r="5.5" fill="#00e5ff"/>
<circle cx="1533.73" cy="1278.00" r="2.5" fill="#00e5ff"/>
<circle cx="1551.39" cy="1267.00" r="4.5" fill="#888888"/>
<circle cx="1569.06" cy="1272.50" r="5.5" fill="#0000ff"/>
<circle cx="1586.72" cy="1284.25" r="5.5" fill="#0000ff"/>
<circle cx="1604.38" cy="1290.00" r="5.5" fill="#0000ff"/>
<circle cx="1604.38" cy="1296.50" r="2.5" fill="#ff0000"/>
<circle cx="1622.04" cy="1290.00" r="5.5" fill="#0000ff"/>
<circle cx="1639.70" cy="1290.00" r="5.5" fill="#0000ff"/>
<circle cx="1657.37" cy="1290.00" r="4.5" fill="#888888"/>
<circle cx="1710.35" cy="1260.75" r="5.5" fill="#f57ef0"/>
<circle cx="1710.35" cy="1278.00" r="5.5" fill="#ffc107"/>
<circle cx="1728.01" cy="1260.75" r="3" fill="#00ff00"/>
<circle cx="1745.68" cy="1272.50" r="5.5" fill="#00e5ff"/>
<circle cx="1763.34" cy="1267.00" r="5.5" fill="#0000ff"/>
<circle cx="1798.66" cy="1284.25" r="5.5" fill="#ff0000"/>
<circle cx="1816.32" cy="1284.25" r="5.5" fill="#ff00ff"/>
<circle cx="1816.32" cy="1296.50" r="2.5" fill="#ff0000"/>
<circle cx="1851.65" cy="1290.00" r="5.5" fill="#0000ff"/>
<circle cx="1869.31" cy="1278.00" r="5.5" fill="#006e00"/>
<circle cx="1886.97" cy="1253.75" r="5.5" fill="#000000"/>
<circle cx="1886.97" cy="1260.75" r="5.5" fill="#006e00"/><circle cx="1886.97" cy="1260.75" r="2.5" fill="#00ff00"/>
<circle cx="1886.97" cy="1278.00" r="5.5" fill="#ffc107"/>
<circle cx="1922.30" cy="1267.00" r="5.5" fill="#0000ff"/>
<circle cx="1922.30" cy="1273.75" r="5.5" fill="#00e5ff"/>
<circle cx="1957.62" cy="1284.25" r="5.5" fill="#ff00ff"/>
<circle cx="1975.28" cy="1278.00" r="5.5" fill="#006e00"/>
<circle cx="1975.28" cy="1296.50" r="2.5" fill="#ff0000"/>
<circle cx="1992.94" cy="1290.00" r="5.5" fill="#0000ff"/>
<circle cx="2010.61" cy="1290.00" r="5.5" fill="#0000ff"/>
<circle cx="2028.27" cy="1290.00" r="4.6" fill="#909090" stroke="#0000ff" stroke-width="1.8"/>
<circle cx="2063.59" cy="1278.00" r="4.4" fill="#00e5ff" stroke="#ffc107" stroke-width="2.4"/>
<circle cx="2081.25" cy="1284.25" r="5.5" fill="#ff00ff"/>
<circle cx="2116.58" cy="1260.75" r="5.5" fill="#006e00"/><circle cx="2116.58" cy="1260.75" r="2.5" fill="#00ff00"/>
<circle cx="2116.58" cy="1278.00" r="5.5" fill="#ffc107"/>
<circle cx="2134.24" cy="1284.25" r="5.5" fill="#ff0000"/>
<circle cx="2151.90" cy="1267.00" r="5.5" fill="#0000ff"/>
<circle cx="2151.90" cy="1273.75" r="5.5" fill="#00e5ff"/>
<circle cx="2169.56" cy="1267.00" r="5.5" fill="#0000ff"/>
<circle cx="2222.55" cy="1272.50" r="5.5" fill="#00ff00"/>
<circle cx="2222.55" cy="1284.25" r="5.5" fill="#ff0000"/>
<circle cx="2240.21" cy="1277.50" r="5.5" fill="#006e00"/>
<circle cx="2240.21" cy="1284.25" r="5.5" fill="#ff00ff"/>
<circle cx="14.80" cy="1324.25" r="5.75" fill="#00ff00"/>
<circle cx="32.46" cy="1324.25" r="5.75" fill="#00ff00"/>
<circle cx="50.12" cy="1324.25" r="5.75" fill="#00ff00"/>
<circle cx="67.79" cy="1324.25" r="5.75" fill="#00ff00"/>
<circle cx="85.45" cy="1324.25" r="5.75" fill="#00ff00"/>
<circle cx="103.11" cy="1324.25" r="5.75" fill="#00ff00"/>
<circle cx="120.77" cy="1324.25" r="5.75" fill="#00ff00"/>
<circle cx="138.43" cy="1324.25" r="5.75" fill="#00ff00"/>
<circle cx="156.10" cy="1324.25" r="5.75" fill="#ff0000"/>
<circle cx="173.76" cy="1324.25" r="5.75" fill="#ff0000"/>
<circle cx="191.42" cy="1324.25" r="5.75" fill="#ff0000"/>
<circle cx="209.08" cy="1324.25" r="5.75" fill="#ff0000"/>
<circle cx="226.74" cy="1324.25" r="5.75" fill="#ff0000"/><circle cx="226.74" cy="1324.25" r="2.5" fill="#00ff00"/>
<circle cx="244.41" cy="1324.25" r="5.75" fill="#ff0000"/><circle cx="244.41" cy="1324.25" r="2.5" fill="#00ff00"/>
<circle cx="262.07" cy="1324.25" r="5.75" fill="#ff0000"/><circle cx="262.07" cy="1324.25" r="2.5" fill="#00ff00"/>
<circle cx="279.73" cy="1324.25" r="5.75" fill="#ff0000"/><circle cx="279.73" cy="1324.25" r="2.5" fill="#00ff00"/>
<circle cx="297.39" cy="1324.25" r="5.75" fill="#ff0000"/><circle cx="297.39" cy="1324.25" r="2.5" fill="#00ff00"/>
<circle cx="315.05" cy="1324.25" r="5.75" fill="#ff0000"/><circle cx="315.05" cy="1324.25" r="2.5" fill="#00ff00"/>
<circle cx="332.72" cy="1324.25" r="5.75" fill="#ff0000"/><circle cx="332.72" cy="1324.25" r="2.5" fill="#00ff00"/>
<circle cx="350.38" cy="1324.25" r="5.75" fill="#00ff00"/>
<circle cx="368.04" cy="1324.25" r="5.75" fill="#00ff00"/>
<circle cx="385.70" cy="1324.25" r="5.75" fill="#00ff00"/>
<circle cx="403.36" cy="1324.25" r="5.75" fill="#00ff00"/>
<circle cx="421.03" cy="1324.25" r="5.75" fill="#00ff00"/>
<circle cx="438.69" cy="1324.25" r="5.75" fill="#00ff00"/>
<circle cx="456.35" cy="1324.25" r="5.75" fill="#ff0000"/>
<circle cx="474.01" cy="1324.25" r="5.75" fill="#ff0000"/>
<circle cx="491.67" cy="1324.25" r="5.75" fill="#ff0000"/>
<circle cx="509.34" cy="1324.25" r="5.75" fill="#ff0000"/>
<circle cx="527.00" cy="1324.25" r="5.75" fill="#ff0000"/>
<circle cx="544.66" cy="1324.25" r="5.75" fill="#ff0000"/><circle cx="544.66" cy="1324.25" r="2.5" fill="#00ff00"/>
<circle cx="562.32" cy="1324.25" r="5.75" fill="#ff0000"/><circle cx="562.32" cy="1324.25" r="2.5" fill="#00ff00"/>
<circle cx="579.98" cy="1324.25" r="5.75" fill="#ff0000"/><circle cx="579.98" cy="1324.25" r="2.5" fill="#00ff00"/>
<circle cx="597.65" cy="1324.25" r="5.75" fill="#00ff00"/>
<circle cx="615.31" cy="1324.25" r="5.75" fill="#00ff00"/>
<circle cx="632.97" cy="1324.25" r="5.75" fill="#00ff00"/>
<circle cx="650.63" cy="1324.25" r="5.75" fill="#00ff00"/>
<circle cx="668.29" cy="1324.25" r="5.75" fill="#00ff00"/>
<circle cx="685.96" cy="1324.25" r="5.75" fill="#00ff00"/>
<circle cx="703.62" cy="1324.25" r="5.75" fill="#00ff00"/>
<circle cx="721.28" cy="1324.25" r="5.75" fill="#ff0000"/>
<circle cx="738.94" cy="1324.25" r="5.75" fill="#ff0000"/>
<circle cx="756.60" cy="1324.25" r="5.75" fill="#ff0000"/>
<circle cx="774.27" cy="1324.25" r="5.75" fill="#ff0000"/>
<circle cx="791.93" cy="1324.25" r="5.75" fill="#ff0000"/>
<circle cx="809.59" cy="1324.25" r="5.75" fill="#00ff00"/>
<circle cx="827.25" cy="1324.25" r="5.75" fill="#00ff00"/>
<circle cx="844.91" cy="1324.25" r="5.75" fill="#00ff00"/>
<circle cx="862.58" cy="1324.25" r="5.75" fill="#00ff00"/>
<circle cx="880.24" cy="1324.25" r="5.75" fill="#00ff00"/>
<circle cx="897.90" cy="1324.25" r="5.75" fill="#00ff00"/>
<circle cx="915.56" cy="1324.25" r="5.75" fill="#00ff00"/><circle cx="915.56" cy="1324.25" r="2.5" fill="#ff0000"/>
<circle cx="933.22" cy="1324.25" r="5.75" fill="#ff0000"/>
<circle cx="950.89" cy="1324.25" r="5.75" fill="#ff0000"/>
<circle cx="968.55" cy="1324.25" r="5.75" fill="#ff0000"/>
<circle cx="986.21" cy="1324.25" r="5.75" fill="#ff0000"/>
<circle cx="1003.87" cy="1324.25" r="5.75" fill="#ff0000"/>
<circle cx="1021.53" cy="1324.25" r="5.75" fill="#ff0000"/>
<circle cx="1039.20" cy="1324.25" r="5.75" fill="#ff0000"/>
<circle cx="1056.86" cy="1324.25" r="5.75" fill="#ff0000"/>
<circle cx="1074.52" cy="1324.25" r="5.75" fill="#00ff00"/>
<circle cx="1092.18" cy="1324.25" r="5.75" fill="#00ff00"/>
<circle cx="1109.84" cy="1324.25" r="5.75" fill="#00ff00"/>
<circle cx="1127.51" cy="1324.25" r="5.75" fill="#00ff00"/>
<circle cx="1145.17" cy="1324.25" r="5.75" fill="#00ff00"/>
<circle cx="1162.83" cy="1324.25" r="5.75" fill="#00ff00"/>
<circle cx="1180.49" cy="1324.25" r="5.75" fill="#00ff00"/>
<circle cx="1198.15" cy="1324.25" r="5.75" fill="#00ff00"/>
<circle cx="1215.82" cy="1324.25" r="5.75" fill="#00ff00"/>
<circle cx="1233.48" cy="1324.25" r="5.75" fill="#00ff00"/><circle cx="1233.48" cy="1324.25" r="2.5" fill="#ff0000"/>
<circle cx="1251.14" cy="1324.25" r="5.75" fill="#00ff00"/><circle cx="1251.14" cy="1324.25" r="2.5" fill="#ff0000"/>
<circle cx="1268.80" cy="1324.25" r="5.75" fill="#00ff00"/><circle cx="1268.80" cy="1324.25" r="2.5" fill="#ff0000"/>
<circle cx="1286.46" cy="1324.25" r="5.75" fill="#ff0000"/>
<circle cx="1304.13" cy="1324.25" r="5.75" fill="#ff0000"/>
<circle cx="1321.79" cy="1324.25" r="5.75" fill="#ff0000"/>
<circle cx="1339.45" cy="1324.25" r="5.75" fill="#ff0000"/>
<circle cx="1357.11" cy="1324.25" r="5.75" fill="#ff0000"/>
<circle cx="1374.77" cy="1324.25" r="5.75" fill="#ff0000"/>
<circle cx="1392.44" cy="1324.25" r="5.75" fill="#ff0000"/>
<circle cx="1410.10" cy="1324.25" r="5.75" fill="#ff0000"/><circle cx="1410.10" cy="1324.25" r="2.5" fill="#00ff00"/>
<circle cx="1427.76" cy="1324.25" r="5.75" fill="#ff0000"/><circle cx="1427.76" cy="1324.25" r="2.5" fill="#00ff00"/>
<circle cx="1445.42" cy="1324.25" r="5.75" fill="#ff0000"/><circle cx="1445.42" cy="1324.25" r="2.5" fill="#00ff00"/>
<circle cx="1463.08" cy="1324.25" r="5.75" fill="#00ff00"/>
<circle cx="1480.75" cy="1324.25" r="5.75" fill="#00ff00"/>
<circle cx="1498.41" cy="1324.25" r="5.75" fill="#00ff00"/>
<circle cx="1516.07" cy="1324.25" r="5.75" fill="#00ff00"/>
<circle cx="1533.73" cy="1324.25" r="5.75" fill="#00ff00"/><circle cx="1533.73" cy="1324.25" r="2.5" fill="#ff0000"/>
<circle cx="1551.39" cy="1324.25" r="5.75" fill="#00ff00"/><circle cx="1551.39" cy="1324.25" r="2.5" fill="#ff0000"/>
<circle cx="1569.06" cy="1324.25" r="5.75" fill="#ff0000"/>
<circle cx="1586.72" cy="1324.25" r="5.75" fill="#ff0000"/>
<circle cx="1604.38" cy="1324.25" r="5.75" fill="#ff0000"/>
<circle cx="1622.04" cy="1324.25" r="5.75" fill="#ff0000"/>
<circle cx="1639.70" cy="1324.25" r="5.75" fill="#ff0000"/>
<circle cx="1657.37" cy="1324.25" r="5.75" fill="#ff0000"/><circle cx="1657.37" cy="1324.25" r="2.5" fill="#00ff00"/>
<circle cx="1675.03" cy="1324.25" r="5.75" fill="#ff0000"/><circle cx="1675.03" cy="1324.25" r="2.5" fill="#00ff00"/>
<circle cx="1692.69" cy="1324.25" r="5.75" fill="#ff0000"/><circle cx="1692.69" cy="1324.25" r="2.5" fill="#00ff00"/>
<circle cx="1710.35" cy="1324.25" r="5.75" fill="#00ff00"/>
<circle cx="1728.01" cy="1324.25" r="5.75" fill="#00ff00"/>
<circle cx="1745.68" cy="1324.25" r="5.75" fill="#00ff00"/>
<circle cx="1763.34" cy="1324.25" r="5.75" fill="#00ff00"/>
<circle cx="1781.00" cy="1324.25" r="5.75" fill="#00ff00"/>
<circle cx="1798.66" cy="1324.25" r="5.75" fill="#00ff00"/>
<circle cx="1816.32" cy="1324.25" r="5.75" fill="#ff0000"/>
<circle cx="1833.99" cy="1324.25" r="5.75" fill="#ff0000"/>
<circle cx="1851.65" cy="1324.25" r="5.75" fill="#ff0000"/>
<circle cx="1869.31" cy="1324.25" r="5.75" fill="#00ff00"/>
<circle cx="1886.97" cy="1324.25" r="5.75" fill="#00ff00"/>
<circle cx="1904.63" cy="1324.25" r="5.75" fill="#00ff00"/>
<circle cx="1922.30" cy="1324.25" r="5.75" fill="#00ff00"/>
<circle cx="1939.96" cy="1324.25" r="5.75" fill="#00ff00"/>
<circle cx="1957.62" cy="1324.25" r="5.75" fill="#ff0000"/>
<circle cx="1975.28" cy="1324.25" r="5.75" fill="#00ff00"/>
<circle cx="1992.94" cy="1324.25" r="5.75" fill="#00ff00"/>
<circle cx="2010.61" cy="1324.25" r="5.75" fill="#ff0000"/>
<circle cx="2028.27" cy="1324.25" r="5.75" fill="#ff0000"/>
<circle cx="2045.93" cy="1324.25" r="5.75" fill="#ff0000"/>
<circle cx="2063.59" cy="1324.25" r="5.75" fill="#ff0000"/>
<circle cx="2081.25" cy="1324.25" r="5.75" fill="#ff0000"/><circle cx="2081.25" cy="1324.25" r="2.5" fill="#00ff00"/>
<circle cx="2098.92" cy="1324.25" r="5.75" fill="#ff0000"/><circle cx="2098.92" cy="1324.25" r="2.5" fill="#00ff00"/>
<circle cx="2116.58" cy="1324.25" r="5.75" fill="#00ff00"/>
<circle cx="2134.24" cy="1324.25" r="5.75" fill="#00ff00"/>
<circle cx="2151.90" cy="1324.25" r="5.75" fill="#00ff00"/>
<circle cx="2169.56" cy="1324.25" r="5.75" fill="#00ff00"/>
<circle cx="2187.23" cy="1324.25" r="5.75" fill="#ff0000"/>
<circle cx="2204.89" cy="1324.25" r="5.75" fill="#00ff00"/>
<circle cx="2222.55" cy="1324.25" r="5.75" fill="#00ff00"/>
<circle cx="2240.21" cy="1324.25" r="5.75" fill="#ff0000"/>
<circle cx="14.80" cy="1343.75" r="5.75" fill="#00ff00"/>
<circle cx="32.46" cy="1343.75" r="5.75" fill="#00ff00"/>
<circle cx="50.12" cy="1343.75" r="5.75" fill="#00ff00"/>
<circle cx="67.79" cy="1343.75" r="5.75" fill="#00ff00"/>
<circle cx="85.45" cy="1343.75" r="5.75" fill="#00ff00"/>
<circle cx="103.11" cy="1343.75" r="5.75" fill="#00ff00"/>
<circle cx="120.77" cy="1343.75" r="5.75" fill="#00ff00"/>
<circle cx="138.43" cy="1343.75" r="5.75" fill="#00ff00"/>
<circle cx="156.10" cy="1343.75" r="5.75" fill="#00ff00"/>
<circle cx="173.76" cy="1343.75" r="5.75" fill="#00ff00"/>
<circle cx="191.42" cy="1343.75" r="5.75" fill="#00ff00"/>
<circle cx="209.08" cy="1343.75" r="5.75" fill="#ff0000"/>
<circle cx="226.74" cy="1343.75" r="5.75" fill="#ff0000"/>
<circle cx="244.41" cy="1343.75" r="5.75" fill="#ff0000"/>
<circle cx="262.07" cy="1343.75" r="5.75" fill="#ff0000"/>
<circle cx="279.73" cy="1343.75" r="5.75" fill="#ff0000"/><circle cx="279.73" cy="1343.75" r="2.5" fill="#00ff00"/>
<circle cx="297.39" cy="1343.75" r="5.75" fill="#ff0000"/><circle cx="297.39" cy="1343.75" r="2.5" fill="#00ff00"/>
<circle cx="315.05" cy="1343.75" r="5.75" fill="#ff0000"/><circle cx="315.05" cy="1343.75" r="2.5" fill="#00ff00"/>
<circle cx="332.72" cy="1343.75" r="5.75" fill="#ff0000"/><circle cx="332.72" cy="1343.75" r="2.5" fill="#00ff00"/>
<circle cx="350.38" cy="1343.75" r="5.75" fill="#ff0000"/><circle cx="350.38" cy="1343.75" r="2.5" fill="#00ff00"/>
<circle cx="368.04" cy="1343.75" r="5.75" fill="#ff0000"/><circle cx="368.04" cy="1343.75" r="2.5" fill="#00ff00"/>
<circle cx="385.70" cy="1343.75" r="5.75" fill="#ff0000"/><circle cx="385.70" cy="1343.75" r="2.5" fill="#00ff00"/>
<circle cx="403.36" cy="1343.75" r="5.75" fill="#00ff00"/>
<circle cx="421.03" cy="1343.75" r="5.75" fill="#00ff00"/>
<circle cx="438.69" cy="1343.75" r="5.75" fill="#00ff00"/>
<circle cx="456.35" cy="1343.75" r="5.75" fill="#00ff00"/>
<circle cx="474.01" cy="1343.75" r="5.75" fill="#00ff00"/>
<circle cx="491.67" cy="1343.75" r="5.75" fill="#ff0000"/><circle cx="491.67" cy="1343.75" r="2.5" fill="#00ff00"/>
<circle cx="509.34" cy="1343.75" r="5.75" fill="#ff0000"/><circle cx="509.34" cy="1343.75" r="2.5" fill="#00ff00"/>
<circle cx="527.00" cy="1343.75" r="5.75" fill="#ff0000"/><circle cx="527.00" cy="1343.75" r="2.5" fill="#00ff00"/>
<circle cx="544.66" cy="1343.75" r="5.75" fill="#ff0000"/><circle cx="544.66" cy="1343.75" r="2.5" fill="#00ff00"/>
<circle cx="562.32" cy="1343.75" r="5.75" fill="#ff0000"/><circle cx="562.32" cy="1343.75" r="2.5" fill="#00ff00"/>
<circle cx="579.98" cy="1343.75" r="5.75" fill="#ff0000"/><circle cx="579.98" cy="1343.75" r="2.5" fill="#00ff00"/>
<circle cx="597.65" cy="1343.75" r="5.75" fill="#00ff00"/>
<circle cx="615.31" cy="1343.75" r="5.75" fill="#00ff00"/>
<circle cx="632.97" cy="1343.75" r="5.75" fill="#00ff00"/>
<circle cx="650.63" cy="1343.75" r="5.75" fill="#00ff00"/>
<circle cx="668.29" cy="1343.75" r="5.75" fill="#00ff00"/>
<circle cx="685.96" cy="1343.75" r="5.75" fill="#00ff00"/>
<circle cx="703.62" cy="1343.75" r="5.75" fill="#00ff00"/>
<circle cx="721.28" cy="1343.75" r="5.75" fill="#00ff00"/>
<circle cx="738.94" cy="1343.75" r="5.75" fill="#00ff00"/>
<circle cx="756.60" cy="1343.75" r="5.75" fill="#00ff00"/>
<circle cx="774.27" cy="1343.75" r="5.75" fill="#ff0000"/>
<circle cx="791.93" cy="1343.75" r="5.75" fill="#ff0000"/>
<circle cx="809.59" cy="1343.75" r="5.75" fill="#ff0000"/>
<circle cx="827.25" cy="1343.75" r="5.75" fill="#00ff00"/>
<circle cx="844.91" cy="1343.75" r="5.75" fill="#00ff00"/>
<circle cx="862.58" cy="1343.75" r="5.75" fill="#00ff00"/>
<circle cx="880.24" cy="1343.75" r="5.75" fill="#00ff00"/>
<circle cx="897.90" cy="1343.75" r="5.75" fill="#00ff00"/>
<circle cx="915.56" cy="1343.75" r="5.75" fill="#00ff00"/>
<circle cx="933.22" cy="1343.75" r="5.75" fill="#00ff00"/>
<circle cx="950.89" cy="1343.75" r="5.75" fill="#00ff00"/>
<circle cx="968.55" cy="1343.75" r="5.75" fill="#00ff00"/>
<circle cx="986.21" cy="1343.75" r="5.75" fill="#00ff00"/>
<circle cx="1003.87" cy="1343.75" r="5.75" fill="#00ff00"/>
<circle cx="1021.53" cy="1343.75" r="5.75" fill="#ff0000"/>
<circle cx="1039.20" cy="1343.75" r="5.75" fill="#ff0000"/>
<circle cx="1056.86" cy="1343.75" r="5.75" fill="#ff0000"/>
<circle cx="1074.52" cy="1343.75" r="5.75" fill="#ff0000"/>
<circle cx="1092.18" cy="1343.75" r="5.75" fill="#ff0000"/>
<circle cx="1109.84" cy="1343.75" r="5.75" fill="#ff0000"/>
<circle cx="1127.51" cy="1343.75" r="5.75" fill="#ff0000"/>
<circle cx="1145.17" cy="1343.75" r="5.75" fill="#ff0000"/>
<circle cx="1162.83" cy="1343.75" r="5.75" fill="#ff0000"/>
<circle cx="1180.49" cy="1343.75" r="5.75" fill="#00ff00"/>
<circle cx="1198.15" cy="1343.75" r="5.75" fill="#00ff00"/>
<circle cx="1215.82" cy="1343.75" r="5.75" fill="#00ff00"/>
<circle cx="1233.48" cy="1343.75" r="5.75" fill="#00ff00"/>
<circle cx="1251.14" cy="1343.75" r="5.75" fill="#00ff00"/>
<circle cx="1268.80" cy="1343.75" r="5.75" fill="#00ff00"/>
<circle cx="1286.46" cy="1343.75" r="5.75" fill="#00ff00"/>
<circle cx="1304.13" cy="1343.75" r="5.75" fill="#00ff00"/>
<circle cx="1321.79" cy="1343.75" r="5.75" fill="#ff0000"/>
<circle cx="1339.45" cy="1343.75" r="5.75" fill="#ff0000"/>
<circle cx="1357.11" cy="1343.75" r="5.75" fill="#ff0000"/>
<circle cx="1374.77" cy="1343.75" r="5.75" fill="#ff0000"/>
<circle cx="1392.44" cy="1343.75" r="5.75" fill="#ff0000"/>
<circle cx="1410.10" cy="1343.75" r="5.75" fill="#ff0000"/>
<circle cx="1427.76" cy="1343.75" r="5.75" fill="#ff0000"/>
<circle cx="1445.42" cy="1343.75" r="5.75" fill="#ff0000"/><circle cx="1445.42" cy="1343.75" r="2.5" fill="#00ff00"/>
<circle cx="1463.08" cy="1343.75" r="5.75" fill="#ff0000"/>
<circle cx="1480.75" cy="1343.75" r="5.75" fill="#00ff00"/>
<circle cx="1498.41" cy="1343.75" r="5.75" fill="#00ff00"/>
<circle cx="1516.07" cy="1343.75" r="5.75" fill="#00ff00"/>
<circle cx="1533.73" cy="1343.75" r="5.75" fill="#00ff00"/>
<circle cx="1551.39" cy="1343.75" r="5.75" fill="#00ff00"/>
<circle cx="1569.06" cy="1343.75" r="5.75" fill="#00ff00"/>
<circle cx="1586.72" cy="1343.75" r="5.75" fill="#00ff00"/>
<circle cx="1604.38" cy="1343.75" r="5.75" fill="#00ff00"/>
<circle cx="1622.04" cy="1343.75" r="5.75" fill="#ff0000"/>
<circle cx="1639.70" cy="1343.75" r="5.75" fill="#ff0000"/>
<circle cx="1657.37" cy="1343.75" r="5.75" fill="#ff0000"/>
<circle cx="1675.03" cy="1343.75" r="5.75" fill="#ff0000"/>
<circle cx="1692.69" cy="1343.75" r="5.75" fill="#ff0000"/>
<circle cx="1710.35" cy="1343.75" r="5.75" fill="#ff0000"/>
<circle cx="1728.01" cy="1343.75" r="5.75" fill="#ff0000"/>
<circle cx="1745.68" cy="1343.75" r="5.75" fill="#ff0000"/>
<circle cx="1763.34" cy="1343.75" r="5.75" fill="#ff0000"/>
<circle cx="1781.00" cy="1343.75" r="5.75" fill="#ff0000"/>
<circle cx="1798.66" cy="1343.75" r="5.75" fill="#ff0000"/><circle cx="1798.66" cy="1343.75" r="2.5" fill="#00ff00"/>
<circle cx="1816.32" cy="1343.75" r="5.75" fill="#ff0000"/><circle cx="1816.32" cy="1343.75" r="2.5" fill="#00ff00"/>
<circle cx="1833.99" cy="1343.75" r="5.75" fill="#00ff00"/>
<circle cx="1851.65" cy="1343.75" r="5.75" fill="#00ff00"/>
<circle cx="1869.31" cy="1343.75" r="5.75" fill="#00ff00"/>
<circle cx="1886.97" cy="1343.75" r="5.75" fill="#00ff00"/>
<circle cx="1904.63" cy="1343.75" r="5.75" fill="#00ff00"/>
<circle cx="1922.30" cy="1343.75" r="5.75" fill="#00ff00"/>
<circle cx="1939.96" cy="1343.75" r="5.75" fill="#00ff00"/>
<circle cx="1957.62" cy="1343.75" r="5.75" fill="#00ff00"/>
<circle cx="1975.28" cy="1343.75" r="5.75" fill="#00ff00"/>
<circle cx="1992.94" cy="1343.75" r="5.75" fill="#00ff00"/>
<circle cx="2010.61" cy="1343.75" r="5.75" fill="#00ff00"/>
<circle cx="2028.27" cy="1343.75" r="5.75" fill="#ff0000"/>
<circle cx="2045.93" cy="1343.75" r="5.75" fill="#ff0000"/>
<circle cx="2063.59" cy="1343.75" r="5.75" fill="#ff0000"/>
<circle cx="2081.25" cy="1343.75" r="5.75" fill="#ff0000"/>
<circle cx="2098.92" cy="1343.75" r="5.75" fill="#00ff00"/>
<circle cx="2116.58" cy="1343.75" r="5.75" fill="#ff0000"/>
<circle cx="2134.24" cy="1343.75" r="5.75" fill="#ff0000"/><circle cx="2134.24" cy="1343.75" r="2.5" fill="#00ff00"/>
<circle cx="2151.90" cy="1343.75" r="5.75" fill="#ff0000"/><circle cx="2151.90" cy="1343.75" r="2.5" fill="#00ff00"/>
<circle cx="2169.56" cy="1343.75" r="5.75" fill="#ff0000"/>
<circle cx="2187.23" cy="1343.75" r="5.75" fill="#ff0000"/>
<circle cx="2204.89" cy="1343.75" r="5.75" fill="#00ff00"/>
<circle cx="2222.55" cy="1343.75" r="5.75" fill="#00ff00"/>
<circle cx="2240.21" cy="1343.75" r="5.75" fill="#00ff00"/>
<circle cx="14.80" cy="1362.50" r="5.75" fill="#00ff00"/>
<circle cx="32.46" cy="1362.50" r="5.75" fill="#00ff00"/>
<circle cx="50.12" cy="1362.50" r="5.75" fill="#00ff00"/>
<circle cx="67.79" cy="1362.50" r="5.75" fill="#00ff00"/>
<circle cx="85.45" cy="1362.50" r="5.75" fill="#00ff00"/>
<circle cx="103.11" cy="1362.50" r="5.75" fill="#00ff00"/>
<circle cx="120.77" cy="1362.50" r="5.75" fill="#00ff00"/>
<circle cx="138.43" cy="1362.50" r="5.75" fill="#00ff00"/>
<circle cx="156.10" cy="1362.50" r="5.75" fill="#00ff00"/>
<circle cx="173.76" cy="1362.50" r="5.75" fill="#00ff00"/>
<circle cx="191.42" cy="1362.50" r="5.75" fill="#00ff00"/>
<circle cx="209.08" cy="1362.50" r="5.75" fill="#00ff00"/>
<circle cx="226.74" cy="1362.50" r="5.75" fill="#ff0000"/>
<circle cx="244.41" cy="1362.50" r="5.75" fill="#ff0000"/>
<circle cx="262.07" cy="1362.50" r="5.75" fill="#ff0000"/>
<circle cx="279.73" cy="1362.50" r="5.75" fill="#ff0000"/>
<circle cx="297.39" cy="1362.50" r="5.75" fill="#ff0000"/>
<circle cx="315.05" cy="1362.50" r="5.75" fill="#ff0000"/><circle cx="315.05" cy="1362.50" r="2.5" fill="#00ff00"/>
<circle cx="332.72" cy="1362.50" r="5.75" fill="#ff0000"/><circle cx="332.72" cy="1362.50" r="2.5" fill="#00ff00"/>
<circle cx="350.38" cy="1362.50" r="5.75" fill="#ff0000"/><circle cx="350.38" cy="1362.50" r="2.5" fill="#00ff00"/>
<circle cx="368.04" cy="1362.50" r="5.75" fill="#ff0000"/><circle cx="368.04" cy="1362.50" r="2.5" fill="#00ff00"/>
<circle cx="385.70" cy="1362.50" r="5.75" fill="#ff0000"/><circle cx="385.70" cy="1362.50" r="2.5" fill="#00ff00"/>
<circle cx="403.36" cy="1362.50" r="5.75" fill="#ff0000"/><circle cx="403.36" cy="1362.50" r="2.5" fill="#00ff00"/>
<circle cx="421.03" cy="1362.50" r="5.75" fill="#ff0000"/><circle cx="421.03" cy="1362.50" r="2.5" fill="#00ff00"/>
<circle cx="438.69" cy="1362.50" r="5.75" fill="#ff0000"/><circle cx="438.69" cy="1362.50" r="2.5" fill="#00ff00"/>
<circle cx="456.35" cy="1362.50" r="5.75" fill="#ff0000"/><circle cx="456.35" cy="1362.50" r="2.5" fill="#00ff00"/>
<circle cx="474.01" cy="1362.50" r="5.75" fill="#ff0000"/><circle cx="474.01" cy="1362.50" r="2.5" fill="#00ff00"/>
<circle cx="491.67" cy="1362.50" r="5.75" fill="#ff0000"/><circle cx="491.67" cy="1362.50" r="2.5" fill="#00ff00"/>
<circle cx="509.34" cy="1362.50" r="5.75" fill="#ff0000"/><circle cx="509.34" cy="1362.50" r="2.5" fill="#00ff00"/>
<circle cx="527.00" cy="1362.50" r="5.75" fill="#ff0000"/><circle cx="527.00" cy="1362.50" r="2.5" fill="#00ff00"/>
<circle cx="544.66" cy="1362.50" r="5.75" fill="#00ff00"/>
<circle cx="562.32" cy="1362.50" r="5.75" fill="#ff0000"/><circle cx="562.32" cy="1362.50" r="2.5" fill="#00ff00"/>
<circle cx="579.98" cy="1362.50" r="5.75" fill="#ff0000"/><circle cx="579.98" cy="1362.50" r="2.5" fill="#00ff00"/>
<circle cx="597.65" cy="1362.50" r="5.75" fill="#00ff00"/>
<circle cx="615.31" cy="1362.50" r="5.75" fill="#ff0000"/><circle cx="615.31" cy="1362.50" r="2.5" fill="#00ff00"/>
<circle cx="632.97" cy="1362.50" r="5.75" fill="#00ff00"/>
<circle cx="650.63" cy="1362.50" r="5.75" fill="#00ff00"/>
<circle cx="668.29" cy="1362.50" r="5.75" fill="#00ff00"/>
<circle cx="685.96" cy="1362.50" r="5.75" fill="#00ff00"/>
<circle cx="703.62" cy="1362.50" r="5.75" fill="#00ff00"/>
<circle cx="721.28" cy="1362.50" r="5.75" fill="#00ff00"/>
<circle cx="738.94" cy="1362.50" r="5.75" fill="#00ff00"/>
<circle cx="756.60" cy="1362.50" r="5.75" fill="#00ff00"/>
<circle cx="774.27" cy="1362.50" r="5.75" fill="#00ff00"/>
<circle cx="791.93" cy="1362.50" r="5.75" fill="#00ff00"/>
<circle cx="809.59" cy="1362.50" r="5.75" fill="#00ff00"/>
<circle cx="827.25" cy="1362.50" r="5.75" fill="#00ff00"/>
<circle cx="844.91" cy="1362.50" r="5.75" fill="#00ff00"/>
<circle cx="862.58" cy="1362.50" r="5.75" fill="#00ff00"/>
<circle cx="880.24" cy="1362.50" r="5.75" fill="#00ff00"/>
<circle cx="897.90" cy="1362.50" r="5.75" fill="#00ff00"/>
<circle cx="915.56" cy="1362.50" r="5.75" fill="#00ff00"/>
<circle cx="933.22" cy="1362.50" r="5.75" fill="#00ff00"/>
<circle cx="950.89" cy="1362.50" r="5.75" fill="#00ff00"/>
<circle cx="968.55" cy="1362.50" r="5.75" fill="#00ff00"/>
<circle cx="986.21" cy="1362.50" r="5.75" fill="#00ff00"/>
<circle cx="1003.87" cy="1362.50" r="5.75" fill="#00ff00"/>
<circle cx="1021.53" cy="1362.50" r="5.75" fill="#00ff00"/>
<circle cx="1039.20" cy="1362.50" r="5.75" fill="#00ff00"/>
<circle cx="1056.86" cy="1362.50" r="5.75" fill="#00ff00"/>
<circle cx="1074.52" cy="1362.50" r="5.75" fill="#00ff00"/>
<circle cx="1092.18" cy="1362.50" r="5.75" fill="#00ff00"/>
<circle cx="1109.84" cy="1362.50" r="5.75" fill="#ff0000"/>
<circle cx="1127.51" cy="1362.50" r="5.75" fill="#ff0000"/>
<circle cx="1145.17" cy="1362.50" r="5.75" fill="#ff0000"/>
<circle cx="1162.83" cy="1362.50" r="5.75" fill="#ff0000"/>
<circle cx="1180.49" cy="1362.50" r="5.75" fill="#00ff00"/>
<circle cx="1198.15" cy="1362.50" r="5.75" fill="#00ff00"/>
<circle cx="1215.82" cy="1362.50" r="5.75" fill="#00ff00"/>
<circle cx="1233.48" cy="1362.50" r="5.75" fill="#00ff00"/>
<circle cx="1251.14" cy="1362.50" r="5.75" fill="#00ff00"/>
<circle cx="1268.80" cy="1362.50" r="5.75" fill="#00ff00"/>
<circle cx="1286.46" cy="1362.50" r="5.75" fill="#00ff00"/>
<circle cx="1304.13" cy="1362.50" r="5.75" fill="#00ff00"/>
<circle cx="1321.79" cy="1362.50" r="5.75" fill="#00ff00"/>
<circle cx="1339.45" cy="1362.50" r="5.75" fill="#ff0000"/>
<circle cx="1357.11" cy="1362.50" r="5.75" fill="#ff0000"/>
<circle cx="1374.77" cy="1362.50" r="5.75" fill="#ff0000"/>
<circle cx="1392.44" cy="1362.50" r="5.75" fill="#ff0000"/>
<circle cx="1410.10" cy="1362.50" r="5.75" fill="#ff0000"/>
<circle cx="1427.76" cy="1362.50" r="5.75" fill="#ff0000"/>
<circle cx="1445.42" cy="1362.50" r="5.75" fill="#ff0000"/>
<circle cx="1463.08" cy="1362.50" r="5.75" fill="#ff0000"/>
<circle cx="1480.75" cy="1362.50" r="5.75" fill="#ff0000"/>
<circle cx="1498.41" cy="1362.50" r="5.75" fill="#ff0000"/>
<circle cx="1516.07" cy="1362.50" r="5.75" fill="#ff0000"/>
<circle cx="1533.73" cy="1362.50" r="5.75" fill="#00ff00"/>
<circle cx="1551.39" cy="1362.50" r="5.75" fill="#00ff00"/>
<circle cx="1569.06" cy="1362.50" r="5.75" fill="#00ff00"/>
<circle cx="1586.72" cy="1362.50" r="5.75" fill="#00ff00"/>
<circle cx="1604.38" cy="1362.50" r="5.75" fill="#00ff00"/>
<circle cx="1622.04" cy="1362.50" r="5.75" fill="#00ff00"/>
<circle cx="1639.70" cy="1362.50" r="5.75" fill="#00ff00"/>
<circle cx="1657.37" cy="1362.50" r="5.75" fill="#00ff00"/>
<circle cx="1675.03" cy="1362.50" r="5.75" fill="#ff0000"/>
<circle cx="1692.69" cy="1362.50" r="5.75" fill="#ff0000"/>
<circle cx="1710.35" cy="1362.50" r="5.75" fill="#ff0000"/>
<circle cx="1728.01" cy="1362.50" r="5.75" fill="#ff0000"/>
<circle cx="1745.68" cy="1362.50" r="5.75" fill="#ff0000"/>
<circle cx="1763.34" cy="1362.50" r="5.75" fill="#ff0000"/>
<circle cx="1781.00" cy="1362.50" r="5.75" fill="#ff0000"/>
<circle cx="1798.66" cy="1362.50" r="5.75" fill="#ff0000"/>
<circle cx="1816.32" cy="1362.50" r="5.75" fill="#ff0000"/>
<circle cx="1833.99" cy="1362.50" r="5.75" fill="#ff0000"/>
<circle cx="1851.65" cy="1362.50" r="5.75" fill="#ff0000"/>
<circle cx="1869.31" cy="1362.50" r="5.75" fill="#ff0000"/>
<circle cx="1886.97" cy="1362.50" r="5.75" fill="#ff0000"/>
<circle cx="1904.63" cy="1362.50" r="5.75" fill="#ff0000"/>
<circle cx="1922.30" cy="1362.50" r="5.75" fill="#00ff00"/>
<circle cx="1939.96" cy="1362.50" r="5.75" fill="#ff0000"/>
<circle cx="1957.62" cy="1362.50" r="5.75" fill="#ff0000"/>
<circle cx="1975.28" cy="1362.50" r="5.75" fill="#ff0000"/>
<circle cx="1992.94" cy="1362.50" r="5.75" fill="#ff0000"/>
<circle cx="2010.61" cy="1362.50" r="5.75" fill="#ff0000"/>
<circle cx="2028.27" cy="1362.50" r="5.75" fill="#ff0000"/>
<circle cx="2045.93" cy="1362.50" r="5.75" fill="#ff0000"/>
<circle cx="2063.59" cy="1362.50" r="5.75" fill="#ff0000"/><circle cx="2063.59" cy="1362.50" r="2.5" fill="#00ff00"/>
<circle cx="2081.25" cy="1362.50" r="5.75" fill="#ff0000"/><circle cx="2081.25" cy="1362.50" r="2.5" fill="#00ff00"/>
<circle cx="2098.92" cy="1362.50" r="5.75" fill="#ff0000"/><circle cx="2098.92" cy="1362.50" r="2.5" fill="#00ff00"/>
<circle cx="2116.58" cy="1362.50" r="5.75" fill="#ff0000"/><circle cx="2116.58" cy="1362.50" r="2.5" fill="#00ff00"/>
<circle cx="2134.24" cy="1362.50" r="5.75" fill="#ff0000"/><circle cx="2134.24" cy="1362.50" r="2.5" fill="#00ff00"/>
<circle cx="2151.90" cy="1362.50" r="5.75" fill="#ff0000"/><circle cx="2151.90" cy="1362.50" r="2.5" fill="#00ff00"/>
<circle cx="2169.56" cy="1362.50" r="5.75" fill="#00ff00"/>
<circle cx="2187.23" cy="1362.50" r="5.75" fill="#00ff00"/>
<circle cx="2204.89" cy="1362.50" r="5.75" fill="#00ff00"/>
<circle cx="2222.55" cy="1362.50" r="5.75" fill="#ff0000"/><circle cx="2222.55" cy="1362.50" r="2.5" fill="#00ff00"/>
<circle cx="2240.21" cy="1362.50" r="5.75" fill="#ff0000"/><circle cx="2240.21" cy="1362.50" r="2.5" fill="#00ff00"/>
<rect x="20" y="1331.5" width="41" height="19" fill="#ffffff"/>
<path d="M21.3 1329 H37.6 V1349 H29.2 V1336.1 H21.3 Z M50.9 1329 H59.8 L54.3 1349 H44.5 Z" fill="#131722"/>
<circle cx="44.3" cy="1332.7" r="3.5" fill="#131722"/>
</g>
<rect x="10.8" y="1108" width="1127" height="26" fill="rgba(255,255,255,0.52)"/>
<text x="17.0" y="1127.0" font-size="17" fill="#131722" textLength="276.0" lengthAdjust="spacingAndGlyphs" >Croc 3.0 Lochstreifen - Professional</text>
<text x="298.8" y="1127.0" font-size="17" fill="#787b86" textLength="17.5" lengthAdjust="spacingAndGlyphs" >on</text>
<g stroke="#131722" stroke-width="1.25" fill="none"><ellipse cx="335.00" cy="1121.00" rx="5.3" ry="5.6"/><path d="M330.40 1128.00L339.60 1114.00"/></g>
<g stroke="#131722" stroke-width="1.25" fill="none"><ellipse cx="412.00" cy="1121.00" rx="5.3" ry="5.6"/><path d="M407.40 1128.00L416.60 1114.00"/></g>
<g stroke="#131722" stroke-width="1.25" fill="none"><ellipse cx="436.25" cy="1121.00" rx="5.3" ry="5.6"/><path d="M431.65 1128.00L440.85 1114.00"/></g>
<g stroke="#131722" stroke-width="1.25" fill="none"><ellipse cx="461.25" cy="1121.00" rx="5.3" ry="5.6"/><path d="M456.65 1128.00L465.85 1114.00"/></g>
<g stroke="#131722" stroke-width="1.25" fill="none"><ellipse cx="485.75" cy="1121.00" rx="5.3" ry="5.6"/><path d="M481.15 1128.00L490.35 1114.00"/></g>
<g stroke="#131722" stroke-width="1.25" fill="none"><ellipse cx="510.75" cy="1121.00" rx="5.3" ry="5.6"/><path d="M506.15 1128.00L515.35 1114.00"/></g>
<g stroke="#131722" stroke-width="1.25" fill="none"><ellipse cx="688.00" cy="1121.00" rx="5.3" ry="5.6"/><path d="M683.40 1128.00L692.60 1114.00"/></g>
<g stroke="#131722" stroke-width="1.25" fill="none"><ellipse cx="712.50" cy="1121.00" rx="5.3" ry="5.6"/><path d="M707.90 1128.00L717.10 1114.00"/></g>
<g stroke="#131722" stroke-width="1.25" fill="none"><ellipse cx="738.00" cy="1121.00" rx="5.3" ry="5.6"/><path d="M733.40 1128.00L742.60 1114.00"/></g>
<g stroke="#131722" stroke-width="1.25" fill="none"><ellipse cx="846.25" cy="1121.00" rx="5.3" ry="5.6"/><path d="M841.65 1128.00L850.85 1114.00"/></g>
<g stroke="#131722" stroke-width="1.25" fill="none"><ellipse cx="870.75" cy="1121.00" rx="5.3" ry="5.6"/><path d="M866.15 1128.00L875.35 1114.00"/></g>
<g stroke="#131722" stroke-width="1.25" fill="none"><ellipse cx="937.50" cy="1121.00" rx="5.3" ry="5.6"/><path d="M932.90 1128.00L942.10 1114.00"/></g>
<g stroke="#131722" stroke-width="1.25" fill="none"><ellipse cx="962.50" cy="1121.00" rx="5.3" ry="5.6"/><path d="M957.90 1128.00L967.10 1114.00"/></g>
<g stroke="#131722" stroke-width="1.25" fill="none"><ellipse cx="987.00" cy="1121.00" rx="5.3" ry="5.6"/><path d="M982.40 1128.00L991.60 1114.00"/></g>
<g stroke="#131722" stroke-width="1.25" fill="none"><ellipse cx="1011.75" cy="1121.00" rx="5.3" ry="5.6"/><path d="M1007.15 1128.00L1016.35 1114.00"/></g>
<g stroke="#131722" stroke-width="1.25" fill="none"><ellipse cx="1036.75" cy="1121.00" rx="5.3" ry="5.6"/><path d="M1032.15 1128.00L1041.35 1114.00"/></g>
<g stroke="#131722" stroke-width="1.25" fill="none"><ellipse cx="1103.00" cy="1121.00" rx="5.3" ry="5.6"/><path d="M1098.40 1128.00L1107.60 1114.00"/></g>
<g stroke="#131722" stroke-width="1.25" fill="none"><ellipse cx="1127.50" cy="1121.00" rx="5.3" ry="5.6"/><path d="M1122.90 1128.00L1132.10 1114.00"/></g>
<text x="353.8" y="1127.0" font-size="17" fill="#ff0000" textLength="41.2" lengthAdjust="spacingAndGlyphs" >14,00</text>
<text x="527.5" y="1127.0" font-size="17" fill="#ff0000" textLength="41.2" lengthAdjust="spacingAndGlyphs" >10,50</text>
<text x="580.0" y="1127.0" font-size="17" fill="#ffff00" textLength="41.2" lengthAdjust="spacingAndGlyphs" >11,50</text>
<text x="630.0" y="1127.0" font-size="17" fill="#ff0000" textLength="41.2" lengthAdjust="spacingAndGlyphs" >11,50</text>
<text x="755.0" y="1127.0" font-size="17" fill="#ff0000" textLength="32.5" lengthAdjust="spacingAndGlyphs" >9,50</text>
<text x="797.0" y="1127.0" font-size="17" fill="#000000" textLength="33.0" lengthAdjust="spacingAndGlyphs" >8,50</text>
<text x="888.0" y="1127.0" font-size="17" fill="#000000" textLength="32.8" lengthAdjust="spacingAndGlyphs" >7,50</text>
<text x="1053.0" y="1127.0" font-size="17" fill="#ff0000" textLength="32.8" lengthAdjust="spacingAndGlyphs" >6,50</text>
<rect x="10.8" y="1255.5" width="1086" height="25.5" fill="rgba(255,255,255,0.52)"/>
<text x="17.0" y="1274.0" font-size="17" fill="#131722" textLength="211.0" lengthAdjust="spacingAndGlyphs" >Croc 3.0 DNA - Professional</text>
<text x="233.8" y="1274.0" font-size="17" fill="#787b86" textLength="17.5" lengthAdjust="spacingAndGlyphs" >on</text>
<text x="263.0" y="1274.0" font-size="17" fill="#008000" textLength="51.5" lengthAdjust="spacingAndGlyphs" >0,0000</text>
<g stroke="#131722" stroke-width="1.25" fill="none"><ellipse cx="331.25" cy="1268.00" rx="5.3" ry="5.6"/><path d="M326.65 1275.00L335.85 1261.00"/></g>
<g stroke="#131722" stroke-width="1.25" fill="none"><ellipse cx="355.75" cy="1268.00" rx="5.3" ry="5.6"/><path d="M351.15 1275.00L360.35 1261.00"/></g>
<g stroke="#131722" stroke-width="1.25" fill="none"><ellipse cx="380.50" cy="1268.00" rx="5.3" ry="5.6"/><path d="M375.90 1275.00L385.10 1261.00"/></g>
<g stroke="#131722" stroke-width="1.25" fill="none"><ellipse cx="405.00" cy="1268.00" rx="5.3" ry="5.6"/><path d="M400.40 1275.00L409.60 1261.00"/></g>
<g stroke="#131722" stroke-width="1.25" fill="none"><ellipse cx="430.00" cy="1268.00" rx="5.3" ry="5.6"/><path d="M425.40 1275.00L434.60 1261.00"/></g>
<g stroke="#131722" stroke-width="1.25" fill="none"><ellipse cx="454.50" cy="1268.00" rx="5.3" ry="5.6"/><path d="M449.90 1275.00L459.10 1261.00"/></g>
<g stroke="#131722" stroke-width="1.25" fill="none"><ellipse cx="480.00" cy="1268.00" rx="5.3" ry="5.6"/><path d="M475.40 1275.00L484.60 1261.00"/></g>
<g stroke="#131722" stroke-width="1.25" fill="none"><ellipse cx="504.50" cy="1268.00" rx="5.3" ry="5.6"/><path d="M499.90 1275.00L509.10 1261.00"/></g>
<g stroke="#131722" stroke-width="1.25" fill="none"><ellipse cx="529.25" cy="1268.00" rx="5.3" ry="5.6"/><path d="M524.65 1275.00L533.85 1261.00"/></g>
<g stroke="#131722" stroke-width="1.25" fill="none"><ellipse cx="553.75" cy="1268.00" rx="5.3" ry="5.6"/><path d="M549.15 1275.00L558.35 1261.00"/></g>
<g stroke="#131722" stroke-width="1.25" fill="none"><ellipse cx="578.75" cy="1268.00" rx="5.3" ry="5.6"/><path d="M574.15 1275.00L583.35 1261.00"/></g>
<g stroke="#131722" stroke-width="1.25" fill="none"><ellipse cx="603.25" cy="1268.00" rx="5.3" ry="5.6"/><path d="M598.65 1275.00L607.85 1261.00"/></g>
<g stroke="#131722" stroke-width="1.25" fill="none"><ellipse cx="628.75" cy="1268.00" rx="5.3" ry="5.6"/><path d="M624.15 1275.00L633.35 1261.00"/></g>
<g stroke="#131722" stroke-width="1.25" fill="none"><ellipse cx="653.00" cy="1268.00" rx="5.3" ry="5.6"/><path d="M648.40 1275.00L657.60 1261.00"/></g>
<g stroke="#131722" stroke-width="1.25" fill="none"><ellipse cx="737.50" cy="1268.00" rx="5.3" ry="5.6"/><path d="M732.90 1275.00L742.10 1261.00"/></g>
<g stroke="#131722" stroke-width="1.25" fill="none"><ellipse cx="762.50" cy="1268.00" rx="5.3" ry="5.6"/><path d="M757.90 1275.00L767.10 1261.00"/></g>
<g stroke="#131722" stroke-width="1.25" fill="none"><ellipse cx="787.00" cy="1268.00" rx="5.3" ry="5.6"/><path d="M782.40 1275.00L791.60 1261.00"/></g>
<g stroke="#131722" stroke-width="1.25" fill="none"><ellipse cx="812.00" cy="1268.00" rx="5.3" ry="5.6"/><path d="M807.40 1275.00L816.60 1261.00"/></g>
<g stroke="#131722" stroke-width="1.25" fill="none"><ellipse cx="836.75" cy="1268.00" rx="5.3" ry="5.6"/><path d="M832.15 1275.00L841.35 1261.00"/></g>
<g stroke="#131722" stroke-width="1.25" fill="none"><ellipse cx="862.00" cy="1268.00" rx="5.3" ry="5.6"/><path d="M857.40 1275.00L866.60 1261.00"/></g>
<g stroke="#131722" stroke-width="1.25" fill="none"><ellipse cx="886.25" cy="1268.00" rx="5.3" ry="5.6"/><path d="M881.65 1275.00L890.85 1261.00"/></g>
<g stroke="#131722" stroke-width="1.25" fill="none"><ellipse cx="911.25" cy="1268.00" rx="5.3" ry="5.6"/><path d="M906.65 1275.00L915.85 1261.00"/></g>
<g stroke="#131722" stroke-width="1.25" fill="none"><ellipse cx="936.25" cy="1268.00" rx="5.3" ry="5.6"/><path d="M931.65 1275.00L940.85 1261.00"/></g>
<g stroke="#131722" stroke-width="1.25" fill="none"><ellipse cx="960.75" cy="1268.00" rx="5.3" ry="5.6"/><path d="M956.15 1275.00L965.35 1261.00"/></g>
<g stroke="#131722" stroke-width="1.25" fill="none"><ellipse cx="985.75" cy="1268.00" rx="5.3" ry="5.6"/><path d="M981.15 1275.00L990.35 1261.00"/></g>
<g stroke="#131722" stroke-width="1.25" fill="none"><ellipse cx="1010.00" cy="1268.00" rx="5.3" ry="5.6"/><path d="M1005.40 1275.00L1014.60 1261.00"/></g>
<g stroke="#131722" stroke-width="1.25" fill="none"><ellipse cx="1035.00" cy="1268.00" rx="5.3" ry="5.6"/><path d="M1030.40 1275.00L1039.60 1261.00"/></g>
<g stroke="#131722" stroke-width="1.25" fill="none"><ellipse cx="1060.00" cy="1268.00" rx="5.3" ry="5.6"/><path d="M1055.40 1275.00L1064.60 1261.00"/></g>
<g stroke="#131722" stroke-width="1.25" fill="none"><ellipse cx="1084.25" cy="1268.00" rx="5.3" ry="5.6"/><path d="M1079.65 1275.00L1088.85 1261.00"/></g>
<text x="671.2" y="1274.0" font-size="17" fill="#ff00ff" textLength="49.5" lengthAdjust="spacingAndGlyphs" >−1,000</text>
<rect x="10.8" y="1316" width="769" height="30" fill="rgba(255,255,255,0.52)"/>
<text x="17.0" y="1336.6" font-size="17" fill="#131722" textLength="204.2" lengthAdjust="spacingAndGlyphs" >Croc 3.0 MSI - Professional</text>
<text x="226.8" y="1336.6" font-size="17" fill="#787b86" textLength="17.8" lengthAdjust="spacingAndGlyphs" >on</text>
<text x="257.5" y="1336.6" font-size="17" fill="#ff0000" textLength="59.5" lengthAdjust="spacingAndGlyphs" >−0,5000</text>
<text x="326.2" y="1336.6" font-size="17" fill="#00ff00" textLength="50.8" lengthAdjust="spacingAndGlyphs" >−1,500</text>
<text x="386.2" y="1336.6" font-size="17" fill="#ff0000" textLength="50.8" lengthAdjust="spacingAndGlyphs" >−2,500</text>
<text x="471.2" y="1336.6" font-size="17" fill="#ff0000" textLength="59.5" lengthAdjust="spacingAndGlyphs" >−0,5000</text>
<text x="565.0" y="1336.6" font-size="17" fill="#00ff00" textLength="50.8" lengthAdjust="spacingAndGlyphs" >−1,500</text>
<text x="723.8" y="1336.6" font-size="17" fill="#00ff00" textLength="51.2" lengthAdjust="spacingAndGlyphs" >−2,500</text>
<g stroke="#131722" stroke-width="1.25" fill="none"><ellipse cx="454.50" cy="1331.50" rx="5.3" ry="5.6"/><path d="M449.90 1338.50L459.10 1324.50"/></g>
<g stroke="#131722" stroke-width="1.25" fill="none"><ellipse cx="547.50" cy="1331.50" rx="5.3" ry="5.6"/><path d="M542.90 1338.50L552.10 1324.50"/></g>
<g stroke="#131722" stroke-width="1.25" fill="none"><ellipse cx="633.00" cy="1331.50" rx="5.3" ry="5.6"/><path d="M628.40 1338.50L637.60 1324.50"/></g>
<g stroke="#131722" stroke-width="1.25" fill="none"><ellipse cx="657.50" cy="1331.50" rx="5.3" ry="5.6"/><path d="M652.90 1338.50L662.10 1324.50"/></g>
<g stroke="#131722" stroke-width="1.25" fill="none"><ellipse cx="682.50" cy="1331.50" rx="5.3" ry="5.6"/><path d="M677.90 1338.50L687.10 1324.50"/></g>
<g stroke="#131722" stroke-width="1.25" fill="none"><ellipse cx="707.50" cy="1331.50" rx="5.3" ry="5.6"/><path d="M702.90 1338.50L712.10 1324.50"/></g>
<rect x="10.8" y="172" width="1794" height="33" fill="rgba(255,255,255,0.6)"/>
<rect x="10.8" y="150" width="112" height="22" fill="rgba(255,255,255,0.6)"/>
<circle cx="28.6" cy="72.7" r="11.6" fill="#eef1fa"/>
<text x="28.6" y="75.6" font-size="8" fill="#2a7fb8" text-anchor="middle" textLength="15.5" lengthAdjust="spacingAndGlyphs" font-weight="bold" >PNE</text>
<text x="46.8" y="80.2" font-size="20" fill="#131722" textLength="174.0" lengthAdjust="spacingAndGlyphs" >PNE AG · 1T · XETR</text>
<path d="M243.4 60.2 H258.7 V84.1 H243.4 A11.95 11.95 0 0 1 243.4 60.2Z" fill="#e6e6e8"/>
<path d="M258.7 60.2 H273.5 A11.95 11.95 0 0 1 273.5 84.1 H258.7Z" fill="#ffecd4"/>
<rect x="239.8" y="70.3" width="12.6" height="3.8" rx="1.9" fill="#4a4a4a"/>
<text x="270.3" y="78.5" font-size="17" fill="#f57c00" text-anchor="middle" textLength="10.5" lengthAdjust="spacingAndGlyphs" >D</text>
<text x="296.4" y="79.0" font-size="17" fill="#131722" textLength="11.7" lengthAdjust="spacingAndGlyphs" >O</text>
<text x="309.9" y="79.0" font-size="17" fill="#f23645" textLength="32.8" lengthAdjust="spacingAndGlyphs" >7,63</text>
<text x="351.5" y="79.0" font-size="17" fill="#131722" textLength="11.2" lengthAdjust="spacingAndGlyphs" >H</text>
<text x="364.0" y="79.0" font-size="17" fill="#f23645" textLength="32.5" lengthAdjust="spacingAndGlyphs" >7,91</text>
<text x="406.1" y="79.0" font-size="17" fill="#131722" textLength="7.8" lengthAdjust="spacingAndGlyphs" >L</text>
<text x="416.0" y="79.0" font-size="17" fill="#f23645" textLength="33.3" lengthAdjust="spacingAndGlyphs" >7,22</text>
<text x="457.6" y="79.0" font-size="17" fill="#131722" textLength="10.4" lengthAdjust="spacingAndGlyphs" >C</text>
<text x="470.1" y="79.0" font-size="17" fill="#f23645" textLength="32.2" lengthAdjust="spacingAndGlyphs" >7,62</text>
<text x="511.7" y="79.0" font-size="17" fill="#f23645" textLength="42.1" lengthAdjust="spacingAndGlyphs" >−0,08</text>
<text x="560.3" y="79.0" font-size="17" fill="#f23645" textLength="65.0" lengthAdjust="spacingAndGlyphs" >(−1,04%)</text>
<rect x="17.4" y="93.9" width="91.4" height="44.4" rx="6" fill="#ffffff" stroke="#f23645" stroke-width="1"/>
<text x="63.1" y="113.0" font-size="16.5" fill="#f23645" text-anchor="middle" textLength="32.5" lengthAdjust="spacingAndGlyphs" font-weight="bold" >7,57</text>
<text x="63.0" y="131.0" font-size="13.5" fill="#f23645" text-anchor="middle" textLength="62.4" lengthAdjust="spacingAndGlyphs" >VERKAUF</text>
<text x="119.6" y="121.5" font-size="13" fill="#131722" textLength="26.0" lengthAdjust="spacingAndGlyphs" >0,07</text>
<rect x="156.5" y="93.9" width="65" height="44.4" rx="6" fill="#ffffff" stroke="#2962ff" stroke-width="1"/>
<text x="189.1" y="113.0" font-size="16.5" fill="#2962ff" text-anchor="middle" textLength="33.5" lengthAdjust="spacingAndGlyphs" font-weight="bold" >7,64</text>
<text x="188.8" y="131.0" font-size="13.5" fill="#2962ff" text-anchor="middle" textLength="36.0" lengthAdjust="spacingAndGlyphs" >KAUF</text>
<text x="16.9" y="167.0" font-size="17" fill="#131722" textLength="23.0" lengthAdjust="spacingAndGlyphs" >Vol</text>
<text x="52.0" y="167.0" font-size="17" fill="#f23645" textLength="64.5" lengthAdjust="spacingAndGlyphs" >101,89 K</text>
<text x="16.8" y="199.0" font-size="17" fill="#131722" textLength="222.6" lengthAdjust="spacingAndGlyphs" >Croc 3.0 Chart - Professional</text>
<text x="245.0" y="199.0" font-size="17" fill="#787b86" textLength="70.0" lengthAdjust="spacingAndGlyphs" >No Signal</text>
<text x="321.5" y="199.0" font-size="17" fill="#787b86" textLength="70.5" lengthAdjust="spacingAndGlyphs" >No Signal</text>
<text x="398.2" y="199.0" font-size="17" fill="#787b86" textLength="70.8" lengthAdjust="spacingAndGlyphs" >No Signal</text>
<text x="475.5" y="199.0" font-size="17" fill="#787b86" textLength="70.5" lengthAdjust="spacingAndGlyphs" >No Signal</text>
<text x="552.2" y="199.0" font-size="17" fill="#787b86" textLength="70.8" lengthAdjust="spacingAndGlyphs" >No Signal</text>
<text x="629.5" y="199.0" font-size="17" fill="#787b86" textLength="17.4" lengthAdjust="spacingAndGlyphs" >on</text>
<text x="653.9" y="199.0" font-size="17" fill="#787b86" textLength="17.6" lengthAdjust="spacingAndGlyphs" >on</text>
<text x="683.2" y="199.0" font-size="17" fill="#0000ff" textLength="33.0" lengthAdjust="spacingAndGlyphs" >8,03</text>
<text x="725.0" y="199.0" font-size="17" fill="#ff0000" textLength="33.0" lengthAdjust="spacingAndGlyphs" >8,11</text>
<text x="766.7" y="199.0" font-size="17" fill="#c8c8c8" textLength="33.0" lengthAdjust="spacingAndGlyphs" >7,62</text>
<text x="808.5" y="199.0" font-size="17" fill="#00ff00" textLength="33.0" lengthAdjust="spacingAndGlyphs" >8,07</text>
<text x="850.2" y="199.0" font-size="17" fill="#ff00ff" textLength="33.0" lengthAdjust="spacingAndGlyphs" >8,69</text>
<text x="892.0" y="199.0" font-size="17" fill="#0000ff" textLength="33.0" lengthAdjust="spacingAndGlyphs" >8,32</text>
<text x="933.7" y="199.0" font-size="17" fill="#ff0000" textLength="33.0" lengthAdjust="spacingAndGlyphs" >7,95</text>
<text x="975.5" y="199.0" font-size="17" fill="#00ff00" textLength="33.0" lengthAdjust="spacingAndGlyphs" >7,92</text>
<g stroke="#131722" stroke-width="1.25" fill="none"><ellipse cx="1025.50" cy="193.50" rx="5.3" ry="5.6"/><path d="M1020.90 200.50L1030.10 186.50"/></g>
<g stroke="#131722" stroke-width="1.25" fill="none"><ellipse cx="1050.28" cy="193.50" rx="5.3" ry="5.6"/><path d="M1045.68 200.50L1054.88 186.50"/></g>
<g stroke="#131722" stroke-width="1.25" fill="none"><ellipse cx="1075.06" cy="193.50" rx="5.3" ry="5.6"/><path d="M1070.46 200.50L1079.66 186.50"/></g>
<g stroke="#131722" stroke-width="1.25" fill="none"><ellipse cx="1099.84" cy="193.50" rx="5.3" ry="5.6"/><path d="M1095.24 200.50L1104.44 186.50"/></g>
<g stroke="#131722" stroke-width="1.25" fill="none"><ellipse cx="1124.62" cy="193.50" rx="5.3" ry="5.6"/><path d="M1120.02 200.50L1129.22 186.50"/></g>
<g stroke="#131722" stroke-width="1.25" fill="none"><ellipse cx="1149.40" cy="193.50" rx="5.3" ry="5.6"/><path d="M1144.80 200.50L1154.00 186.50"/></g>
<g stroke="#131722" stroke-width="1.25" fill="none"><ellipse cx="1174.18" cy="193.50" rx="5.3" ry="5.6"/><path d="M1169.58 200.50L1178.78 186.50"/></g>
<g stroke="#131722" stroke-width="1.25" fill="none"><ellipse cx="1198.96" cy="193.50" rx="5.3" ry="5.6"/><path d="M1194.36 200.50L1203.56 186.50"/></g>
<g stroke="#131722" stroke-width="1.25" fill="none"><ellipse cx="1223.74" cy="193.50" rx="5.3" ry="5.6"/><path d="M1219.14 200.50L1228.34 186.50"/></g>
<g stroke="#131722" stroke-width="1.25" fill="none"><ellipse cx="1248.52" cy="193.50" rx="5.3" ry="5.6"/><path d="M1243.92 200.50L1253.12 186.50"/></g>
<g stroke="#131722" stroke-width="1.25" fill="none"><ellipse cx="1273.30" cy="193.50" rx="5.3" ry="5.6"/><path d="M1268.70 200.50L1277.90 186.50"/></g>
<g stroke="#131722" stroke-width="1.25" fill="none"><ellipse cx="1298.08" cy="193.50" rx="5.3" ry="5.6"/><path d="M1293.48 200.50L1302.68 186.50"/></g>
<g stroke="#131722" stroke-width="1.25" fill="none"><ellipse cx="1322.86" cy="193.50" rx="5.3" ry="5.6"/><path d="M1318.26 200.50L1327.46 186.50"/></g>
<g stroke="#131722" stroke-width="1.25" fill="none"><ellipse cx="1347.64" cy="193.50" rx="5.3" ry="5.6"/><path d="M1343.04 200.50L1352.24 186.50"/></g>
<g stroke="#131722" stroke-width="1.25" fill="none"><ellipse cx="1372.42" cy="193.50" rx="5.3" ry="5.6"/><path d="M1367.82 200.50L1377.02 186.50"/></g>
<g stroke="#131722" stroke-width="1.25" fill="none"><ellipse cx="1397.20" cy="193.50" rx="5.3" ry="5.6"/><path d="M1392.60 200.50L1401.80 186.50"/></g>
<g stroke="#131722" stroke-width="1.25" fill="none"><ellipse cx="1421.98" cy="193.50" rx="5.3" ry="5.6"/><path d="M1417.38 200.50L1426.58 186.50"/></g>
<g stroke="#131722" stroke-width="1.25" fill="none"><ellipse cx="1446.76" cy="193.50" rx="5.3" ry="5.6"/><path d="M1442.16 200.50L1451.36 186.50"/></g>
<g stroke="#131722" stroke-width="1.25" fill="none"><ellipse cx="1471.54" cy="193.50" rx="5.3" ry="5.6"/><path d="M1466.94 200.50L1476.14 186.50"/></g>
<g stroke="#131722" stroke-width="1.25" fill="none"><ellipse cx="1496.32" cy="193.50" rx="5.3" ry="5.6"/><path d="M1491.72 200.50L1500.92 186.50"/></g>
<g stroke="#131722" stroke-width="1.25" fill="none"><ellipse cx="1521.10" cy="193.50" rx="5.3" ry="5.6"/><path d="M1516.50 200.50L1525.70 186.50"/></g>
<g stroke="#131722" stroke-width="1.25" fill="none"><ellipse cx="1545.88" cy="193.50" rx="5.3" ry="5.6"/><path d="M1541.28 200.50L1550.48 186.50"/></g>
<g stroke="#131722" stroke-width="1.25" fill="none"><ellipse cx="1570.66" cy="193.50" rx="5.3" ry="5.6"/><path d="M1566.06 200.50L1575.26 186.50"/></g>
<g stroke="#131722" stroke-width="1.25" fill="none"><ellipse cx="1595.44" cy="193.50" rx="5.3" ry="5.6"/><path d="M1590.84 200.50L1600.04 186.50"/></g>
<g stroke="#131722" stroke-width="1.25" fill="none"><ellipse cx="1661.00" cy="193.50" rx="5.3" ry="5.6"/><path d="M1656.40 200.50L1665.60 186.50"/></g>
<g stroke="#131722" stroke-width="1.25" fill="none"><ellipse cx="1685.80" cy="193.50" rx="5.3" ry="5.6"/><path d="M1681.20 200.50L1690.40 186.50"/></g>
<g stroke="#131722" stroke-width="1.25" fill="none"><ellipse cx="1710.60" cy="193.50" rx="5.3" ry="5.6"/><path d="M1706.00 200.50L1715.20 186.50"/></g>
<g stroke="#131722" stroke-width="1.25" fill="none"><ellipse cx="1735.40" cy="193.50" rx="5.3" ry="5.6"/><path d="M1730.80 200.50L1740.00 186.50"/></g>
<g stroke="#131722" stroke-width="1.25" fill="none"><ellipse cx="1760.20" cy="193.50" rx="5.3" ry="5.6"/><path d="M1755.60 200.50L1764.80 186.50"/></g>
<g stroke="#131722" stroke-width="1.25" fill="none"><ellipse cx="1785.00" cy="193.50" rx="5.3" ry="5.6"/><path d="M1780.40 200.50L1789.60 186.50"/></g>
<rect x="17.5" y="212.5" width="36.7" height="26.7" rx="4" fill="rgba(255,255,255,0.85)" stroke="#e3e5ea" stroke-width="1"/>
<path d="M30.5 228.5 L35.8 223 L41.1 228.5" fill="none" stroke="#131722" stroke-width="1.7"/>
<text x="2437.5" y="93.2" font-size="15" fill="#131722" textLength="38.6" lengthAdjust="spacingAndGlyphs" stroke="#131722" stroke-width="0.3">14,50</text>
<rect x="2426" y="67.80" width="58.0" height="22.40" rx="2.5" fill="#ff00ff"/>
<text x="2437.5" y="83.7" font-size="15" fill="#ffffff" textLength="38.6" lengthAdjust="spacingAndGlyphs" stroke="#ffffff" stroke-width="0.35">14,58</text>
<text x="2437.5" y="154.3" font-size="15" fill="#131722" textLength="38.6" lengthAdjust="spacingAndGlyphs" stroke="#131722" stroke-width="0.3">14,00</text>
<text x="2437.5" y="216.1" font-size="15" fill="#131722" textLength="38.6" lengthAdjust="spacingAndGlyphs" stroke="#131722" stroke-width="0.3">13,50</text>
<clipPath id="c6"><rect x="2475.3" y="500" width="20" height="160"/></clipPath><g clip-path="url(#c6)">
<text x="2437.5" y="523.6" font-size="15" fill="#131722" textLength="38.6" lengthAdjust="spacingAndGlyphs" stroke="#131722" stroke-width="0.3">11,00</text>
<text x="2437.5" y="585.2" font-size="15" fill="#131722" textLength="38.6" lengthAdjust="spacingAndGlyphs" stroke="#131722" stroke-width="0.3">10,50</text>
<text x="2437.5" y="646.7" font-size="15" fill="#131722" textLength="38.6" lengthAdjust="spacingAndGlyphs" stroke="#131722" stroke-width="0.3">10,00</text>
</g>
<rect x="2426" y="242.30" width="58.0" height="22.40" rx="2.5" fill="#8e2c2c"/>
<text x="2437.5" y="258.2" font-size="15" fill="#fff" textLength="38.6" lengthAdjust="spacingAndGlyphs" stroke="#fff" stroke-width="0.35">12,58</text>
<rect x="2426" y="265.16" width="58.0" height="22.40" rx="2.5" fill="#00ff00"/>
<text x="2437.5" y="281.1" font-size="15" fill="#000" textLength="38.6" lengthAdjust="spacingAndGlyphs" stroke="#000" stroke-width="0.35">12,18</text>
<rect x="2426" y="288.02" width="58.0" height="22.40" rx="2.5" fill="#8c8c8c"/>
<text x="2437.5" y="303.9" font-size="15" fill="#fff" textLength="38.6" lengthAdjust="spacingAndGlyphs" stroke="#fff" stroke-width="0.35">11,36</text>
<text x="2437.5" y="326.3" font-size="15" fill="#131722" textLength="38.6" lengthAdjust="spacingAndGlyphs" stroke="#131722" stroke-width="0.3">10,73</text>
<rect x="2426" y="333.74" width="58.0" height="22.40" rx="2.5" fill="#8c8c8c"/>
<text x="2437.5" y="349.6" font-size="15" fill="#fff" textLength="38.6" lengthAdjust="spacingAndGlyphs" stroke="#fff" stroke-width="0.35">10,67</text>
<rect x="2426" y="356.60" width="58.0" height="22.40" rx="2.5" fill="#00ff00"/>
<text x="2437.5" y="372.5" font-size="15" fill="#000" textLength="38.6" lengthAdjust="spacingAndGlyphs" stroke="#000" stroke-width="0.35">10,44</text>
<rect x="2426" y="379.46" width="58.0" height="22.40" rx="2.5" fill="#ff0000"/>
<text x="2437.5" y="395.4" font-size="15" fill="#fff" textLength="38.6" lengthAdjust="spacingAndGlyphs" stroke="#fff" stroke-width="0.35">10,36</text>
<rect x="2426" y="402.32" width="58.0" height="22.40" rx="2.5" fill="#00e5ff"/>
<text x="2437.5" y="418.2" font-size="15" fill="#000" textLength="38.6" lengthAdjust="spacingAndGlyphs" stroke="#000" stroke-width="0.35">10,28</text>
<rect x="2426" y="425.18" width="58.0" height="22.40" rx="2.5" fill="#00ff00"/>
<text x="2437.5" y="441.1" font-size="15" fill="#000" textLength="38.6" lengthAdjust="spacingAndGlyphs" stroke="#000" stroke-width="0.35">10,07</text>
<rect x="2426" y="448.04" width="58.0" height="22.40" rx="2.5" fill="#ffff00"/>
<text x="2437.5" y="463.9" font-size="15" fill="#000" textLength="38.6" lengthAdjust="spacingAndGlyphs" stroke="#000" stroke-width="0.35">10,02</text>
<rect x="2426" y="470.90" width="49.3" height="22.40" rx="2.5" fill="#ffff00"/>
<text x="2437.5" y="486.8" font-size="15" fill="#000" textLength="30.2" lengthAdjust="spacingAndGlyphs" stroke="#000" stroke-width="0.35">9,80</text>
<rect x="2426" y="493.76" width="49.3" height="22.40" rx="2.5" fill="#00e5ff"/>
<text x="2437.5" y="509.7" font-size="15" fill="#000" textLength="30.2" lengthAdjust="spacingAndGlyphs" stroke="#000" stroke-width="0.35">9,05</text>
<rect x="2426" y="516.62" width="49.3" height="22.40" rx="2.5" fill="#ff9f43"/>
<text x="2437.5" y="532.5" font-size="15" fill="#000" textLength="30.2" lengthAdjust="spacingAndGlyphs" stroke="#000" stroke-width="0.35">9,01</text>
<rect x="2426" y="539.48" width="49.3" height="22.40" rx="2.5" fill="#ff0000"/>
<text x="2437.5" y="555.4" font-size="15" fill="#fff" textLength="30.2" lengthAdjust="spacingAndGlyphs" stroke="#fff" stroke-width="0.35">8,94</text>
<rect x="2426" y="562.34" width="49.3" height="22.40" rx="2.5" fill="#ff00ff"/>
<text x="2437.5" y="578.2" font-size="15" fill="#fff" textLength="30.2" lengthAdjust="spacingAndGlyphs" stroke="#fff" stroke-width="0.35">8,69</text>
<rect x="2426" y="585.20" width="49.3" height="22.40" rx="2.5" fill="#0000ff"/>
<text x="2437.5" y="601.1" font-size="15" fill="#fff" textLength="30.2" lengthAdjust="spacingAndGlyphs" stroke="#fff" stroke-width="0.35">8,53</text>
<rect x="2426" y="608.06" width="49.3" height="22.40" rx="2.5" fill="#8c8c8c"/>
<text x="2437.5" y="624.0" font-size="15" fill="#fff" textLength="30.2" lengthAdjust="spacingAndGlyphs" stroke="#fff" stroke-width="0.35">8,51</text>
<rect x="2426" y="630.92" width="49.3" height="22.40" rx="2.5" fill="#00ff00"/>
<text x="2437.5" y="646.8" font-size="15" fill="#000" textLength="30.2" lengthAdjust="spacingAndGlyphs" stroke="#000" stroke-width="0.35">8,46</text>
<rect x="2426" y="653.78" width="49.3" height="22.40" rx="2.5" fill="#ff9f43"/>
<text x="2437.5" y="669.7" font-size="15" fill="#000" textLength="30.2" lengthAdjust="spacingAndGlyphs" stroke="#000" stroke-width="0.35">8,36</text>
<rect x="2426" y="676.64" width="49.3" height="22.40" rx="2.5" fill="#0000ff"/>
<text x="2437.5" y="692.5" font-size="15" fill="#fff" textLength="30.2" lengthAdjust="spacingAndGlyphs" stroke="#fff" stroke-width="0.35">8,32</text>
<rect x="2426" y="699.50" width="49.3" height="22.40" rx="2.5" fill="#ff00ff"/>
<text x="2437.5" y="715.4" font-size="15" fill="#fff" textLength="30.2" lengthAdjust="spacingAndGlyphs" stroke="#fff" stroke-width="0.35">8,19</text>
<rect x="2426" y="722.36" width="49.3" height="22.40" rx="2.5" fill="#ff0000"/>
<text x="2437.5" y="738.3" font-size="15" fill="#fff" textLength="30.2" lengthAdjust="spacingAndGlyphs" stroke="#fff" stroke-width="0.35">8,11</text>
<rect x="2426" y="745.22" width="49.3" height="22.40" rx="2.5" fill="#00ff00"/>
<text x="2437.5" y="761.1" font-size="15" fill="#000" textLength="30.2" lengthAdjust="spacingAndGlyphs" stroke="#000" stroke-width="0.35">8,07</text>
<rect x="2426" y="768.08" width="49.3" height="22.40" rx="2.5" fill="#0000ff"/>
<text x="2437.5" y="784.0" font-size="15" fill="#fff" textLength="30.2" lengthAdjust="spacingAndGlyphs" stroke="#fff" stroke-width="0.35">8,03</text>
<rect x="2426" y="790.94" width="49.3" height="22.40" rx="2.5" fill="#ff0000"/>
<text x="2437.5" y="806.8" font-size="15" fill="#fff" textLength="30.2" lengthAdjust="spacingAndGlyphs" stroke="#fff" stroke-width="0.35">7,95</text>
<rect x="2426" y="813.80" width="49.3" height="22.40" rx="2.5" fill="#00ff00"/>
<text x="2437.5" y="829.7" font-size="15" fill="#000" textLength="30.2" lengthAdjust="spacingAndGlyphs" stroke="#000" stroke-width="0.35">7,92</text>
<rect x="2426" y="836.66" width="49.3" height="22.40" rx="2.5" fill="#000000"/>
<text x="2437.5" y="852.6" font-size="15" fill="#fff" textLength="30.2" lengthAdjust="spacingAndGlyphs" stroke="#fff" stroke-width="0.35">7,78</text>
<rect x="2426" y="859.52" width="49.3" height="22.40" rx="2.5" fill="#ff0000"/>
<text x="2437.5" y="875.4" font-size="15" fill="#fff" textLength="30.2" lengthAdjust="spacingAndGlyphs" stroke="#fff" stroke-width="0.35">7,74</text>
<rect x="2426" y="882.38" width="49.3" height="22.40" rx="2.5" fill="#007000"/>
<text x="2437.5" y="898.3" font-size="15" fill="#fff" textLength="30.2" lengthAdjust="spacingAndGlyphs" stroke="#fff" stroke-width="0.35">7,68</text>
<rect x="2426" y="905.24" width="49.3" height="22.40" rx="2.5" fill="#c8c8c8"/>
<text x="2437.5" y="921.1" font-size="15" fill="#000" textLength="30.2" lengthAdjust="spacingAndGlyphs" stroke="#000" stroke-width="0.35">7,62</text>
<rect x="2426" y="928.10" width="49.3" height="22.40" rx="2.5" fill="#ff0000"/>
<text x="2437.5" y="944.0" font-size="15" fill="#fff" textLength="30.2" lengthAdjust="spacingAndGlyphs" stroke="#fff" stroke-width="0.35">7,62</text>
<rect x="2426" y="950.96" width="49.3" height="22.40" rx="2.5" fill="#8c8c8c"/>
<text x="2437.5" y="966.9" font-size="15" fill="#fff" textLength="30.2" lengthAdjust="spacingAndGlyphs" stroke="#fff" stroke-width="0.35">7,57</text>
<text x="2437.5" y="1002.7" font-size="15" fill="#131722" textLength="30.2" lengthAdjust="spacingAndGlyphs" stroke="#131722" stroke-width="0.3">7,12</text>
<rect x="2426" y="1010.2" width="80" height="22.8" rx="2.5" fill="#eb4d4d"/>
<text x="2437.5" y="1027.0" font-size="15" fill="#ffffff" textLength="58.0" lengthAdjust="spacingAndGlyphs" >101,89 K</text>
<text x="2437.5" y="1078.2" font-size="15" fill="#131722" textLength="30.2" lengthAdjust="spacingAndGlyphs" stroke="#131722" stroke-width="0.3">6,50</text>
<clipPath id="c3"><rect x="2426" y="1098.4" width="60" height="11.2"/></clipPath>
<g clip-path="url(#c3)"><rect x="2426" y="1090" width="58" height="19.6" rx="2.5" fill="#ff0000"/>
<text x="2437.5" y="1105.0" font-size="15" fill="#ffffff" >14,00</text>
</g>
<rect x="2426" y="1110.30" width="58.0" height="22.00" rx="2.5" fill="#00ff00"/>
<text x="2437.5" y="1126.0" font-size="15" fill="#000" textLength="38.6" lengthAdjust="spacingAndGlyphs" stroke="#000" stroke-width="0.35">14,00</text>
<text x="2437.5" y="1154.2" font-size="15" fill="#131722" textLength="38.6" lengthAdjust="spacingAndGlyphs" stroke="#131722" stroke-width="0.3">12,00</text>
<rect x="2426" y="1146.25" width="58.0" height="22.30" rx="2.5" fill="#ffff00"/>
<text x="2437.5" y="1162.1" font-size="15" fill="#000" textLength="38.6" lengthAdjust="spacingAndGlyphs" stroke="#000" stroke-width="0.35">11,50</text>
<rect x="2426" y="1169.00" width="58.0" height="22.00" rx="2.5" fill="#ff0000"/>
<text x="2437.5" y="1184.7" font-size="15" fill="#fff" textLength="38.6" lengthAdjust="spacingAndGlyphs" stroke="#fff" stroke-width="0.35">11,50</text>
<rect x="2426" y="1191.65" width="58.0" height="22.30" rx="2.5" fill="#00ff00"/>
<text x="2437.5" y="1207.5" font-size="15" fill="#000" textLength="38.6" lengthAdjust="spacingAndGlyphs" stroke="#000" stroke-width="0.35">11,50</text>
<rect x="2426" y="1214.35" width="58.0" height="22.30" rx="2.5" fill="#00ff00"/>
<text x="2437.5" y="1230.2" font-size="15" fill="#000" textLength="38.6" lengthAdjust="spacingAndGlyphs" stroke="#000" stroke-width="0.35">10,50</text>
<clipPath id="c4"><rect x="2426" y="1237.2" width="60" height="7"/></clipPath>
<g clip-path="url(#c4)"><rect x="2426" y="1237.2" width="58" height="22" rx="2.5" fill="#000000"/>
<text x="2437.5" y="1253.0" font-size="15" fill="#ffffff" >10,50</text>
</g>
<rect x="2426" y="1245.30" width="65.0" height="21.70" rx="2.5" fill="#ff0000"/>
<text x="2437.5" y="1260.4" font-size="15" fill="#fff" textLength="46.5" lengthAdjust="spacingAndGlyphs" stroke="#fff" stroke-width="0.3">0,0000</text>
<rect x="2426" y="1267.50" width="65.0" height="21.70" rx="2.5" fill="#007000"/>
<text x="2437.5" y="1282.5" font-size="15" fill="#fff" textLength="46.5" lengthAdjust="spacingAndGlyphs" stroke="#fff" stroke-width="0.3">0,0000</text>
<rect x="2426" y="1289.70" width="65.0" height="18.30" rx="2.5" fill="#00e5ff"/>
<text x="2437.5" y="1303.0" font-size="15" fill="#000" textLength="46.5" lengthAdjust="spacingAndGlyphs" stroke="#000" stroke-width="0.3">−1,000</text>
<rect x="2426" y="1308.7" width="80" height="5" fill="#00ff00"/>
<rect x="2426" y="1313.50" width="84.0" height="22.20" rx="2.5" fill="#ff0000"/>
<text x="2437.5" y="1328.8" font-size="15" fill="#fff" textLength="54.5" lengthAdjust="spacingAndGlyphs" stroke="#fff" stroke-width="0.3">−0,5000</text>
<rect x="2426" y="1336.20" width="65.0" height="22.20" rx="2.5" fill="#00ff00"/>
<text x="2437.5" y="1351.5" font-size="15" fill="#000" textLength="46.5" lengthAdjust="spacingAndGlyphs" stroke="#000" stroke-width="0.3">−1,500</text>
<clipPath id="c5"><rect x="2426" y="1358.4" width="70" height="9.8"/></clipPath>
<g clip-path="url(#c5)"><rect x="2426" y="1358.4" width="65" height="22" fill="#00ff00"/>
<text x="2437.5" y="1375.0" font-size="15" fill="#000" >−1,500</text>
</g>
<rect x="5.2" y="1.8" width="171.6" height="36.8" rx="18.4" fill="#ececec"/>
<text x="21.8" y="26.8" font-size="17.5" fill="#131722" textLength="44.0" lengthAdjust="spacingAndGlyphs" font-weight="bold" >PNE3</text>
<circle cx="158.5" cy="20.2" r="16.2" fill="#ffffff"/>
<path d="M153.2 13.5 H163.8 L168 18.8 L158.5 28 L149 18.8 Z" fill="none" stroke="#131722" stroke-width="1.3" stroke-linejoin="round"/>
<path d="M158.5 16 V24 M156 20 H161 M158.5 16.3 L160.7 20 L158.5 23.7 L156.3 20Z" stroke="#131722" stroke-width="1.2" fill="#131722"/>
<circle cx="207" cy="20.8" r="12" fill="none" stroke="#131722" stroke-width="1.4"/>
<path d="M207 14.5V27.1M200.7 20.8H213.3" stroke="#131722" stroke-width="1.4"/>
<path d="M239.2 6.5V34.5" stroke="#e0e3eb" stroke-width="1"/>
<path d="M300.5 6.5V34.5" stroke="#e0e3eb" stroke-width="1"/>
<path d="M363.6 6.5V34.5" stroke="#e0e3eb" stroke-width="1"/>
<path d="M617.5 6.5V34.5" stroke="#e0e3eb" stroke-width="1"/>
<path d="M904.0 6.5V34.5" stroke="#e0e3eb" stroke-width="1"/>
<path d="M2374.0 6.5V34.5" stroke="#e0e3eb" stroke-width="1"/>
<text x="269.8" y="27.0" font-size="18" fill="#131722" text-anchor="middle" textLength="11.0" lengthAdjust="spacingAndGlyphs" >T</text>
<path d="M327.8 7.5V12.5M327.8 28V32.5" stroke="#131722" stroke-width="1.3"/>
<rect x="325.3" y="12.5" width="5" height="15.5" fill="#777" stroke="#131722" stroke-width="1.1"/>
<path d="M338.6 12V17M338.6 25V29.5" stroke="#131722" stroke-width="1.3"/>
<rect x="336.2" y="17" width="4.8" height="8" fill="#fff" stroke="#131722" stroke-width="1.3"/>
<path d="M385.5 17.5 L392.5 10.5 L397 14.5 L407 8.5" fill="none" stroke="#131722" stroke-width="1.4"/>
<path d="M385.3 31.5V26H391V31.5M391 31.5V22H396.8V31.5M396.8 31.5V18H402.5V31.5M385.3 31.5H407" fill="none" stroke="#131722" stroke-width="1.4"/>
<path d="M402.5 18 H407 V31.5" fill="none" stroke="#131722" stroke-width="1.4"/>
<text x="419.5" y="26.8" font-size="17.5" fill="#131722" textLength="96.0" lengthAdjust="spacingAndGlyphs" >Indikatoren</text>
<path d="M540.5 18.5 L545 22.8 L549.5 18.5" fill="none" stroke="#131722" stroke-width="1.4"/>
<rect x="575.5" y="10.5" width="8.6" height="8.6" rx="2.2" fill="none" stroke="#131722" stroke-width="1.3"/>
<rect x="588.5" y="10.5" width="8.6" height="8.6" rx="2.2" fill="none" stroke="#131722" stroke-width="1.3"/>
<rect x="575.5" y="23.0" width="8.6" height="8.6" rx="2.2" fill="none" stroke="#131722" stroke-width="1.3"/>
<rect x="588.5" y="23.0" width="8.6" height="8.6" rx="2.2" fill="none" stroke="#131722" stroke-width="1.3"/>
<path d="M660.5 22 A11.3 11.3 0 1 0 648.5 32.6" fill="none" stroke="#131722" stroke-width="1.4"/>
<path d="M649 14.5V21.5H643.5" fill="none" stroke="#131722" stroke-width="1.4"/>
<path d="M635.3 12.8 L640.6 8.3 M656.2 8.3 L661.2 12.8" fill="none" stroke="#131722" stroke-width="1.4"/>
<path d="M656 22.5V34M650.3 28.2H661.7" stroke="#131722" stroke-width="1.4"/>
<text x="673.5" y="26.8" font-size="17.5" fill="#131722" textLength="49.0" lengthAdjust="spacingAndGlyphs" >Alarm</text>
<path d="M761.5 14.5 L753 21 L761.5 27.5 Z M772 14.5 L763.5 21 L772 27.5 Z" fill="none" stroke="#131722" stroke-width="1.3" stroke-linejoin="round"/>
<text x="786.0" y="26.8" font-size="17.5" fill="#131722" textLength="99.0" lengthAdjust="spacingAndGlyphs" >Wiedergabe</text>
<path d="M927.5 17.5 H938 A6 6 0 0 1 944 23.5 V26.5 M932 12.5 L927 17.5 L932 22.5" fill="none" stroke="#131722" stroke-width="1.4"/>
<path d="M995 17.5 H984.5 A6 6 0 0 0 978.5 23.5 V26.5 M990.5 12.5 L995.5 17.5 L990.5 22.5" fill="none" stroke="#c2c4cc" stroke-width="1.4"/>
<rect x="2204.5" y="9.5" width="24" height="21.5" rx="3" fill="none" stroke="#131722" stroke-width="1.4"/>
<text x="2249.0" y="26.8" font-size="17.5" fill="#131722" textLength="78.5" lengthAdjust="spacingAndGlyphs" >Unnamed</text>
<path d="M2347 18.5 L2351.5 22.8 L2356 18.5" fill="none" stroke="#131722" stroke-width="1.4"/>
<path d="M2412.5 19 A9 9 0 1 1 2402 11 M2411 26 L2416.5 32" fill="none" stroke="#131722" stroke-width="1.4"/>
<path d="M2408 7 L2403.5 16.5 H2408.5 L2406 24 L2412.5 13.5 H2408 L2410 7Z" fill="#ffffff" stroke="#131722" stroke-width="1.2" stroke-linejoin="round"/>
<path d="M2449.5 8.5 H2463 L2470 20.5 L2463 32.5 H2449.5 L2442.5 20.5 Z" fill="none" stroke="#131722" stroke-width="1.4" stroke-linejoin="round"/>
<circle cx="2456.2" cy="20.5" r="4.8" fill="none" stroke="#131722" stroke-width="1.4"/>
<path d="M2500 10 H2497.5 Q2495.5 10 2495.5 12 V16 M2495.5 25 V29 Q2495.5 31 2497.5 31 H2500" fill="none" stroke="#131722" stroke-width="1.4"/>
</svg></body></html>
